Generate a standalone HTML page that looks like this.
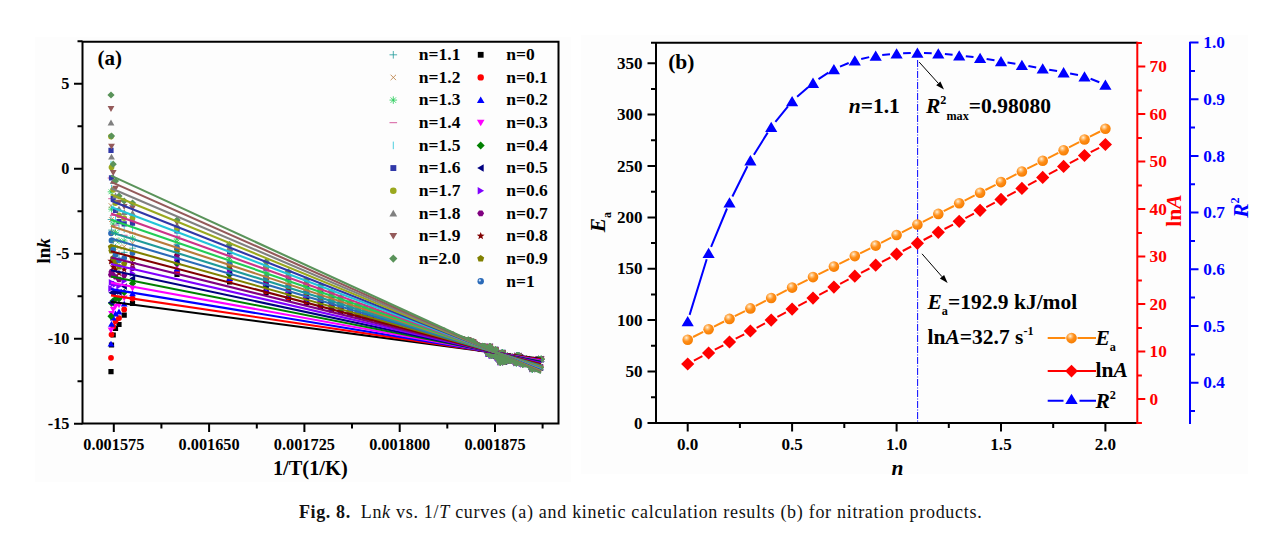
<!DOCTYPE html>
<html><head><meta charset="utf-8"><title>Fig. 8</title>
<style>
html,body{margin:0;padding:0;background:#fff;}
body{width:1269px;height:546px;overflow:hidden;font-family:"Liberation Serif",serif;}
svg{display:block;position:absolute;left:0;top:0;}
</style></head><body>
<svg width="1269" height="546" viewBox="0 0 1269 546">
<defs><radialGradient id="gs" cx="0.38" cy="0.32" r="0.7"><stop offset="0" stop-color="#fff1dc"/><stop offset="0.22" stop-color="#ffc27a"/><stop offset="0.5" stop-color="#ff8f1a"/><stop offset="1" stop-color="#f57c00"/></radialGradient></defs>
<rect width="1269" height="546" fill="#fff"/>
<rect x="35" y="37" width="536" height="445" fill="#fdfdfd"/><rect x="581" y="35" width="667" height="439" fill="#fdfdfd"/>
<g id="a-scatter">
<path d="M108.4 369h5.2v5.2h-5.2ZM108.9 342.4h5.2v5.2h-5.2ZM110.6 332.4h5.2v5.2h-5.2ZM112.9 325.9h5.2v5.2h-5.2ZM116.4 321.9h5.2v5.2h-5.2ZM121.6 312.6h5.2v5.2h-5.2ZM129.9 300.9h5.2v5.2h-5.2ZM174.4 271.7h5.2v5.2h-5.2ZM227 279.3h5.2v5.2h-5.2ZM263.5 289.8h5.2v5.2h-5.2ZM285.8 296.2h5.2v5.2h-5.2ZM303.8 299.9h5.2v5.2h-5.2ZM317.9 304.1h5.2v5.2h-5.2ZM328.9 307.2h5.2v5.2h-5.2ZM338 308.9h5.2v5.2h-5.2ZM347.2 311.8h5.2v5.2h-5.2ZM355.2 313.6h5.2v5.2h-5.2ZM362.4 314.6h5.2v5.2h-5.2ZM368.9 315.5h5.2v5.2h-5.2ZM374.7 317.6h5.2v5.2h-5.2ZM380 319h5.2v5.2h-5.2ZM384.7 319.9h5.2v5.2h-5.2ZM388.9 319.9h5.2v5.2h-5.2ZM392.8 320.7h5.2v5.2h-5.2ZM396.2 319.3h5.2v5.2h-5.2ZM399.3 320.2h5.2v5.2h-5.2ZM402.1 321.3h5.2v5.2h-5.2ZM404.6 321.9h5.2v5.2h-5.2ZM406.9 323.1h5.2v5.2h-5.2ZM408.9 323.8h5.2v5.2h-5.2ZM410.7 324.4h5.2v5.2h-5.2ZM412.4 323.5h5.2v5.2h-5.2ZM413.9 324h5.2v5.2h-5.2ZM415.2 325h5.2v5.2h-5.2ZM416.4 324.4h5.2v5.2h-5.2ZM417.5 325.5h5.2v5.2h-5.2ZM418.4 324.9h5.2v5.2h-5.2ZM419.3 324.7h5.2v5.2h-5.2ZM420.1 326.4h5.2v5.2h-5.2ZM420.9 324.7h5.2v5.2h-5.2ZM421.7 324.9h5.2v5.2h-5.2ZM422.5 326h5.2v5.2h-5.2ZM423.3 326h5.2v5.2h-5.2ZM424.1 326.9h5.2v5.2h-5.2ZM424.9 327.7h5.2v5.2h-5.2ZM425.7 327h5.2v5.2h-5.2ZM426.5 327.8h5.2v5.2h-5.2ZM427.3 327.2h5.2v5.2h-5.2ZM428.1 327.2h5.2v5.2h-5.2ZM428.9 327.4h5.2v5.2h-5.2ZM429.7 327.8h5.2v5.2h-5.2ZM430.5 329.1h5.2v5.2h-5.2ZM431.3 326.6h5.2v5.2h-5.2ZM432.1 328.1h5.2v5.2h-5.2ZM432.9 328.6h5.2v5.2h-5.2ZM433.7 329.2h5.2v5.2h-5.2ZM434.5 329.6h5.2v5.2h-5.2ZM435.3 330.8h5.2v5.2h-5.2ZM436.1 331h5.2v5.2h-5.2ZM436.9 330.4h5.2v5.2h-5.2ZM437.7 330.8h5.2v5.2h-5.2ZM438.5 329.3h5.2v5.2h-5.2ZM439.3 329.6h5.2v5.2h-5.2ZM440.1 331.3h5.2v5.2h-5.2ZM440.9 331.1h5.2v5.2h-5.2ZM441.7 331.1h5.2v5.2h-5.2ZM442.5 332h5.2v5.2h-5.2ZM443.3 332.6h5.2v5.2h-5.2ZM444.1 331.7h5.2v5.2h-5.2ZM444.9 332.9h5.2v5.2h-5.2ZM445.7 333h5.2v5.2h-5.2ZM446.5 333.5h5.2v5.2h-5.2ZM447.3 333h5.2v5.2h-5.2ZM448.1 333.2h5.2v5.2h-5.2ZM448.9 333.9h5.2v5.2h-5.2ZM449.7 334.7h5.2v5.2h-5.2ZM450.5 335.2h5.2v5.2h-5.2ZM451.3 336.1h5.2v5.2h-5.2ZM452.1 336h5.2v5.2h-5.2ZM452.9 336.3h5.2v5.2h-5.2ZM453.7 336.1h5.2v5.2h-5.2ZM454.5 336.5h5.2v5.2h-5.2ZM455.3 337.3h5.2v5.2h-5.2ZM456.1 338.3h5.2v5.2h-5.2ZM456.9 337.6h5.2v5.2h-5.2ZM457.7 338.2h5.2v5.2h-5.2ZM458.5 337.8h5.2v5.2h-5.2ZM459.3 337.5h5.2v5.2h-5.2ZM460.1 338.2h5.2v5.2h-5.2ZM460.9 338.6h5.2v5.2h-5.2ZM461.7 338.7h5.2v5.2h-5.2ZM462.5 338.5h5.2v5.2h-5.2ZM463.3 340.5h5.2v5.2h-5.2ZM464.1 339.9h5.2v5.2h-5.2ZM464.9 339.8h5.2v5.2h-5.2ZM465.7 338.3h5.2v5.2h-5.2ZM466.5 339h5.2v5.2h-5.2ZM467.3 340.4h5.2v5.2h-5.2ZM468.1 341.5h5.2v5.2h-5.2ZM468.9 339.8h5.2v5.2h-5.2ZM469.7 340.6h5.2v5.2h-5.2ZM470.5 340h5.2v5.2h-5.2ZM471.3 341.5h5.2v5.2h-5.2ZM472.1 342h5.2v5.2h-5.2ZM472.9 343.5h5.2v5.2h-5.2ZM473.7 343h5.2v5.2h-5.2ZM474.5 343.6h5.2v5.2h-5.2ZM475.3 344.3h5.2v5.2h-5.2ZM476.1 344.1h5.2v5.2h-5.2ZM476.9 345.2h5.2v5.2h-5.2ZM477.7 345.9h5.2v5.2h-5.2ZM478.5 346.2h5.2v5.2h-5.2ZM479.3 346.1h5.2v5.2h-5.2ZM480.1 344.1h5.2v5.2h-5.2ZM480.9 345h5.2v5.2h-5.2ZM481.7 344.3h5.2v5.2h-5.2ZM482.5 346.5h5.2v5.2h-5.2ZM483.3 346.6h5.2v5.2h-5.2ZM484.1 346.4h5.2v5.2h-5.2ZM484.9 348.3h5.2v5.2h-5.2ZM485.7 351.1h5.2v5.2h-5.2ZM486.5 350.2h5.2v5.2h-5.2ZM487.3 344.1h5.2v5.2h-5.2ZM488.1 351.1h5.2v5.2h-5.2ZM488.9 352.9h5.2v5.2h-5.2ZM489.7 348.4h5.2v5.2h-5.2ZM490.5 352h5.2v5.2h-5.2ZM491.3 350.9h5.2v5.2h-5.2ZM492.1 350.3h5.2v5.2h-5.2ZM492.9 347.1h5.2v5.2h-5.2ZM493.7 352h5.2v5.2h-5.2ZM494.5 354.6h5.2v5.2h-5.2ZM495.3 354.9h5.2v5.2h-5.2ZM496.1 356.7h5.2v5.2h-5.2ZM496.9 355.1h5.2v5.2h-5.2ZM497.7 359.7h5.2v5.2h-5.2ZM498.5 355.2h5.2v5.2h-5.2ZM499.3 350.4h5.2v5.2h-5.2ZM500.1 350.3h5.2v5.2h-5.2ZM500.9 359.1h5.2v5.2h-5.2ZM501.7 358.9h5.2v5.2h-5.2ZM502.5 355.3h5.2v5.2h-5.2ZM503.3 355.1h5.2v5.2h-5.2ZM504.1 358h5.2v5.2h-5.2ZM504.9 353.5h5.2v5.2h-5.2ZM505.7 354.1h5.2v5.2h-5.2ZM506.5 356.8h5.2v5.2h-5.2ZM507.3 357.9h5.2v5.2h-5.2ZM508.1 357.2h5.2v5.2h-5.2ZM508.9 355.9h5.2v5.2h-5.2ZM509.7 354.7h5.2v5.2h-5.2ZM510.5 355.7h5.2v5.2h-5.2ZM511.3 356.3h5.2v5.2h-5.2ZM512.1 358.8h5.2v5.2h-5.2ZM512.9 356.7h5.2v5.2h-5.2ZM513.7 360.4h5.2v5.2h-5.2ZM514.5 353.1h5.2v5.2h-5.2ZM515.3 356.1h5.2v5.2h-5.2ZM516.1 353.3h5.2v5.2h-5.2ZM516.9 359.2h5.2v5.2h-5.2ZM517.7 354.8h5.2v5.2h-5.2ZM518.5 359h5.2v5.2h-5.2ZM519.3 360.8h5.2v5.2h-5.2ZM520.1 361.7h5.2v5.2h-5.2ZM520.9 357h5.2v5.2h-5.2ZM521.7 359.4h5.2v5.2h-5.2ZM522.5 357.3h5.2v5.2h-5.2ZM523.3 359.5h5.2v5.2h-5.2ZM524.1 356.6h5.2v5.2h-5.2ZM524.9 357.8h5.2v5.2h-5.2ZM525.7 360h5.2v5.2h-5.2ZM526.5 359h5.2v5.2h-5.2ZM527.3 361.4h5.2v5.2h-5.2ZM528.1 360.4h5.2v5.2h-5.2ZM528.9 364.5h5.2v5.2h-5.2ZM529.7 366.6h5.2v5.2h-5.2ZM530.5 357.9h5.2v5.2h-5.2ZM531.3 364.8h5.2v5.2h-5.2ZM532.1 361.2h5.2v5.2h-5.2ZM532.9 365.9h5.2v5.2h-5.2ZM533.7 358.8h5.2v5.2h-5.2ZM534.5 365.6h5.2v5.2h-5.2ZM535.3 357.1h5.2v5.2h-5.2ZM536.1 356.7h5.2v5.2h-5.2ZM536.9 357h5.2v5.2h-5.2ZM537.7 364.9h5.2v5.2h-5.2ZM538.5 356.7h5.2v5.2h-5.2Z" fill="#000000"/>
<path d="M108.1 357.8a2.9 2.9 0 1 0 5.8 0a2.9 2.9 0 1 0 -5.8 0ZM108.6 334.6a2.9 2.9 0 1 0 5.8 0a2.9 2.9 0 1 0 -5.8 0ZM110.3 326.5a2.9 2.9 0 1 0 5.8 0a2.9 2.9 0 1 0 -5.8 0ZM112.6 321.1a2.9 2.9 0 1 0 5.8 0a2.9 2.9 0 1 0 -5.8 0ZM116.1 318.1a2.9 2.9 0 1 0 5.8 0a2.9 2.9 0 1 0 -5.8 0ZM121.3 309.5a2.9 2.9 0 1 0 5.8 0a2.9 2.9 0 1 0 -5.8 0ZM129.6 298.5a2.9 2.9 0 1 0 5.8 0a2.9 2.9 0 1 0 -5.8 0ZM174.1 271.6a2.9 2.9 0 1 0 5.8 0a2.9 2.9 0 1 0 -5.8 0ZM226.7 280a2.9 2.9 0 1 0 5.8 0a2.9 2.9 0 1 0 -5.8 0ZM263.2 290.9a2.9 2.9 0 1 0 5.8 0a2.9 2.9 0 1 0 -5.8 0ZM285.5 297.4a2.9 2.9 0 1 0 5.8 0a2.9 2.9 0 1 0 -5.8 0ZM303.5 301.4a2.9 2.9 0 1 0 5.8 0a2.9 2.9 0 1 0 -5.8 0ZM317.6 305.6a2.9 2.9 0 1 0 5.8 0a2.9 2.9 0 1 0 -5.8 0ZM328.6 308.9a2.9 2.9 0 1 0 5.8 0a2.9 2.9 0 1 0 -5.8 0ZM337.7 310.8a2.9 2.9 0 1 0 5.8 0a2.9 2.9 0 1 0 -5.8 0ZM346.9 313.8a2.9 2.9 0 1 0 5.8 0a2.9 2.9 0 1 0 -5.8 0ZM354.9 315.7a2.9 2.9 0 1 0 5.8 0a2.9 2.9 0 1 0 -5.8 0ZM362.1 316.7a2.9 2.9 0 1 0 5.8 0a2.9 2.9 0 1 0 -5.8 0ZM368.6 317.7a2.9 2.9 0 1 0 5.8 0a2.9 2.9 0 1 0 -5.8 0ZM374.4 319.8a2.9 2.9 0 1 0 5.8 0a2.9 2.9 0 1 0 -5.8 0ZM379.6 321.3a2.9 2.9 0 1 0 5.8 0a2.9 2.9 0 1 0 -5.8 0ZM384.4 322.2a2.9 2.9 0 1 0 5.8 0a2.9 2.9 0 1 0 -5.8 0ZM388.6 322.2a2.9 2.9 0 1 0 5.8 0a2.9 2.9 0 1 0 -5.8 0ZM392.5 323.1a2.9 2.9 0 1 0 5.8 0a2.9 2.9 0 1 0 -5.8 0ZM395.9 321.6a2.9 2.9 0 1 0 5.8 0a2.9 2.9 0 1 0 -5.8 0ZM399 322.6a2.9 2.9 0 1 0 5.8 0a2.9 2.9 0 1 0 -5.8 0ZM401.8 323.7a2.9 2.9 0 1 0 5.8 0a2.9 2.9 0 1 0 -5.8 0ZM404.3 324.3a2.9 2.9 0 1 0 5.8 0a2.9 2.9 0 1 0 -5.8 0ZM406.6 325.5a2.9 2.9 0 1 0 5.8 0a2.9 2.9 0 1 0 -5.8 0ZM408.6 326.2a2.9 2.9 0 1 0 5.8 0a2.9 2.9 0 1 0 -5.8 0ZM410.4 326.8a2.9 2.9 0 1 0 5.8 0a2.9 2.9 0 1 0 -5.8 0ZM412.1 325.9a2.9 2.9 0 1 0 5.8 0a2.9 2.9 0 1 0 -5.8 0ZM413.5 326.4a2.9 2.9 0 1 0 5.8 0a2.9 2.9 0 1 0 -5.8 0ZM414.9 327.4a2.9 2.9 0 1 0 5.8 0a2.9 2.9 0 1 0 -5.8 0ZM416.1 326.8a2.9 2.9 0 1 0 5.8 0a2.9 2.9 0 1 0 -5.8 0ZM417.2 327.9a2.9 2.9 0 1 0 5.8 0a2.9 2.9 0 1 0 -5.8 0ZM418.1 327.4a2.9 2.9 0 1 0 5.8 0a2.9 2.9 0 1 0 -5.8 0ZM419 327.1a2.9 2.9 0 1 0 5.8 0a2.9 2.9 0 1 0 -5.8 0ZM419.8 328.8a2.9 2.9 0 1 0 5.8 0a2.9 2.9 0 1 0 -5.8 0ZM420.6 327.2a2.9 2.9 0 1 0 5.8 0a2.9 2.9 0 1 0 -5.8 0ZM421.4 327.4a2.9 2.9 0 1 0 5.8 0a2.9 2.9 0 1 0 -5.8 0ZM422.2 328.5a2.9 2.9 0 1 0 5.8 0a2.9 2.9 0 1 0 -5.8 0ZM423 328.4a2.9 2.9 0 1 0 5.8 0a2.9 2.9 0 1 0 -5.8 0ZM423.8 329.3a2.9 2.9 0 1 0 5.8 0a2.9 2.9 0 1 0 -5.8 0ZM424.6 330.1a2.9 2.9 0 1 0 5.8 0a2.9 2.9 0 1 0 -5.8 0ZM425.4 329.5a2.9 2.9 0 1 0 5.8 0a2.9 2.9 0 1 0 -5.8 0ZM426.2 330.2a2.9 2.9 0 1 0 5.8 0a2.9 2.9 0 1 0 -5.8 0ZM427 329.7a2.9 2.9 0 1 0 5.8 0a2.9 2.9 0 1 0 -5.8 0ZM427.8 329.7a2.9 2.9 0 1 0 5.8 0a2.9 2.9 0 1 0 -5.8 0ZM428.6 329.9a2.9 2.9 0 1 0 5.8 0a2.9 2.9 0 1 0 -5.8 0ZM429.4 330.3a2.9 2.9 0 1 0 5.8 0a2.9 2.9 0 1 0 -5.8 0ZM430.2 331.6a2.9 2.9 0 1 0 5.8 0a2.9 2.9 0 1 0 -5.8 0ZM431 329.1a2.9 2.9 0 1 0 5.8 0a2.9 2.9 0 1 0 -5.8 0ZM431.8 330.5a2.9 2.9 0 1 0 5.8 0a2.9 2.9 0 1 0 -5.8 0ZM432.6 331.1a2.9 2.9 0 1 0 5.8 0a2.9 2.9 0 1 0 -5.8 0ZM433.4 331.7a2.9 2.9 0 1 0 5.8 0a2.9 2.9 0 1 0 -5.8 0ZM434.2 332.1a2.9 2.9 0 1 0 5.8 0a2.9 2.9 0 1 0 -5.8 0ZM435 333.3a2.9 2.9 0 1 0 5.8 0a2.9 2.9 0 1 0 -5.8 0ZM435.8 333.5a2.9 2.9 0 1 0 5.8 0a2.9 2.9 0 1 0 -5.8 0ZM436.6 332.9a2.9 2.9 0 1 0 5.8 0a2.9 2.9 0 1 0 -5.8 0ZM437.4 333.3a2.9 2.9 0 1 0 5.8 0a2.9 2.9 0 1 0 -5.8 0ZM438.2 331.8a2.9 2.9 0 1 0 5.8 0a2.9 2.9 0 1 0 -5.8 0ZM439 332.2a2.9 2.9 0 1 0 5.8 0a2.9 2.9 0 1 0 -5.8 0ZM439.8 333.8a2.9 2.9 0 1 0 5.8 0a2.9 2.9 0 1 0 -5.8 0ZM440.6 333.7a2.9 2.9 0 1 0 5.8 0a2.9 2.9 0 1 0 -5.8 0ZM441.4 333.6a2.9 2.9 0 1 0 5.8 0a2.9 2.9 0 1 0 -5.8 0ZM442.2 334.5a2.9 2.9 0 1 0 5.8 0a2.9 2.9 0 1 0 -5.8 0ZM443 335.1a2.9 2.9 0 1 0 5.8 0a2.9 2.9 0 1 0 -5.8 0ZM443.8 334.2a2.9 2.9 0 1 0 5.8 0a2.9 2.9 0 1 0 -5.8 0ZM444.6 335.4a2.9 2.9 0 1 0 5.8 0a2.9 2.9 0 1 0 -5.8 0ZM445.4 335.6a2.9 2.9 0 1 0 5.8 0a2.9 2.9 0 1 0 -5.8 0ZM446.2 336a2.9 2.9 0 1 0 5.8 0a2.9 2.9 0 1 0 -5.8 0ZM447 335.5a2.9 2.9 0 1 0 5.8 0a2.9 2.9 0 1 0 -5.8 0ZM447.8 335.7a2.9 2.9 0 1 0 5.8 0a2.9 2.9 0 1 0 -5.8 0ZM448.6 336.5a2.9 2.9 0 1 0 5.8 0a2.9 2.9 0 1 0 -5.8 0ZM449.4 337.2a2.9 2.9 0 1 0 5.8 0a2.9 2.9 0 1 0 -5.8 0ZM450.2 337.7a2.9 2.9 0 1 0 5.8 0a2.9 2.9 0 1 0 -5.8 0ZM451 338.6a2.9 2.9 0 1 0 5.8 0a2.9 2.9 0 1 0 -5.8 0ZM451.8 338.5a2.9 2.9 0 1 0 5.8 0a2.9 2.9 0 1 0 -5.8 0ZM452.6 338.8a2.9 2.9 0 1 0 5.8 0a2.9 2.9 0 1 0 -5.8 0ZM453.4 338.7a2.9 2.9 0 1 0 5.8 0a2.9 2.9 0 1 0 -5.8 0ZM454.2 339a2.9 2.9 0 1 0 5.8 0a2.9 2.9 0 1 0 -5.8 0ZM455 339.8a2.9 2.9 0 1 0 5.8 0a2.9 2.9 0 1 0 -5.8 0ZM455.8 340.9a2.9 2.9 0 1 0 5.8 0a2.9 2.9 0 1 0 -5.8 0ZM456.6 340.1a2.9 2.9 0 1 0 5.8 0a2.9 2.9 0 1 0 -5.8 0ZM457.4 340.7a2.9 2.9 0 1 0 5.8 0a2.9 2.9 0 1 0 -5.8 0ZM458.2 340.3a2.9 2.9 0 1 0 5.8 0a2.9 2.9 0 1 0 -5.8 0ZM459 340a2.9 2.9 0 1 0 5.8 0a2.9 2.9 0 1 0 -5.8 0ZM459.8 340.8a2.9 2.9 0 1 0 5.8 0a2.9 2.9 0 1 0 -5.8 0ZM460.6 341.2a2.9 2.9 0 1 0 5.8 0a2.9 2.9 0 1 0 -5.8 0ZM461.4 341.3a2.9 2.9 0 1 0 5.8 0a2.9 2.9 0 1 0 -5.8 0ZM462.2 341.1a2.9 2.9 0 1 0 5.8 0a2.9 2.9 0 1 0 -5.8 0ZM463 343.1a2.9 2.9 0 1 0 5.8 0a2.9 2.9 0 1 0 -5.8 0ZM463.8 342.4a2.9 2.9 0 1 0 5.8 0a2.9 2.9 0 1 0 -5.8 0ZM464.6 342.4a2.9 2.9 0 1 0 5.8 0a2.9 2.9 0 1 0 -5.8 0ZM465.4 340.8a2.9 2.9 0 1 0 5.8 0a2.9 2.9 0 1 0 -5.8 0ZM466.2 341.6a2.9 2.9 0 1 0 5.8 0a2.9 2.9 0 1 0 -5.8 0ZM467 343a2.9 2.9 0 1 0 5.8 0a2.9 2.9 0 1 0 -5.8 0ZM467.8 344a2.9 2.9 0 1 0 5.8 0a2.9 2.9 0 1 0 -5.8 0ZM468.6 342.4a2.9 2.9 0 1 0 5.8 0a2.9 2.9 0 1 0 -5.8 0ZM469.4 343.2a2.9 2.9 0 1 0 5.8 0a2.9 2.9 0 1 0 -5.8 0ZM470.2 342.6a2.9 2.9 0 1 0 5.8 0a2.9 2.9 0 1 0 -5.8 0ZM471 344.1a2.9 2.9 0 1 0 5.8 0a2.9 2.9 0 1 0 -5.8 0ZM471.8 344.5a2.9 2.9 0 1 0 5.8 0a2.9 2.9 0 1 0 -5.8 0ZM472.6 346a2.9 2.9 0 1 0 5.8 0a2.9 2.9 0 1 0 -5.8 0ZM473.4 345.6a2.9 2.9 0 1 0 5.8 0a2.9 2.9 0 1 0 -5.8 0ZM474.2 346.1a2.9 2.9 0 1 0 5.8 0a2.9 2.9 0 1 0 -5.8 0ZM475 346.9a2.9 2.9 0 1 0 5.8 0a2.9 2.9 0 1 0 -5.8 0ZM475.8 346.7a2.9 2.9 0 1 0 5.8 0a2.9 2.9 0 1 0 -5.8 0ZM476.6 347.8a2.9 2.9 0 1 0 5.8 0a2.9 2.9 0 1 0 -5.8 0ZM477.4 348.5a2.9 2.9 0 1 0 5.8 0a2.9 2.9 0 1 0 -5.8 0ZM478.2 348.8a2.9 2.9 0 1 0 5.8 0a2.9 2.9 0 1 0 -5.8 0ZM479 348.7a2.9 2.9 0 1 0 5.8 0a2.9 2.9 0 1 0 -5.8 0ZM479.8 346.7a2.9 2.9 0 1 0 5.8 0a2.9 2.9 0 1 0 -5.8 0ZM480.6 347.6a2.9 2.9 0 1 0 5.8 0a2.9 2.9 0 1 0 -5.8 0ZM481.4 346.9a2.9 2.9 0 1 0 5.8 0a2.9 2.9 0 1 0 -5.8 0ZM482.2 349a2.9 2.9 0 1 0 5.8 0a2.9 2.9 0 1 0 -5.8 0ZM483 349.1a2.9 2.9 0 1 0 5.8 0a2.9 2.9 0 1 0 -5.8 0ZM483.8 349a2.9 2.9 0 1 0 5.8 0a2.9 2.9 0 1 0 -5.8 0ZM484.6 350.9a2.9 2.9 0 1 0 5.8 0a2.9 2.9 0 1 0 -5.8 0ZM485.4 353.7a2.9 2.9 0 1 0 5.8 0a2.9 2.9 0 1 0 -5.8 0ZM486.2 352.8a2.9 2.9 0 1 0 5.8 0a2.9 2.9 0 1 0 -5.8 0ZM487 346.7a2.9 2.9 0 1 0 5.8 0a2.9 2.9 0 1 0 -5.8 0ZM487.8 353.7a2.9 2.9 0 1 0 5.8 0a2.9 2.9 0 1 0 -5.8 0ZM488.6 355.5a2.9 2.9 0 1 0 5.8 0a2.9 2.9 0 1 0 -5.8 0ZM489.4 351a2.9 2.9 0 1 0 5.8 0a2.9 2.9 0 1 0 -5.8 0ZM490.2 354.6a2.9 2.9 0 1 0 5.8 0a2.9 2.9 0 1 0 -5.8 0ZM491 353.5a2.9 2.9 0 1 0 5.8 0a2.9 2.9 0 1 0 -5.8 0ZM491.8 352.9a2.9 2.9 0 1 0 5.8 0a2.9 2.9 0 1 0 -5.8 0ZM492.6 349.7a2.9 2.9 0 1 0 5.8 0a2.9 2.9 0 1 0 -5.8 0ZM493.4 354.6a2.9 2.9 0 1 0 5.8 0a2.9 2.9 0 1 0 -5.8 0ZM494.2 357.2a2.9 2.9 0 1 0 5.8 0a2.9 2.9 0 1 0 -5.8 0ZM495 357.5a2.9 2.9 0 1 0 5.8 0a2.9 2.9 0 1 0 -5.8 0ZM495.8 359.3a2.9 2.9 0 1 0 5.8 0a2.9 2.9 0 1 0 -5.8 0ZM496.6 357.7a2.9 2.9 0 1 0 5.8 0a2.9 2.9 0 1 0 -5.8 0ZM497.4 362.3a2.9 2.9 0 1 0 5.8 0a2.9 2.9 0 1 0 -5.8 0ZM498.2 357.8a2.9 2.9 0 1 0 5.8 0a2.9 2.9 0 1 0 -5.8 0ZM499 353a2.9 2.9 0 1 0 5.8 0a2.9 2.9 0 1 0 -5.8 0ZM499.8 352.9a2.9 2.9 0 1 0 5.8 0a2.9 2.9 0 1 0 -5.8 0ZM500.6 361.7a2.9 2.9 0 1 0 5.8 0a2.9 2.9 0 1 0 -5.8 0ZM501.4 361.5a2.9 2.9 0 1 0 5.8 0a2.9 2.9 0 1 0 -5.8 0ZM502.2 357.9a2.9 2.9 0 1 0 5.8 0a2.9 2.9 0 1 0 -5.8 0ZM503 357.7a2.9 2.9 0 1 0 5.8 0a2.9 2.9 0 1 0 -5.8 0ZM503.8 360.6a2.9 2.9 0 1 0 5.8 0a2.9 2.9 0 1 0 -5.8 0ZM504.6 356.1a2.9 2.9 0 1 0 5.8 0a2.9 2.9 0 1 0 -5.8 0ZM505.4 356.7a2.9 2.9 0 1 0 5.8 0a2.9 2.9 0 1 0 -5.8 0ZM506.2 359.4a2.9 2.9 0 1 0 5.8 0a2.9 2.9 0 1 0 -5.8 0ZM507 360.5a2.9 2.9 0 1 0 5.8 0a2.9 2.9 0 1 0 -5.8 0ZM507.8 359.8a2.9 2.9 0 1 0 5.8 0a2.9 2.9 0 1 0 -5.8 0ZM508.6 358.5a2.9 2.9 0 1 0 5.8 0a2.9 2.9 0 1 0 -5.8 0ZM509.4 357.3a2.9 2.9 0 1 0 5.8 0a2.9 2.9 0 1 0 -5.8 0ZM510.2 358.3a2.9 2.9 0 1 0 5.8 0a2.9 2.9 0 1 0 -5.8 0ZM511 358.9a2.9 2.9 0 1 0 5.8 0a2.9 2.9 0 1 0 -5.8 0ZM511.8 361.4a2.9 2.9 0 1 0 5.8 0a2.9 2.9 0 1 0 -5.8 0ZM512.6 359.3a2.9 2.9 0 1 0 5.8 0a2.9 2.9 0 1 0 -5.8 0ZM513.4 363a2.9 2.9 0 1 0 5.8 0a2.9 2.9 0 1 0 -5.8 0ZM514.2 355.7a2.9 2.9 0 1 0 5.8 0a2.9 2.9 0 1 0 -5.8 0ZM515 358.7a2.9 2.9 0 1 0 5.8 0a2.9 2.9 0 1 0 -5.8 0ZM515.8 355.9a2.9 2.9 0 1 0 5.8 0a2.9 2.9 0 1 0 -5.8 0ZM516.6 361.8a2.9 2.9 0 1 0 5.8 0a2.9 2.9 0 1 0 -5.8 0ZM517.4 357.4a2.9 2.9 0 1 0 5.8 0a2.9 2.9 0 1 0 -5.8 0ZM518.2 361.6a2.9 2.9 0 1 0 5.8 0a2.9 2.9 0 1 0 -5.8 0ZM519 363.4a2.9 2.9 0 1 0 5.8 0a2.9 2.9 0 1 0 -5.8 0ZM519.8 364.3a2.9 2.9 0 1 0 5.8 0a2.9 2.9 0 1 0 -5.8 0ZM520.6 359.6a2.9 2.9 0 1 0 5.8 0a2.9 2.9 0 1 0 -5.8 0ZM521.4 362a2.9 2.9 0 1 0 5.8 0a2.9 2.9 0 1 0 -5.8 0ZM522.2 359.9a2.9 2.9 0 1 0 5.8 0a2.9 2.9 0 1 0 -5.8 0ZM523 362.1a2.9 2.9 0 1 0 5.8 0a2.9 2.9 0 1 0 -5.8 0ZM523.8 359.2a2.9 2.9 0 1 0 5.8 0a2.9 2.9 0 1 0 -5.8 0ZM524.6 360.4a2.9 2.9 0 1 0 5.8 0a2.9 2.9 0 1 0 -5.8 0ZM525.4 362.6a2.9 2.9 0 1 0 5.8 0a2.9 2.9 0 1 0 -5.8 0ZM526.2 361.6a2.9 2.9 0 1 0 5.8 0a2.9 2.9 0 1 0 -5.8 0ZM527 364a2.9 2.9 0 1 0 5.8 0a2.9 2.9 0 1 0 -5.8 0ZM527.8 363a2.9 2.9 0 1 0 5.8 0a2.9 2.9 0 1 0 -5.8 0ZM528.6 367.1a2.9 2.9 0 1 0 5.8 0a2.9 2.9 0 1 0 -5.8 0ZM529.4 369.2a2.9 2.9 0 1 0 5.8 0a2.9 2.9 0 1 0 -5.8 0ZM530.2 360.5a2.9 2.9 0 1 0 5.8 0a2.9 2.9 0 1 0 -5.8 0ZM531 367.4a2.9 2.9 0 1 0 5.8 0a2.9 2.9 0 1 0 -5.8 0ZM531.8 363.8a2.9 2.9 0 1 0 5.8 0a2.9 2.9 0 1 0 -5.8 0ZM532.6 368.5a2.9 2.9 0 1 0 5.8 0a2.9 2.9 0 1 0 -5.8 0ZM533.4 361.4a2.9 2.9 0 1 0 5.8 0a2.9 2.9 0 1 0 -5.8 0ZM534.2 368.2a2.9 2.9 0 1 0 5.8 0a2.9 2.9 0 1 0 -5.8 0ZM535 359.7a2.9 2.9 0 1 0 5.8 0a2.9 2.9 0 1 0 -5.8 0ZM535.8 359.3a2.9 2.9 0 1 0 5.8 0a2.9 2.9 0 1 0 -5.8 0ZM536.6 359.6a2.9 2.9 0 1 0 5.8 0a2.9 2.9 0 1 0 -5.8 0ZM537.4 367.5a2.9 2.9 0 1 0 5.8 0a2.9 2.9 0 1 0 -5.8 0ZM538.2 359.3a2.9 2.9 0 1 0 5.8 0a2.9 2.9 0 1 0 -5.8 0Z" fill="#ff0000"/>
<path d="M111 340.8L114.4 346.6L107.6 346.6ZM111.5 321L114.9 326.8L108.1 326.8ZM113.2 314.8L116.6 320.6L109.8 320.6ZM115.5 310.6L118.9 316.5L112.1 316.5ZM119 308.5L122.4 314.4L115.6 314.4ZM124.2 300.7L127.6 306.5L120.8 306.5ZM132.5 290.3L135.9 296.2L129.1 296.2ZM177 265.8L180.4 271.6L173.6 271.6ZM229.6 275L233 280.9L226.2 280.9ZM266.1 286.2L269.5 292L262.7 292ZM288.4 293L291.8 298.8L285 298.8ZM306.4 297.1L309.8 303L303 303ZM320.5 301.5L323.9 307.3L317.1 307.3ZM331.5 304.9L334.9 310.7L328.1 310.7ZM340.6 307L344 312.8L337.2 312.8ZM349.8 310.1L353.2 316L346.4 316ZM357.8 312L361.2 317.8L354.4 317.8ZM365 313.1L368.4 318.9L361.6 318.9ZM371.5 314.1L374.9 319.9L368 319.9ZM377.3 316.3L380.7 322.2L373.9 322.2ZM382.6 317.8L386 323.6L379.1 323.6ZM387.3 318.7L390.7 324.6L383.9 324.6ZM391.5 318.8L395 324.6L388.1 324.6ZM395.4 319.7L398.8 325.5L391.9 325.5ZM398.8 318.3L402.2 324.1L395.4 324.1ZM401.9 319.2L405.3 325L398.5 325ZM404.7 320.4L408.1 326.2L401.3 326.2ZM407.2 321L410.6 326.8L403.8 326.8ZM409.5 322.2L412.9 328L406 328ZM411.5 322.9L414.9 328.7L408.1 328.7ZM413.3 323.5L416.8 329.3L409.9 329.3ZM415 322.6L418.4 328.4L411.5 328.4ZM416.5 323.1L419.9 329L413 329ZM417.8 324.1L421.2 329.9L414.4 329.9ZM419 323.5L422.4 329.4L415.6 329.4ZM420.1 324.7L423.5 330.5L416.6 330.5ZM421 324.1L424.5 329.9L417.6 329.9ZM421.9 323.8L425.4 329.7L418.5 329.7ZM422.7 325.5L426.2 331.4L419.3 331.4ZM423.5 323.9L427 329.7L420.1 329.7ZM424.3 324.1L427.8 329.9L420.9 329.9ZM425.1 325.2L428.6 331L421.7 331ZM425.9 325.1L429.4 331L422.5 331ZM426.7 326.1L430.2 331.9L423.3 331.9ZM427.5 326.9L431 332.7L424.1 332.7ZM428.3 326.2L431.8 332L424.9 332ZM429.1 327L432.6 332.8L425.7 332.8ZM429.9 326.4L433.4 332.3L426.5 332.3ZM430.7 326.4L434.2 332.2L427.3 332.2ZM431.5 326.7L435 332.5L428.1 332.5ZM432.3 327.1L435.8 332.9L428.9 332.9ZM433.1 328.4L436.6 334.2L429.7 334.2ZM433.9 325.9L437.4 331.7L430.5 331.7ZM434.7 327.3L438.2 333.1L431.3 333.1ZM435.5 327.8L439 333.7L432.1 333.7ZM436.3 328.4L439.8 334.3L432.9 334.3ZM437.1 328.9L440.6 334.7L433.7 334.7ZM437.9 330.1L441.4 335.9L434.5 335.9ZM438.7 330.3L442.2 336.1L435.3 336.1ZM439.5 329.7L443 335.5L436.1 335.5ZM440.3 330.1L443.8 335.9L436.9 335.9ZM441.1 328.6L444.6 334.4L437.7 334.4ZM441.9 328.9L445.4 334.8L438.5 334.8ZM442.7 330.6L446.2 336.4L439.3 336.4ZM443.5 330.4L447 336.3L440.1 336.3ZM444.3 330.4L447.8 336.2L440.9 336.2ZM445.1 331.3L448.6 337.1L441.7 337.1ZM445.9 331.9L449.4 337.7L442.5 337.7ZM446.7 331L450.2 336.9L443.3 336.9ZM447.5 332.2L451 338L444.1 338ZM448.3 332.4L451.8 338.2L444.9 338.2ZM449.1 332.8L452.6 338.6L445.7 338.6ZM449.9 332.3L453.4 338.2L446.5 338.2ZM450.7 332.5L454.2 338.3L447.3 338.3ZM451.5 333.3L455 339.1L448.1 339.1ZM452.3 334L455.8 339.8L448.9 339.8ZM453.1 334.5L456.6 340.3L449.7 340.3ZM453.9 335.4L457.4 341.2L450.5 341.2ZM454.7 335.3L458.2 341.1L451.3 341.1ZM455.5 335.6L459 341.5L452.1 341.5ZM456.3 335.5L459.8 341.3L452.9 341.3ZM457.1 335.8L460.6 341.6L453.7 341.6ZM457.9 336.6L461.4 342.5L454.5 342.5ZM458.7 337.7L462.2 343.5L455.3 343.5ZM459.5 336.9L463 342.7L456.1 342.7ZM460.3 337.5L463.8 343.4L456.9 343.4ZM461.1 337.2L464.6 343L457.7 343ZM461.9 336.9L465.4 342.7L458.5 342.7ZM462.7 337.6L466.2 343.4L459.3 343.4ZM463.5 338L467 343.8L460.1 343.8ZM464.3 338.1L467.8 343.9L460.9 343.9ZM465.1 337.9L468.6 343.7L461.7 343.7ZM465.9 339.9L469.4 345.7L462.5 345.7ZM466.7 339.3L470.2 345.1L463.3 345.1ZM467.5 339.2L471 345L464.1 345ZM468.3 337.6L471.8 343.5L464.9 343.5ZM469.1 338.4L472.6 344.2L465.7 344.2ZM469.9 339.8L473.4 345.6L466.5 345.6ZM470.7 340.9L474.2 346.7L467.3 346.7ZM471.5 339.2L475 345L468.1 345ZM472.3 340L475.8 345.8L468.9 345.8ZM473.1 339.4L476.6 345.2L469.7 345.2ZM473.9 340.9L477.4 346.7L470.5 346.7ZM474.7 341.4L478.2 347.2L471.3 347.2ZM475.5 342.9L479 348.7L472.1 348.7ZM476.3 342.4L479.8 348.2L472.9 348.2ZM477.1 343L480.6 348.8L473.7 348.8ZM477.9 343.7L481.4 349.5L474.5 349.5ZM478.7 343.5L482.2 349.3L475.3 349.3ZM479.5 344.6L483 350.5L476.1 350.5ZM480.3 345.3L483.8 351.1L476.9 351.1ZM481.1 345.6L484.6 351.4L477.7 351.4ZM481.9 345.6L485.4 351.4L478.5 351.4ZM482.7 343.6L486.2 349.4L479.3 349.4ZM483.5 344.4L487 350.2L480.1 350.2ZM484.3 343.8L487.8 349.6L480.9 349.6ZM485.1 345.9L488.6 351.7L481.7 351.7ZM485.9 346L489.4 351.8L482.5 351.8ZM486.7 345.9L490.2 351.7L483.3 351.7ZM487.5 347.7L491 353.6L484.1 353.6ZM488.3 350.5L491.8 356.4L484.9 356.4ZM489.1 349.6L492.6 355.5L485.7 355.5ZM489.9 343.6L493.4 349.4L486.5 349.4ZM490.7 350.5L494.2 356.4L487.3 356.4ZM491.5 352.4L495 358.2L488.1 358.2ZM492.3 347.9L495.8 353.7L488.9 353.7ZM493.1 351.5L496.6 357.3L489.7 357.3ZM493.9 350.4L497.4 356.2L490.5 356.2ZM494.7 349.7L498.2 355.6L491.3 355.6ZM495.5 346.6L499 352.4L492.1 352.4ZM496.3 351.4L499.8 357.3L492.9 357.3ZM497.1 354.1L500.6 359.9L493.7 359.9ZM497.9 354.3L501.4 360.2L494.5 360.2ZM498.7 356.2L502.2 362L495.3 362ZM499.5 354.5L503 360.4L496.1 360.4ZM500.3 359.2L503.8 365L496.9 365ZM501.1 354.7L504.6 360.5L497.7 360.5ZM501.9 349.9L505.4 355.7L498.5 355.7ZM502.7 349.8L506.2 355.6L499.3 355.6ZM503.5 358.5L507 364.4L500.1 364.4ZM504.3 358.4L507.8 364.2L500.9 364.2ZM505.1 354.8L508.6 360.6L501.7 360.6ZM505.9 354.6L509.4 360.4L502.5 360.4ZM506.7 357.5L510.2 363.3L503.3 363.3ZM507.5 353L511 358.8L504.1 358.8ZM508.3 353.6L511.8 359.4L504.9 359.4ZM509.1 356.2L512.6 362.1L505.7 362.1ZM509.9 357.4L513.4 363.2L506.5 363.2ZM510.7 356.7L514.2 362.5L507.3 362.5ZM511.5 355.4L515 361.2L508.1 361.2ZM512.3 354.2L515.8 360L508.9 360ZM513.1 355.2L516.6 361L509.7 361ZM513.9 355.8L517.4 361.6L510.5 361.6ZM514.7 358.3L518.2 364.1L511.3 364.1ZM515.5 356.1L519 362L512.1 362ZM516.3 359.9L519.8 365.7L512.9 365.7ZM517.1 352.6L520.6 358.4L513.7 358.4ZM517.9 355.6L521.4 361.4L514.5 361.4ZM518.7 352.8L522.2 358.6L515.3 358.6ZM519.5 358.7L523 364.5L516.1 364.5ZM520.3 354.2L523.8 360.1L516.9 360.1ZM521.1 358.4L524.6 364.3L517.7 364.3ZM521.9 360.2L525.4 366.1L518.5 366.1ZM522.7 361.1L526.2 367L519.3 367ZM523.5 356.4L527 362.3L520.1 362.3ZM524.3 358.9L527.8 364.7L520.9 364.7ZM525.1 356.8L528.6 362.6L521.7 362.6ZM525.9 358.9L529.4 364.8L522.5 364.8ZM526.7 356.1L530.2 361.9L523.3 361.9ZM527.5 357.2L531 363.1L524.1 363.1ZM528.3 359.5L531.8 365.3L524.9 365.3ZM529.1 358.5L532.6 364.3L525.7 364.3ZM529.9 360.8L533.4 366.7L526.5 366.7ZM530.7 359.9L534.2 365.7L527.3 365.7ZM531.5 364L535 369.8L528.1 369.8ZM532.3 366.1L535.8 371.9L528.9 371.9ZM533.1 357.3L536.6 363.2L529.7 363.2ZM533.9 364.3L537.4 370.1L530.5 370.1ZM534.7 360.6L538.2 366.5L531.3 366.5ZM535.5 365.4L539 371.2L532.1 371.2ZM536.3 358.3L539.8 364.1L532.9 364.1ZM537.1 365L540.6 370.9L533.7 370.9ZM537.9 356.5L541.4 362.4L534.5 362.4ZM538.7 356.2L542.2 362L535.3 362ZM539.5 356.4L543 362.3L536.1 362.3ZM540.3 364.4L543.8 370.2L536.9 370.2ZM541.1 356.2L544.6 362L537.7 362Z" fill="#0000ff"/>
<path d="M111 333.2L114.4 327.4L107.6 327.4ZM111.5 316.8L114.9 310.9L108.1 310.9ZM113.2 312.5L116.6 306.7L109.8 306.7ZM115.5 309.5L118.9 303.7L112.1 303.7ZM119 308.3L122.4 302.5L115.6 302.5ZM124.2 301.2L127.6 295.4L120.8 295.4ZM132.5 291.5L135.9 285.7L129.1 285.7ZM177 269.3L180.4 263.5L173.6 263.5ZM229.6 279.4L233 273.6L226.2 273.6ZM266.1 290.9L269.5 285.1L262.7 285.1ZM288.4 297.9L291.8 292L285 292ZM306.4 302.2L309.8 296.4L303 296.4ZM320.5 306.6L323.9 300.8L317.1 300.8ZM331.5 310.2L334.9 304.4L328.1 304.4ZM340.6 312.5L344 306.7L337.2 306.7ZM349.8 315.8L353.2 310L346.4 310ZM357.8 317.7L361.2 311.9L354.4 311.9ZM365 318.9L368.4 313.1L361.6 313.1ZM371.5 319.9L374.9 314.1L368 314.1ZM377.3 322.2L380.7 316.4L373.9 316.4ZM382.6 323.7L386 317.9L379.1 317.9ZM387.3 324.7L390.7 318.8L383.9 318.8ZM391.5 324.7L395 318.9L388.1 318.9ZM395.4 325.6L398.8 319.8L391.9 319.8ZM398.8 324.2L402.2 318.4L395.4 318.4ZM401.9 325.2L405.3 319.4L398.5 319.4ZM404.7 326.4L408.1 320.6L401.3 320.6ZM407.2 327L410.6 321.2L403.8 321.2ZM409.5 328.2L412.9 322.4L406 322.4ZM411.5 329L414.9 323.1L408.1 323.1ZM413.3 329.5L416.8 323.7L409.9 323.7ZM415 328.6L418.4 322.8L411.5 322.8ZM416.5 329.2L419.9 323.4L413 323.4ZM417.8 330.2L421.2 324.3L414.4 324.3ZM419 329.6L422.4 323.8L415.6 323.8ZM420.1 330.7L423.5 324.9L416.6 324.9ZM421 330.1L424.5 324.3L417.6 324.3ZM421.9 329.9L425.4 324.1L418.5 324.1ZM422.7 331.6L426.2 325.8L419.3 325.8ZM423.5 330L427 324.1L420.1 324.1ZM424.3 330.2L427.8 324.4L420.9 324.4ZM425.1 331.3L428.6 325.5L421.7 325.5ZM425.9 331.2L429.4 325.4L422.5 325.4ZM426.7 332.2L430.2 326.3L423.3 326.3ZM427.5 333L431 327.2L424.1 327.2ZM428.3 332.3L431.8 326.5L424.9 326.5ZM429.1 333.1L432.6 327.3L425.7 327.3ZM429.9 332.6L433.4 326.7L426.5 326.7ZM430.7 332.5L434.2 326.7L427.3 326.7ZM431.5 332.8L435 327L428.1 327ZM432.3 333.2L435.8 327.4L428.9 327.4ZM433.1 334.5L436.6 328.7L429.7 328.7ZM433.9 332L437.4 326.2L430.5 326.2ZM434.7 333.4L438.2 327.6L431.3 327.6ZM435.5 334L439 328.1L432.1 328.1ZM436.3 334.6L439.8 328.7L432.9 328.7ZM437.1 335L440.6 329.2L433.7 329.2ZM437.9 336.2L441.4 330.4L434.5 330.4ZM438.7 336.4L442.2 330.6L435.3 330.6ZM439.5 335.8L443 330L436.1 330ZM440.3 336.3L443.8 330.4L436.9 330.4ZM441.1 334.7L444.6 328.9L437.7 328.9ZM441.9 335.1L445.4 329.3L438.5 329.3ZM442.7 336.7L446.2 330.9L439.3 330.9ZM443.5 336.6L447 330.8L440.1 330.8ZM444.3 336.5L447.8 330.7L440.9 330.7ZM445.1 337.4L448.6 331.6L441.7 331.6ZM445.9 338.1L449.4 332.2L442.5 332.2ZM446.7 337.2L450.2 331.4L443.3 331.4ZM447.5 338.3L451 332.5L444.1 332.5ZM448.3 338.5L451.8 332.7L444.9 332.7ZM449.1 339L452.6 333.1L445.7 333.1ZM449.9 338.5L453.4 332.7L446.5 332.7ZM450.7 338.7L454.2 332.9L447.3 332.9ZM451.5 339.4L455 333.6L448.1 333.6ZM452.3 340.1L455.8 334.3L448.9 334.3ZM453.1 340.7L456.6 334.8L449.7 334.8ZM453.9 341.6L457.4 335.8L450.5 335.8ZM454.7 341.5L458.2 335.6L451.3 335.6ZM455.5 341.8L459 336L452.1 336ZM456.3 341.7L459.8 335.8L452.9 335.8ZM457.1 342L460.6 336.2L453.7 336.2ZM457.9 342.8L461.4 337L454.5 337ZM458.7 343.8L462.2 338L455.3 338ZM459.5 343.1L463 337.3L456.1 337.3ZM460.3 343.7L463.8 337.9L456.9 337.9ZM461.1 343.3L464.6 337.5L457.7 337.5ZM461.9 343L465.4 337.2L458.5 337.2ZM462.7 343.8L466.2 337.9L459.3 337.9ZM463.5 344.2L467 338.3L460.1 338.3ZM464.3 344.3L467.8 338.5L460.9 338.5ZM465.1 344.1L468.6 338.3L461.7 338.3ZM465.9 346.1L469.4 340.3L462.5 340.3ZM466.7 345.4L470.2 339.6L463.3 339.6ZM467.5 345.4L471 339.6L464.1 339.6ZM468.3 343.8L471.8 338L464.9 338ZM469.1 344.6L472.6 338.8L465.7 338.8ZM469.9 346L473.4 340.1L466.5 340.1ZM470.7 347.1L474.2 341.2L467.3 341.2ZM471.5 345.4L475 339.6L468.1 339.6ZM472.3 346.2L475.8 340.4L468.9 340.4ZM473.1 345.6L476.6 339.8L469.7 339.8ZM473.9 347.1L477.4 341.3L470.5 341.3ZM474.7 347.6L478.2 341.7L471.3 341.7ZM475.5 349.1L479 343.3L472.1 343.3ZM476.3 348.6L479.8 342.8L472.9 342.8ZM477.1 349.2L480.6 343.4L473.7 343.4ZM477.9 349.9L481.4 344.1L474.5 344.1ZM478.7 349.7L482.2 343.9L475.3 343.9ZM479.5 350.9L483 345L476.1 345ZM480.3 351.5L483.8 345.7L476.9 345.7ZM481.1 351.8L484.6 346L477.7 346ZM481.9 351.8L485.4 345.9L478.5 345.9ZM482.7 349.8L486.2 344L479.3 344ZM483.5 350.6L487 344.8L480.1 344.8ZM484.3 350L487.8 344.2L480.9 344.2ZM485.1 352.1L488.6 346.3L481.7 346.3ZM485.9 352.2L489.4 346.4L482.5 346.4ZM486.7 352.1L490.2 346.3L483.3 346.3ZM487.5 354L491 348.1L484.1 348.1ZM488.3 356.8L491.8 350.9L484.9 350.9ZM489.1 355.9L492.6 350L485.7 350ZM489.9 349.8L493.4 344L486.5 344ZM490.7 356.8L494.2 350.9L487.3 350.9ZM491.5 358.6L495 352.8L488.1 352.8ZM492.3 354.1L495.8 348.3L488.9 348.3ZM493.1 357.7L496.6 351.9L489.7 351.9ZM493.9 356.6L497.4 350.8L490.5 350.8ZM494.7 356L498.2 350.1L491.3 350.1ZM495.5 352.8L499 347L492.1 347ZM496.3 357.7L499.8 351.8L492.9 351.8ZM497.1 360.4L500.6 354.5L493.7 354.5ZM497.9 360.6L501.4 354.8L494.5 354.8ZM498.7 362.4L502.2 356.6L495.3 356.6ZM499.5 360.8L503 354.9L496.1 354.9ZM500.3 365.5L503.8 359.6L496.9 359.6ZM501.1 361L504.6 355.1L497.7 355.1ZM501.9 356.1L505.4 350.3L498.5 350.3ZM502.7 356L506.2 350.2L499.3 350.2ZM503.5 364.8L507 359L500.1 359ZM504.3 364.6L507.8 358.8L500.9 358.8ZM505.1 361.1L508.6 355.2L501.7 355.2ZM505.9 360.8L509.4 355L502.5 355ZM506.7 363.7L510.2 357.9L503.3 357.9ZM507.5 359.2L511 353.4L504.1 353.4ZM508.3 359.8L511.8 354L504.9 354ZM509.1 362.5L512.6 356.7L505.7 356.7ZM509.9 363.6L513.4 357.8L506.5 357.8ZM510.7 362.9L514.2 357.1L507.3 357.1ZM511.5 361.6L515 355.8L508.1 355.8ZM512.3 360.4L515.8 354.6L508.9 354.6ZM513.1 361.5L516.6 355.6L509.7 355.6ZM513.9 362L517.4 356.2L510.5 356.2ZM514.7 364.5L518.2 358.7L511.3 358.7ZM515.5 362.4L519 356.6L512.1 356.6ZM516.3 366.1L519.8 360.3L512.9 360.3ZM517.1 358.9L520.6 353L513.7 353ZM517.9 361.8L521.4 356L514.5 356ZM518.7 359L522.2 353.2L515.3 353.2ZM519.5 365L523 359.1L516.1 359.1ZM520.3 360.5L523.8 354.7L516.9 354.7ZM521.1 364.7L524.6 358.9L517.7 358.9ZM521.9 366.5L525.4 360.6L518.5 360.6ZM522.7 367.4L526.2 361.6L519.3 361.6ZM523.5 362.7L527 356.8L520.1 356.8ZM524.3 365.1L527.8 359.3L520.9 359.3ZM525.1 363L528.6 357.2L521.7 357.2ZM525.9 365.2L529.4 359.4L522.5 359.4ZM526.7 362.3L530.2 356.5L523.3 356.5ZM527.5 363.5L531 357.6L524.1 357.6ZM528.3 365.8L531.8 359.9L524.9 359.9ZM529.1 364.7L532.6 358.9L525.7 358.9ZM529.9 367.1L533.4 361.3L526.5 361.3ZM530.7 366.1L534.2 360.3L527.3 360.3ZM531.5 370.2L535 364.4L528.1 364.4ZM532.3 372.3L535.8 366.5L528.9 366.5ZM533.1 363.6L536.6 357.7L529.7 357.7ZM533.9 370.5L537.4 364.7L530.5 364.7ZM534.7 366.9L538.2 361L531.3 361ZM535.5 371.6L539 365.8L532.1 365.8ZM536.3 364.5L539.8 358.7L532.9 358.7ZM537.1 371.3L540.6 365.5L533.7 365.5ZM537.9 362.8L541.4 357L534.5 357ZM538.7 362.4L542.2 356.6L535.3 356.6ZM539.5 362.7L543 356.8L536.1 356.8ZM540.3 370.6L543.8 364.8L536.9 364.8ZM541.1 362.4L544.6 356.6L537.7 356.6Z" fill="#ff00ff"/>
<path d="M111 312.6L114.6 316.3L111 319.9L107.4 316.3ZM111.5 299.6L115.1 303.2L111.5 306.8L107.9 303.2ZM113.2 297.2L116.8 300.8L113.2 304.5L109.6 300.8ZM115.5 295.4L119.1 299L115.5 302.6L111.9 299ZM119 295.2L122.6 298.8L119 302.4L115.4 298.8ZM124.2 288.7L127.8 292.4L124.2 296L120.6 292.4ZM132.5 279.8L136.1 283.4L132.5 287L128.9 283.4ZM177 259.8L180.6 263.4L177 267.1L173.4 263.4ZM229.6 270.8L233.2 274.4L229.6 278.1L226 274.4ZM266.1 282.6L269.7 286.3L266.1 289.9L262.5 286.3ZM288.4 289.8L292 293.4L288.4 297L284.8 293.4ZM306.4 294.4L310 298L306.4 301.6L302.8 298ZM320.5 298.8L324.1 302.5L320.5 306.1L316.9 302.5ZM331.5 302.6L335.1 306.2L331.5 309.9L327.9 306.2ZM340.6 305.1L344.2 308.7L340.6 312.3L337 308.7ZM349.8 308.5L353.4 312.1L349.8 315.7L346.2 312.1ZM357.8 310.5L361.4 314.1L357.8 317.7L354.2 314.1ZM365 311.7L368.6 315.3L365 318.9L361.4 315.3ZM371.5 312.8L375.1 316.4L371.5 320L367.8 316.4ZM377.3 315.1L381 318.7L377.3 322.3L373.7 318.7ZM382.6 316.6L386.2 320.2L382.6 323.9L378.9 320.2ZM387.3 317.6L390.9 321.2L387.3 324.9L383.6 321.2ZM391.5 317.7L395.2 321.3L391.5 325L387.9 321.3ZM395.4 318.6L399 322.3L395.4 325.9L391.7 322.3ZM398.8 317.2L402.4 320.9L398.8 324.5L395.2 320.9ZM401.9 318.2L405.5 321.8L401.9 325.5L398.3 321.8ZM404.7 319.4L408.3 323L404.7 326.7L401.1 323ZM407.2 320L410.8 323.7L407.2 327.3L403.6 323.7ZM409.5 321.2L413.1 324.9L409.5 328.5L405.8 324.9ZM411.5 322L415.1 325.6L411.5 329.3L407.9 325.6ZM413.3 322.6L417 326.2L413.3 329.9L409.7 326.2ZM415 321.7L418.6 325.3L415 329L411.3 325.3ZM416.5 322.3L420.1 325.9L416.5 329.5L412.8 325.9ZM417.8 323.2L421.4 326.9L417.8 330.5L414.2 326.9ZM419 322.7L422.6 326.3L419 330L415.4 326.3ZM420.1 323.8L423.7 327.4L420.1 331.1L416.4 327.4ZM421 323.2L424.7 326.9L421 330.5L417.4 326.9ZM421.9 323L425.6 326.6L421.9 330.3L418.3 326.6ZM422.7 324.7L426.4 328.4L422.7 332L419.1 328.4ZM423.5 323.1L427.2 326.7L423.5 330.3L419.9 326.7ZM424.3 323.3L428 326.9L424.3 330.5L420.7 326.9ZM425.1 324.4L428.8 328L425.1 331.7L421.5 328ZM425.9 324.3L429.6 328L425.9 331.6L422.3 328ZM426.7 325.3L430.4 328.9L426.7 332.5L423.1 328.9ZM427.5 326.1L431.2 329.7L427.5 333.4L423.9 329.7ZM428.3 325.4L432 329.1L428.3 332.7L424.7 329.1ZM429.1 326.2L432.8 329.8L429.1 333.5L425.5 329.8ZM429.9 325.7L433.6 329.3L429.9 332.9L426.3 329.3ZM430.7 325.6L434.4 329.3L430.7 332.9L427.1 329.3ZM431.5 325.9L435.2 329.5L431.5 333.2L427.9 329.5ZM432.3 326.3L436 330L432.3 333.6L428.7 330ZM433.1 327.6L436.8 331.2L433.1 334.9L429.5 331.2ZM433.9 325.1L437.6 328.7L433.9 332.4L430.3 328.7ZM434.7 326.6L438.4 330.2L434.7 333.8L431.1 330.2ZM435.5 327.1L439.2 330.7L435.5 334.4L431.9 330.7ZM436.3 327.7L440 331.3L436.3 335L432.7 331.3ZM437.1 328.2L440.8 331.8L437.1 335.5L433.5 331.8ZM437.9 329.3L441.6 333L437.9 336.6L434.3 333ZM438.7 329.5L442.4 333.2L438.7 336.8L435.1 333.2ZM439.5 329L443.2 332.6L439.5 336.3L435.9 332.6ZM440.3 329.4L444 333L440.3 336.7L436.7 333ZM441.1 327.9L444.8 331.5L441.1 335.2L437.5 331.5ZM441.9 328.2L445.6 331.9L441.9 335.5L438.3 331.9ZM442.7 329.9L446.4 333.5L442.7 337.1L439.1 333.5ZM443.5 329.7L447.2 333.4L443.5 337L439.9 333.4ZM444.3 329.7L448 333.3L444.3 336.9L440.7 333.3ZM445.1 330.6L448.8 334.2L445.1 337.9L441.5 334.2ZM445.9 331.2L449.6 334.9L445.9 338.5L442.3 334.9ZM446.7 330.3L450.4 334L446.7 337.6L443.1 334ZM447.5 331.5L451.2 335.1L447.5 338.8L443.9 335.1ZM448.3 331.7L452 335.3L448.3 339L444.7 335.3ZM449.1 332.1L452.8 335.8L449.1 339.4L445.5 335.8ZM449.9 331.6L453.6 335.3L449.9 338.9L446.3 335.3ZM450.7 331.8L454.4 335.5L450.7 339.1L447.1 335.5ZM451.5 332.6L455.2 336.2L451.5 339.9L447.9 336.2ZM452.3 333.3L456 337L452.3 340.6L448.7 337ZM453.1 333.8L456.8 337.5L453.1 341.1L449.5 337.5ZM453.9 334.7L457.6 338.4L453.9 342L450.3 338.4ZM454.7 334.6L458.4 338.3L454.7 341.9L451.1 338.3ZM455.5 335L459.2 338.6L455.5 342.3L451.9 338.6ZM456.3 334.8L460 338.5L456.3 342.1L452.7 338.5ZM457.1 335.2L460.8 338.8L457.1 342.4L453.5 338.8ZM457.9 336L461.6 339.6L457.9 343.3L454.3 339.6ZM458.7 337L462.4 340.7L458.7 344.3L455.1 340.7ZM459.5 336.3L463.2 339.9L459.5 343.5L455.9 339.9ZM460.3 336.9L464 340.5L460.3 344.2L456.7 340.5ZM461.1 336.5L464.8 340.2L461.1 343.8L457.5 340.2ZM461.9 336.2L465.6 339.9L461.9 343.5L458.3 339.9ZM462.7 336.9L466.4 340.6L462.7 344.2L459.1 340.6ZM463.5 337.3L467.2 341L463.5 344.6L459.9 341ZM464.3 337.5L468 341.1L464.3 344.7L460.7 341.1ZM465.1 337.3L468.8 340.9L465.1 344.6L461.5 340.9ZM465.9 339.3L469.6 342.9L465.9 346.5L462.3 342.9ZM466.7 338.6L470.4 342.3L466.7 345.9L463.1 342.3ZM467.5 338.6L471.2 342.2L467.5 345.9L463.9 342.2ZM468.3 337L472 340.7L468.3 344.3L464.7 340.7ZM469.1 337.8L472.8 341.4L469.1 345.1L465.5 341.4ZM469.9 339.2L473.6 342.8L469.9 346.4L466.3 342.8ZM470.7 340.2L474.4 343.9L470.7 347.5L467.1 343.9ZM471.5 338.6L475.2 342.2L471.5 345.9L467.9 342.2ZM472.3 339.4L476 343L472.3 346.7L468.7 343ZM473.1 338.8L476.8 342.4L473.1 346.1L469.5 342.4ZM473.9 340.3L477.6 343.9L473.9 347.6L470.3 343.9ZM474.7 340.8L478.4 344.4L474.7 348L471.1 344.4ZM475.5 342.3L479.2 345.9L475.5 349.6L471.9 345.9ZM476.3 341.8L480 345.4L476.3 349.1L472.7 345.4ZM477.1 342.4L480.8 346L477.1 349.7L473.5 346ZM477.9 343.1L481.6 346.8L477.9 350.4L474.3 346.8ZM478.7 342.9L482.4 346.6L478.7 350.2L475.1 346.6ZM479.5 344.1L483.2 347.7L479.5 351.3L475.9 347.7ZM480.3 344.7L484 348.4L480.3 352L476.7 348.4ZM481.1 345L484.8 348.7L481.1 352.3L477.5 348.7ZM481.9 345L485.6 348.6L481.9 352.3L478.3 348.6ZM482.7 343L486.4 346.6L482.7 350.3L479.1 346.6ZM483.5 343.8L487.2 347.5L483.5 351.1L479.9 347.5ZM484.3 343.2L488 346.8L484.3 350.5L480.7 346.8ZM485.1 345.3L488.8 349L485.1 352.6L481.5 349ZM485.9 345.4L489.6 349.1L485.9 352.7L482.3 349.1ZM486.7 345.3L490.4 349L486.7 352.6L483.1 349ZM487.5 347.2L491.2 350.8L487.5 354.5L483.9 350.8ZM488.3 350L492 353.6L488.3 357.3L484.7 353.6ZM489.1 349.1L492.8 352.7L489.1 356.4L485.5 352.7ZM489.9 343L493.6 346.7L489.9 350.3L486.3 346.7ZM490.7 350L494.4 353.6L490.7 357.3L487.1 353.6ZM491.5 351.8L495.2 355.5L491.5 359.1L487.9 355.5ZM492.3 347.3L496 351L492.3 354.6L488.7 351ZM493.1 350.9L496.8 354.6L493.1 358.2L489.5 354.6ZM493.9 349.8L497.6 353.5L493.9 357.1L490.3 353.5ZM494.7 349.2L498.4 352.8L494.7 356.5L491.1 352.8ZM495.5 346L499.2 349.7L495.5 353.3L491.9 349.7ZM496.3 350.9L500 354.6L496.3 358.2L492.7 354.6ZM497.1 353.6L500.8 357.2L497.1 360.9L493.5 357.2ZM497.9 353.8L501.6 357.5L497.9 361.1L494.3 357.5ZM498.7 355.7L502.4 359.3L498.7 363L495.1 359.3ZM499.5 354L503.2 357.7L499.5 361.3L495.9 357.7ZM500.3 358.7L504 362.3L500.3 366L496.7 362.3ZM501.1 354.2L504.8 357.8L501.1 361.5L497.5 357.8ZM501.9 349.4L505.6 353L501.9 356.6L498.3 353ZM502.7 349.2L506.4 352.9L502.7 356.5L499.1 352.9ZM503.5 358L507.2 361.7L503.5 365.3L499.9 361.7ZM504.3 357.9L508 361.5L504.3 365.1L500.7 361.5ZM505.1 354.3L508.8 357.9L505.1 361.6L501.5 357.9ZM505.9 354L509.6 357.7L505.9 361.3L502.3 357.7ZM506.7 356.9L510.4 360.6L506.7 364.2L503.1 360.6ZM507.5 352.5L511.2 356.1L507.5 359.7L503.9 356.1ZM508.3 353.1L512 356.7L508.3 360.4L504.7 356.7ZM509.1 355.7L512.8 359.4L509.1 363L505.5 359.4ZM509.9 356.9L513.6 360.5L509.9 364.1L506.3 360.5ZM510.7 356.1L514.4 359.8L510.7 363.4L507.1 359.8ZM511.5 354.8L515.2 358.5L511.5 362.1L507.9 358.5ZM512.3 353.6L516 357.3L512.3 360.9L508.7 357.3ZM513.1 354.7L516.8 358.3L513.1 362L509.5 358.3ZM513.9 355.3L517.6 358.9L513.9 362.6L510.3 358.9ZM514.7 357.7L518.4 361.4L514.7 365L511.1 361.4ZM515.5 355.6L519.2 359.3L515.5 362.9L511.9 359.3ZM516.3 359.4L520 363L516.3 366.6L512.7 363ZM517.1 352.1L520.8 355.7L517.1 359.4L513.5 355.7ZM517.9 355.1L521.6 358.7L517.9 362.4L514.3 358.7ZM518.7 352.3L522.4 355.9L518.7 359.5L515.1 355.9ZM519.5 358.2L523.2 361.8L519.5 365.5L515.9 361.8ZM520.3 353.7L524 357.4L520.3 361L516.7 357.4ZM521.1 357.9L524.8 361.6L521.1 365.2L517.5 361.6ZM521.9 359.7L525.6 363.4L521.9 367L518.3 363.4ZM522.7 360.6L526.4 364.3L522.7 367.9L519.1 364.3ZM523.5 355.9L527.2 359.6L523.5 363.2L519.9 359.6ZM524.3 358.3L528 362L524.3 365.6L520.7 362ZM525.1 356.2L528.8 359.9L525.1 363.5L521.5 359.9ZM525.9 358.4L529.6 362.1L525.9 365.7L522.3 362.1ZM526.7 355.6L530.4 359.2L526.7 362.8L523.1 359.2ZM527.5 356.7L531.2 360.4L527.5 364L523.9 360.4ZM528.3 359L532 362.6L528.3 366.3L524.7 362.6ZM529.1 357.9L532.8 361.6L529.1 365.2L525.5 361.6ZM529.9 360.3L533.6 364L529.9 367.6L526.3 364ZM530.7 359.4L534.4 363L530.7 366.6L527.1 363ZM531.5 363.5L535.2 367.1L531.5 370.8L527.9 367.1ZM532.3 365.6L536 369.2L532.3 372.8L528.7 369.2ZM533.1 356.8L536.8 360.5L533.1 364.1L529.5 360.5ZM533.9 363.7L537.6 367.4L533.9 371L530.3 367.4ZM534.7 360.1L538.4 363.8L534.7 367.4L531.1 363.8ZM535.5 364.9L539.2 368.5L535.5 372.2L531.9 368.5ZM536.3 357.8L540 361.4L536.3 365L532.7 361.4ZM537.1 364.5L540.8 368.2L537.1 371.8L533.5 368.2ZM537.9 356L541.6 359.7L537.9 363.3L534.3 359.7ZM538.7 355.6L542.4 359.3L538.7 362.9L535.1 359.3ZM539.5 355.9L543.2 359.6L539.5 363.2L535.9 359.6ZM540.3 363.9L544 367.5L540.3 371.2L536.7 367.5ZM541.1 355.6L544.8 359.3L541.1 362.9L537.5 359.3Z" fill="#008000"/>
<path d="M107.9 302.5L113.7 299L113.7 305.9ZM108.4 292.8L114.2 289.3L114.2 296.2ZM110.1 292.3L115.9 288.9L115.9 295.7ZM112.4 291.6L118.2 288.2L118.2 295.1ZM115.9 292.4L121.7 288.9L121.7 295.8ZM121.1 286.6L126.9 283.2L126.9 290.1ZM129.4 278.4L135.2 274.9L135.2 281.8ZM173.9 260.7L179.7 257.3L179.7 264.2ZM226.5 272.5L232.3 269.1L232.3 276ZM263 284.7L268.8 281.3L268.8 288.2ZM285.3 292.1L291.1 288.6L291.1 295.5ZM303.3 296.9L309.1 293.4L309.1 300.3ZM317.4 301.4L323.2 298L323.2 304.8ZM328.4 305.3L334.2 301.9L334.2 308.8ZM337.5 308L343.3 304.6L343.3 311.4ZM346.7 311.5L352.5 308.1L352.5 315ZM354.7 313.6L360.5 310.2L360.5 317ZM361.9 314.8L367.7 311.4L367.7 318.3ZM368.4 316L374.2 312.5L374.2 319.4ZM374.2 318.3L380 314.9L380 321.7ZM379.4 319.9L385.3 316.5L385.3 323.3ZM384.2 320.9L390 317.5L390 324.3ZM388.4 321L394.2 317.6L394.2 324.5ZM392.2 322L398.1 318.5L398.1 325.4ZM395.7 320.6L401.5 317.2L401.5 324ZM398.8 321.6L404.6 318.2L404.6 325ZM401.6 322.8L407.4 319.4L407.4 326.2ZM404.1 323.5L409.9 320L409.9 326.9ZM406.3 324.7L412.2 321.2L412.2 328.1ZM408.4 325.5L414.2 322L414.2 328.9ZM410.2 326.1L416 322.6L416 329.5ZM411.9 325.2L417.7 321.7L417.7 328.6ZM413.3 325.7L419.2 322.3L419.2 329.2ZM414.7 326.7L420.5 323.3L420.5 330.1ZM415.9 326.1L421.7 322.7L421.7 329.6ZM417 327.3L422.8 323.8L422.8 330.7ZM417.9 326.7L423.8 323.3L423.8 330.1ZM418.8 326.5L424.6 323.1L424.6 329.9ZM419.6 328.2L425.4 324.8L425.4 331.6ZM420.4 326.5L426.2 323.1L426.2 330ZM421.2 326.8L427 323.3L427 330.2ZM422 327.9L427.8 324.4L427.8 331.3ZM422.8 327.8L428.6 324.4L428.6 331.3ZM423.6 328.8L429.4 325.3L429.4 332.2ZM424.4 329.6L430.2 326.2L430.2 333ZM425.2 328.9L431 325.5L431 332.3ZM426 329.7L431.8 326.3L431.8 333.1ZM426.8 329.2L432.6 325.7L432.6 332.6ZM427.6 329.2L433.4 325.7L433.4 332.6ZM428.4 329.4L434.2 326L434.2 332.8ZM429.2 329.8L435 326.4L435 333.3ZM430 331.1L435.8 327.7L435.8 334.6ZM430.8 328.6L436.6 325.2L436.6 332.1ZM431.6 330.1L437.4 326.7L437.4 333.5ZM432.4 330.6L438.2 327.2L438.2 334ZM433.2 331.2L439 327.8L439 334.7ZM434 331.7L439.8 328.3L439.8 335.2ZM434.8 332.9L440.6 329.4L440.6 336.3ZM435.6 333.1L441.4 329.6L441.4 336.5ZM436.4 332.5L442.2 329.1L442.2 336ZM437.2 332.9L443 329.5L443 336.4ZM438 331.4L443.8 328L443.8 334.9ZM438.8 331.8L444.6 328.4L444.6 335.2ZM439.6 333.4L445.4 330L445.4 336.8ZM440.4 333.3L446.2 329.9L446.2 336.7ZM441.2 333.2L447 329.8L447 336.6ZM442 334.2L447.8 330.7L447.8 337.6ZM442.8 334.8L448.6 331.3L448.6 338.2ZM443.6 333.9L449.4 330.5L449.4 337.3ZM444.4 335.1L450.2 331.6L450.2 338.5ZM445.2 335.2L451 331.8L451 338.7ZM446 335.7L451.8 332.3L451.8 339.1ZM446.8 335.2L452.6 331.8L452.6 338.6ZM447.6 335.4L453.4 332L453.4 338.8ZM448.4 336.2L454.2 332.7L454.2 339.6ZM449.2 336.9L455 333.4L455 340.3ZM450 337.4L455.8 334L455.8 340.8ZM450.8 338.3L456.6 334.9L456.6 341.7ZM451.6 338.2L457.4 334.8L457.4 341.6ZM452.4 338.5L458.2 335.1L458.2 342ZM453.2 338.4L459 335L459 341.8ZM454 338.7L459.8 335.3L459.8 342.2ZM454.8 339.6L460.6 336.1L460.6 343ZM455.6 340.6L461.4 337.2L461.4 344ZM456.4 339.8L462.2 336.4L462.2 343.3ZM457.2 340.5L463 337L463 343.9ZM458 340.1L463.8 336.7L463.8 343.5ZM458.8 339.8L464.6 336.4L464.6 343.2ZM459.6 340.5L465.4 337.1L465.4 344ZM460.4 340.9L466.2 337.5L466.2 344.4ZM461.2 341L467 337.6L467 344.5ZM462 340.9L467.8 337.4L467.8 344.3ZM462.8 342.8L468.6 339.4L468.6 346.3ZM463.6 342.2L469.4 338.8L469.4 345.6ZM464.4 342.2L470.2 338.7L470.2 345.6ZM465.2 340.6L471 337.2L471 344ZM466 341.4L471.8 337.9L471.8 344.8ZM466.8 342.7L472.6 339.3L472.6 346.2ZM467.6 343.8L473.4 340.4L473.4 347.3ZM468.4 342.2L474.2 338.8L474.2 345.6ZM469.2 343L475 339.5L475 346.4ZM470 342.4L475.8 339L475.8 345.8ZM470.8 343.9L476.6 340.5L476.6 347.3ZM471.6 344.4L477.4 340.9L477.4 347.8ZM472.4 345.9L478.2 342.5L478.2 349.3ZM473.2 345.4L479 342L479 348.8ZM474 346L479.8 342.6L479.8 349.4ZM474.8 346.7L480.6 343.3L480.6 350.2ZM475.6 346.5L481.4 343.1L481.4 350ZM476.4 347.7L482.2 344.2L482.2 351.1ZM477.2 348.3L483 344.9L483 351.8ZM478 348.6L483.8 345.2L483.8 352.1ZM478.8 348.6L484.6 345.2L484.6 352ZM479.6 346.6L485.4 343.2L485.4 350ZM480.4 347.5L486.2 344L486.2 350.9ZM481.2 346.8L487 343.4L487 350.2ZM482 349L487.8 345.5L487.8 352.4ZM482.8 349.1L488.6 345.6L488.6 352.5ZM483.6 349L489.4 345.5L489.4 352.4ZM484.4 350.8L490.2 347.4L490.2 354.2ZM485.2 353.6L491 350.2L491 357ZM486 352.7L491.8 349.3L491.8 356.2ZM486.8 346.7L492.6 343.2L492.6 350.1ZM487.6 353.6L493.4 350.2L493.4 357.1ZM488.4 355.4L494.2 352L494.2 358.9ZM489.2 351L495 347.5L495 354.4ZM490 354.5L495.8 351.1L495.8 358ZM490.8 353.5L496.6 350L496.6 356.9ZM491.6 352.8L497.4 349.4L497.4 356.3ZM492.4 349.7L498.2 346.2L498.2 353.1ZM493.2 354.6L499 351.1L499 358ZM494 357.2L499.8 353.8L499.8 360.7ZM494.8 357.5L500.6 354L500.6 360.9ZM495.6 359.3L501.4 355.9L501.4 362.8ZM496.4 357.7L502.2 354.2L502.2 361.1ZM497.2 362.3L503 358.9L503 365.8ZM498 357.8L503.8 354.4L503.8 361.3ZM498.8 353L504.6 349.6L504.6 356.4ZM499.6 352.9L505.4 349.4L505.4 356.3ZM500.4 361.7L506.2 358.2L506.2 365.1ZM501.2 361.5L507 358.1L507 364.9ZM502 357.9L507.8 354.5L507.8 361.4ZM502.8 357.7L508.6 354.2L508.6 361.1ZM503.6 360.6L509.4 357.1L509.4 364ZM504.4 356.1L510.2 352.7L510.2 359.5ZM505.2 356.7L511 353.3L511 360.2ZM506 359.4L511.8 355.9L511.8 362.8ZM506.8 360.5L512.6 357.1L512.6 363.9ZM507.6 359.8L513.4 356.3L513.4 363.2ZM508.4 358.5L514.2 355.1L514.2 361.9ZM509.2 357.3L515 353.8L515 360.7ZM510 358.3L515.8 354.9L515.8 361.8ZM510.8 358.9L516.6 355.5L516.6 362.4ZM511.6 361.4L517.4 358L517.4 364.8ZM512.4 359.3L518.2 355.8L518.2 362.7ZM513.2 363L519 359.6L519 366.4ZM514 355.7L519.8 352.3L519.8 359.2ZM514.8 358.7L520.6 355.3L520.6 362.2ZM515.6 355.9L521.4 352.5L521.4 359.3ZM516.4 361.8L522.2 358.4L522.2 365.3ZM517.2 357.4L523 353.9L523 360.8ZM518 361.6L523.8 358.1L523.8 365ZM518.8 363.4L524.6 359.9L524.6 366.8ZM519.6 364.3L525.4 360.8L525.4 367.7ZM520.4 359.6L526.2 356.1L526.2 363ZM521.2 362L527 358.6L527 365.4ZM522 359.9L527.8 356.4L527.8 363.3ZM522.8 362.1L528.6 358.6L528.6 365.5ZM523.6 359.2L529.4 355.8L529.4 362.6ZM524.4 360.4L530.2 356.9L530.2 363.8ZM525.2 362.6L531 359.2L531 366.1ZM526 361.6L531.8 358.2L531.8 365ZM526.8 364L532.6 360.5L532.6 367.4ZM527.6 363L533.4 359.6L533.4 366.4ZM528.4 367.1L534.2 363.7L534.2 370.6ZM529.2 369.2L535 365.8L535 372.6ZM530 360.5L535.8 357L535.8 363.9ZM530.8 367.4L536.6 363.9L536.6 370.8ZM531.6 363.8L537.4 360.3L537.4 367.2ZM532.4 368.5L538.2 365.1L538.2 371.9ZM533.2 361.4L539 358L539 364.8ZM534 368.2L539.8 364.7L539.8 371.6ZM534.8 359.7L540.6 356.2L540.6 363.1ZM535.6 359.3L541.4 355.9L541.4 362.7ZM536.4 359.6L542.2 356.1L542.2 363ZM537.2 367.5L543 364.1L543 371ZM538 359.3L543.8 355.8L543.8 362.7Z" fill="#000080"/>
<path d="M114.1 288.6L108.3 285.2L108.3 292.1ZM114.6 282.3L108.8 278.9L108.8 285.7ZM116.3 283.8L110.5 280.3L110.5 287.2ZM118.6 284.2L112.8 280.8L112.8 287.7ZM122.1 285.9L116.3 282.5L116.3 289.4ZM127.3 280.9L121.5 277.5L121.5 284.4ZM135.6 273.4L129.8 269.9L129.8 276.8ZM180.1 258L174.3 254.6L174.3 261.4ZM232.7 270.7L226.9 267.2L226.9 274.1ZM269.2 283.2L263.4 279.8L263.4 286.6ZM291.5 290.7L285.7 287.3L285.7 294.1ZM309.5 295.8L303.7 292.3L303.7 299.2ZM323.6 300.3L317.8 296.9L317.8 303.8ZM334.6 304.4L328.8 301L328.8 307.9ZM343.7 307.3L337.9 303.9L337.9 310.7ZM352.9 310.9L347.1 307.5L347.1 314.4ZM360.9 313.1L355.1 309.6L355.1 316.5ZM368.1 314.4L362.3 310.9L362.3 317.8ZM374.6 315.6L368.8 312.1L368.8 319ZM380.4 317.9L374.6 314.5L374.6 321.4ZM385.7 319.5L379.9 316.1L379.9 323ZM390.4 320.6L384.6 317.2L384.6 324ZM394.7 320.7L388.8 317.3L388.8 324.2ZM398.5 321.7L392.7 318.3L392.7 325.1ZM401.9 320.3L396.1 316.9L396.1 323.8ZM405 321.4L399.2 317.9L399.2 324.8ZM407.8 322.6L402 319.2L402 326ZM410.3 323.3L404.5 319.8L404.5 326.7ZM412.6 324.5L406.8 321L406.8 327.9ZM414.6 325.3L408.8 321.8L408.8 328.7ZM416.4 325.9L410.6 322.4L410.6 329.3ZM418.1 325L412.3 321.5L412.3 328.4ZM419.6 325.6L413.8 322.1L413.8 329ZM420.9 326.5L415.1 323.1L415.1 330ZM422.1 326L416.3 322.5L416.3 329.4ZM423.2 327.1L417.4 323.7L417.4 330.5ZM424.2 326.5L418.3 323.1L418.3 330ZM425 326.3L419.2 322.9L419.2 329.8ZM425.8 328L420 324.6L420 331.5ZM426.6 326.4L420.8 323L420.8 329.8ZM427.4 326.6L421.6 323.2L421.6 330ZM428.2 327.7L422.4 324.3L422.4 331.2ZM429 327.7L423.2 324.3L423.2 331.1ZM429.8 328.6L424 325.2L424 332ZM430.6 329.4L424.8 326L424.8 332.9ZM431.4 328.8L425.6 325.3L425.6 332.2ZM432.2 329.6L426.4 326.1L426.4 333ZM433 329L427.2 325.6L427.2 332.5ZM433.8 329L428 325.6L428 332.5ZM434.6 329.3L428.8 325.9L428.8 332.7ZM435.4 329.7L429.6 326.3L429.6 333.1ZM436.2 331L430.4 327.6L430.4 334.4ZM437 328.5L431.2 325.1L431.2 331.9ZM437.8 330L432 326.5L432 333.4ZM438.6 330.5L432.8 327.1L432.8 333.9ZM439.4 331.1L433.6 327.7L433.6 334.6ZM440.2 331.6L434.4 328.2L434.4 335ZM441 332.8L435.2 329.3L435.2 336.2ZM441.8 333L436 329.5L436 336.4ZM442.6 332.4L436.8 329L436.8 335.9ZM443.4 332.8L437.6 329.4L437.6 336.3ZM444.2 331.3L438.4 327.9L438.4 334.8ZM445 331.7L439.2 328.3L439.2 335.1ZM445.8 333.3L440 329.9L440 336.7ZM446.6 333.2L440.8 329.8L440.8 336.6ZM447.4 333.1L441.6 329.7L441.6 336.6ZM448.2 334.1L442.4 330.6L442.4 337.5ZM449 334.7L443.2 331.2L443.2 338.1ZM449.8 333.8L444 330.4L444 337.2ZM450.6 335L444.8 331.5L444.8 338.4ZM451.4 335.2L445.6 331.7L445.6 338.6ZM452.2 335.6L446.4 332.2L446.4 339ZM453 335.1L447.2 331.7L447.2 338.6ZM453.8 335.3L448 331.9L448 338.7ZM454.6 336.1L448.8 332.6L448.8 339.5ZM455.4 336.8L449.6 333.4L449.6 340.2ZM456.2 337.3L450.4 333.9L450.4 340.8ZM457 338.2L451.2 334.8L451.2 341.7ZM457.8 338.1L452 334.7L452 341.5ZM458.6 338.5L452.8 335L452.8 341.9ZM459.4 338.3L453.6 334.9L453.6 341.8ZM460.2 338.7L454.4 335.2L454.4 342.1ZM461 339.5L455.2 336.1L455.2 342.9ZM461.8 340.5L456 337.1L456 344ZM462.6 339.8L456.8 336.3L456.8 343.2ZM463.4 340.4L457.6 337L457.6 343.8ZM464.2 340L458.4 336.6L458.4 343.5ZM465 339.7L459.2 336.3L459.2 343.2ZM465.8 340.5L460 337L460 343.9ZM466.6 340.9L460.8 337.4L460.8 344.3ZM467.4 341L461.6 337.6L461.6 344.4ZM468.2 340.8L462.4 337.4L462.4 344.2ZM469 342.8L463.2 339.4L463.2 346.2ZM469.8 342.2L464 338.7L464 345.6ZM470.6 342.1L464.8 338.7L464.8 345.5ZM471.4 340.6L465.6 337.1L465.6 344ZM472.2 341.3L466.4 337.9L466.4 344.8ZM473 342.7L467.2 339.3L467.2 346.1ZM473.8 343.8L468 340.4L468 347.2ZM474.6 342.2L468.8 338.7L468.8 345.6ZM475.4 342.9L469.6 339.5L469.6 346.4ZM476.2 342.3L470.4 338.9L470.4 345.8ZM477 343.8L471.2 340.4L471.2 347.3ZM477.8 344.3L472 340.9L472 347.8ZM478.6 345.8L472.8 342.4L472.8 349.3ZM479.4 345.4L473.6 341.9L473.6 348.8ZM480.2 346L474.4 342.5L474.4 349.4ZM481 346.7L475.2 343.3L475.2 350.1ZM481.8 346.5L476 343.1L476 349.9ZM482.6 347.6L476.8 344.2L476.8 351.1ZM483.4 348.3L477.6 344.9L477.6 351.7ZM484.2 348.6L478.4 345.2L478.4 352ZM485 348.6L479.2 345.1L479.2 352ZM485.8 346.6L480 343.2L480 350ZM486.6 347.4L480.8 344L480.8 350.9ZM487.4 346.8L481.6 343.4L481.6 350.2ZM488.2 348.9L482.4 345.5L482.4 352.4ZM489 349L483.2 345.6L483.2 352.5ZM489.8 348.9L484 345.5L484 352.4ZM490.6 350.8L484.8 347.3L484.8 354.2ZM491.4 353.6L485.6 350.2L485.6 357ZM492.2 352.7L486.4 349.3L486.4 356.1ZM493 346.6L487.2 343.2L487.2 350.1ZM493.8 353.6L488 350.2L488 357ZM494.6 355.4L488.8 352L488.8 358.9ZM495.4 351L489.6 347.5L489.6 354.4ZM496.2 354.5L490.4 351.1L490.4 358ZM497 353.4L491.2 350L491.2 356.9ZM497.8 352.8L492 349.4L492 356.3ZM498.6 349.7L492.8 346.2L492.8 353.1ZM499.4 354.6L493.6 351.1L493.6 358ZM500.2 357.2L494.4 353.8L494.4 360.7ZM501 357.5L495.2 354L495.2 360.9ZM501.8 359.3L496 355.9L496 362.8ZM502.6 357.7L496.8 354.2L496.8 361.1ZM503.4 362.3L497.6 358.9L497.6 365.8ZM504.2 357.8L498.4 354.4L498.4 361.3ZM505 353L499.2 349.6L499.2 356.4ZM505.8 352.9L500 349.4L500 356.3ZM506.6 361.7L500.8 358.2L500.8 365.1ZM507.4 361.5L501.6 358.1L501.6 364.9ZM508.2 357.9L502.4 354.5L502.4 361.4ZM509 357.7L503.2 354.2L503.2 361.1ZM509.8 360.6L504 357.1L504 364ZM510.6 356.1L504.8 352.7L504.8 359.5ZM511.4 356.7L505.6 353.3L505.6 360.2ZM512.2 359.4L506.4 355.9L506.4 362.8ZM513 360.5L507.2 357.1L507.2 363.9ZM513.8 359.8L508 356.3L508 363.2ZM514.6 358.5L508.8 355.1L508.8 361.9ZM515.4 357.3L509.6 353.8L509.6 360.7ZM516.2 358.3L510.4 354.9L510.4 361.8ZM517 358.9L511.2 355.5L511.2 362.4ZM517.8 361.4L512 358L512 364.8ZM518.6 359.3L512.8 355.8L512.8 362.7ZM519.4 363L513.6 359.6L513.6 366.4ZM520.2 355.7L514.4 352.3L514.4 359.2ZM521 358.7L515.2 355.3L515.2 362.2ZM521.8 355.9L516 352.5L516 359.3ZM522.6 361.8L516.8 358.4L516.8 365.3ZM523.4 357.4L517.6 353.9L517.6 360.8ZM524.2 361.6L518.4 358.1L518.4 365ZM525 363.4L519.2 359.9L519.2 366.8ZM525.8 364.3L520 360.8L520 367.7ZM526.6 359.6L520.8 356.1L520.8 363ZM527.4 362L521.6 358.6L521.6 365.4ZM528.2 359.9L522.4 356.4L522.4 363.3ZM529 362.1L523.2 358.6L523.2 365.5ZM529.8 359.2L524 355.8L524 362.6ZM530.6 360.4L524.8 356.9L524.8 363.8ZM531.4 362.6L525.6 359.2L525.6 366.1ZM532.2 361.6L526.4 358.2L526.4 365ZM533 364L527.2 360.5L527.2 367.4ZM533.8 363L528 359.6L528 366.4ZM534.6 367.1L528.8 363.7L528.8 370.6ZM535.4 369.2L529.6 365.8L529.6 372.6ZM536.2 360.5L530.4 357L530.4 363.9ZM537 367.4L531.2 363.9L531.2 370.8ZM537.8 363.8L532 360.3L532 367.2ZM538.6 368.5L532.8 365.1L532.8 371.9ZM539.4 361.4L533.6 358L533.6 364.8ZM540.2 368.2L534.4 364.7L534.4 371.6ZM541 359.7L535.2 356.2L535.2 363.1ZM541.8 359.3L536 355.9L536 362.7ZM542.6 359.6L536.8 356.1L536.8 363ZM543.4 367.5L537.6 364.1L537.6 371ZM544.2 359.3L538.4 355.8L538.4 362.7Z" fill="#8000ff"/>
<path d="M114.1 274.8L112.6 277.5L109.4 277.5L107.9 274.8L109.4 272.1L112.6 272.1ZM114.6 271.9L113.1 274.6L109.9 274.6L108.4 271.9L109.9 269.1L113.1 269.1ZM116.3 275.2L114.8 277.9L111.6 277.9L110.1 275.2L111.6 272.5L114.8 272.5ZM118.6 276.9L117.1 279.6L113.9 279.6L112.4 276.9L113.9 274.2L117.1 274.2ZM122.1 279.5L120.6 282.2L117.4 282.2L115.9 279.5L117.4 276.8L120.6 276.8ZM127.3 275.2L125.8 277.9L122.6 277.9L121.1 275.2L122.6 272.5L125.8 272.5ZM135.6 268.3L134.1 271L130.9 271L129.4 268.3L130.9 265.6L134.1 265.6ZM180.1 255.3L178.6 258L175.4 258L173.9 255.3L175.4 252.6L178.6 252.6ZM232.7 268.8L231.2 271.5L228 271.5L226.5 268.8L228 266.1L231.2 266.1ZM269.2 281.7L267.7 284.4L264.5 284.4L263 281.7L264.5 279L267.7 279ZM291.5 289.4L290 292.1L286.8 292.1L285.3 289.4L286.8 286.6L290 286.6ZM309.5 294.6L308 297.3L304.8 297.3L303.3 294.6L304.8 291.9L308 291.9ZM323.6 299.3L322.1 302L318.9 302L317.4 299.3L318.9 296.6L322.1 296.6ZM334.6 303.5L333.1 306.2L329.9 306.2L328.4 303.5L329.9 300.8L333.1 300.8ZM343.7 306.6L342.2 309.3L339 309.3L337.5 306.6L339 303.9L342.2 303.9ZM352.9 310.4L351.4 313.1L348.2 313.1L346.7 310.4L348.2 307.7L351.4 307.7ZM360.9 312.6L359.4 315.3L356.2 315.3L354.7 312.6L356.2 309.9L359.4 309.9ZM368.1 313.9L366.6 316.6L363.4 316.6L361.9 313.9L363.4 311.2L366.6 311.2ZM374.6 315.1L373 317.8L369.9 317.8L368.4 315.1L369.9 312.4L373 312.4ZM380.4 317.5L378.9 320.3L375.8 320.3L374.2 317.5L375.8 314.8L378.9 314.8ZM385.7 319.2L384.1 321.9L381 321.9L379.4 319.2L381 316.5L384.1 316.5ZM390.4 320.3L388.8 323L385.7 323L384.2 320.3L385.7 317.6L388.8 317.6ZM394.7 320.5L393.1 323.2L390 323.2L388.4 320.5L390 317.7L393.1 317.7ZM398.5 321.4L396.9 324.1L393.8 324.1L392.2 321.4L393.8 318.7L396.9 318.7ZM401.9 320.1L400.4 322.8L397.2 322.8L395.7 320.1L397.2 317.4L400.4 317.4ZM405 321.1L403.5 323.8L400.3 323.8L398.8 321.1L400.3 318.4L403.5 318.4ZM407.8 322.4L406.3 325.1L403.1 325.1L401.6 322.4L403.1 319.7L406.3 319.7ZM410.3 323L408.8 325.7L405.6 325.7L404.1 323L405.6 320.3L408.8 320.3ZM412.6 324.3L411 327L407.9 327L406.3 324.3L407.9 321.6L411 321.6ZM414.6 325.1L413.1 327.8L409.9 327.8L408.4 325.1L409.9 322.4L413.1 322.4ZM416.4 325.7L414.9 328.4L411.8 328.4L410.2 325.7L411.8 323L414.9 323ZM418.1 324.8L416.5 327.5L413.4 327.5L411.9 324.8L413.4 322.1L416.5 322.1ZM419.6 325.4L418 328.1L414.9 328.1L413.3 325.4L414.9 322.7L418 322.7ZM420.9 326.4L419.4 329.1L416.2 329.1L414.7 326.4L416.2 323.7L419.4 323.7ZM422.1 325.8L420.6 328.5L417.4 328.5L415.9 325.8L417.4 323.1L420.6 323.1ZM423.2 326.9L421.6 329.7L418.5 329.7L417 326.9L418.5 324.2L421.6 324.2ZM424.2 326.4L422.6 329.1L419.5 329.1L417.9 326.4L419.5 323.7L422.6 323.7ZM425 326.2L423.5 328.9L420.4 328.9L418.8 326.2L420.4 323.5L423.5 323.5ZM425.8 327.9L424.3 330.6L421.2 330.6L419.6 327.9L421.2 325.2L424.3 325.2ZM426.6 326.2L425.1 328.9L422 328.9L420.4 326.2L422 323.5L425.1 323.5ZM427.4 326.5L425.9 329.2L422.8 329.2L421.2 326.5L422.8 323.8L425.9 323.8ZM428.2 327.6L426.7 330.3L423.6 330.3L422 327.6L423.6 324.9L426.7 324.9ZM429 327.5L427.5 330.2L424.4 330.2L422.8 327.5L424.4 324.8L427.5 324.8ZM429.8 328.5L428.3 331.2L425.2 331.2L423.6 328.5L425.2 325.8L428.3 325.8ZM430.6 329.3L429.1 332L426 332L424.4 329.3L426 326.6L429.1 326.6ZM431.4 328.6L429.9 331.3L426.8 331.3L425.2 328.6L426.8 325.9L429.9 325.9ZM432.2 329.4L430.7 332.1L427.6 332.1L426 329.4L427.6 326.7L430.7 326.7ZM433 328.9L431.5 331.6L428.4 331.6L426.8 328.9L428.4 326.2L431.5 326.2ZM433.8 328.9L432.3 331.6L429.2 331.6L427.6 328.9L429.2 326.2L432.3 326.2ZM434.6 329.2L433.1 331.9L430 331.9L428.4 329.2L430 326.5L433.1 326.5ZM435.4 329.6L433.9 332.3L430.8 332.3L429.2 329.6L430.8 326.9L433.9 326.9ZM436.2 330.9L434.7 333.6L431.6 333.6L430 330.9L431.6 328.2L434.7 328.2ZM437 328.4L435.5 331.1L432.4 331.1L430.8 328.4L432.4 325.7L435.5 325.7ZM437.8 329.9L436.3 332.6L433.2 332.6L431.6 329.9L433.2 327.2L436.3 327.2ZM438.6 330.4L437.1 333.1L434 333.1L432.4 330.4L434 327.7L437.1 327.7ZM439.4 331L437.9 333.7L434.8 333.7L433.2 331L434.8 328.3L437.9 328.3ZM440.2 331.5L438.7 334.2L435.6 334.2L434 331.5L435.6 328.8L438.7 328.8ZM441 332.7L439.5 335.4L436.4 335.4L434.8 332.7L436.4 330L439.5 330ZM441.8 332.9L440.3 335.6L437.2 335.6L435.6 332.9L437.2 330.2L440.3 330.2ZM442.6 332.3L441.1 335L438 335L436.4 332.3L438 329.6L441.1 329.6ZM443.4 332.8L441.9 335.5L438.8 335.5L437.2 332.8L438.8 330.1L441.9 330.1ZM444.2 331.3L442.7 334L439.6 334L438 331.3L439.6 328.6L442.7 328.6ZM445 331.6L443.5 334.3L440.4 334.3L438.8 331.6L440.4 328.9L443.5 328.9ZM445.8 333.2L444.3 335.9L441.2 335.9L439.6 333.2L441.2 330.5L444.3 330.5ZM446.6 333.1L445.1 335.8L442 335.8L440.4 333.1L442 330.4L445.1 330.4ZM447.4 333L445.9 335.7L442.8 335.7L441.2 333L442.8 330.3L445.9 330.3ZM448.2 334L446.7 336.7L443.6 336.7L442 334L443.6 331.3L446.7 331.3ZM449 334.6L447.5 337.3L444.4 337.3L442.8 334.6L444.4 331.9L447.5 331.9ZM449.8 333.7L448.3 336.4L445.2 336.4L443.6 333.7L445.2 331L448.3 331ZM450.6 334.9L449.1 337.6L446 337.6L444.4 334.9L446 332.2L449.1 332.2ZM451.4 335.1L449.9 337.8L446.8 337.8L445.2 335.1L446.8 332.4L449.9 332.4ZM452.2 335.5L450.7 338.2L447.6 338.2L446 335.5L447.6 332.8L450.7 332.8ZM453 335L451.5 337.7L448.4 337.7L446.8 335L448.4 332.3L451.5 332.3ZM453.8 335.2L452.3 337.9L449.2 337.9L447.6 335.2L449.2 332.5L452.3 332.5ZM454.6 336L453.1 338.7L450 338.7L448.4 336L450 333.3L453.1 333.3ZM455.4 336.7L453.9 339.4L450.8 339.4L449.2 336.7L450.8 334L453.9 334ZM456.2 337.2L454.7 339.9L451.6 339.9L450 337.2L451.6 334.5L454.7 334.5ZM457 338.2L455.5 340.9L452.4 340.9L450.8 338.2L452.4 335.5L455.5 335.5ZM457.8 338L456.3 340.7L453.2 340.7L451.6 338L453.2 335.3L456.3 335.3ZM458.6 338.4L457.1 341.1L454 341.1L452.4 338.4L454 335.7L457.1 335.7ZM459.4 338.3L457.9 341L454.8 341L453.2 338.3L454.8 335.6L457.9 335.6ZM460.2 338.6L458.7 341.3L455.6 341.3L454 338.6L455.6 335.9L458.7 335.9ZM461 339.4L459.5 342.1L456.4 342.1L454.8 339.4L456.4 336.7L459.5 336.7ZM461.8 340.5L460.3 343.2L457.2 343.2L455.6 340.5L457.2 337.7L460.3 337.7ZM462.6 339.7L461.1 342.4L458 342.4L456.4 339.7L458 337L461.1 337ZM463.4 340.3L461.9 343L458.8 343L457.2 340.3L458.8 337.6L461.9 337.6ZM464.2 340L462.7 342.7L459.6 342.7L458 340L459.6 337.3L462.7 337.3ZM465 339.7L463.5 342.4L460.4 342.4L458.8 339.7L460.4 337L463.5 337ZM465.8 340.4L464.3 343.1L461.2 343.1L459.6 340.4L461.2 337.7L464.3 337.7ZM466.6 340.8L465.1 343.5L462 343.5L460.4 340.8L462 338.1L465.1 338.1ZM467.4 340.9L465.9 343.6L462.8 343.6L461.2 340.9L462.8 338.2L465.9 338.2ZM468.2 340.7L466.7 343.4L463.6 343.4L462 340.7L463.6 338L466.7 338ZM469 342.7L467.5 345.4L464.4 345.4L462.8 342.7L464.4 340L467.5 340ZM469.8 342.1L468.3 344.8L465.2 344.8L463.6 342.1L465.2 339.4L468.3 339.4ZM470.6 342.1L469.1 344.8L466 344.8L464.4 342.1L466 339.4L469.1 339.4ZM471.4 340.5L469.9 343.2L466.8 343.2L465.2 340.5L466.8 337.8L469.9 337.8ZM472.2 341.3L470.7 344L467.6 344L466 341.3L467.6 338.6L470.7 338.6ZM473 342.6L471.5 345.4L468.4 345.4L466.8 342.6L468.4 339.9L471.5 339.9ZM473.8 343.7L472.3 346.4L469.2 346.4L467.6 343.7L469.2 341L472.3 341ZM474.6 342.1L473.1 344.8L470 344.8L468.4 342.1L470 339.4L473.1 339.4ZM475.4 342.9L473.9 345.6L470.8 345.6L469.2 342.9L470.8 340.2L473.9 340.2ZM476.2 342.3L474.7 345L471.6 345L470 342.3L471.6 339.6L474.7 339.6ZM477 343.8L475.5 346.5L472.4 346.5L470.8 343.8L472.4 341.1L475.5 341.1ZM477.8 344.3L476.3 347L473.2 347L471.6 344.3L473.2 341.6L476.3 341.6ZM478.6 345.8L477.1 348.5L474 348.5L472.4 345.8L474 343.1L477.1 343.1ZM479.4 345.3L477.9 348L474.8 348L473.2 345.3L474.8 342.6L477.9 342.6ZM480.2 345.9L478.7 348.6L475.6 348.6L474 345.9L475.6 343.2L478.7 343.2ZM481 346.7L479.5 349.4L476.4 349.4L474.8 346.7L476.4 344L479.5 344ZM481.8 346.5L480.3 349.2L477.2 349.2L475.6 346.5L477.2 343.8L480.3 343.8ZM482.6 347.6L481.1 350.3L478 350.3L476.4 347.6L478 344.9L481.1 344.9ZM483.4 348.3L481.9 351L478.8 351L477.2 348.3L478.8 345.6L481.9 345.6ZM484.2 348.6L482.7 351.3L479.6 351.3L478 348.6L479.6 345.9L482.7 345.9ZM485 348.5L483.5 351.2L480.4 351.2L478.8 348.5L480.4 345.8L483.5 345.8ZM485.8 346.6L484.3 349.3L481.2 349.3L479.6 346.6L481.2 343.9L484.3 343.9ZM486.6 347.4L485.1 350.1L482 350.1L480.4 347.4L482 344.7L485.1 344.7ZM487.4 346.8L485.9 349.5L482.8 349.5L481.2 346.8L482.8 344.1L485.9 344.1ZM488.2 348.9L486.7 351.6L483.6 351.6L482 348.9L483.6 346.2L486.7 346.2ZM489 349L487.5 351.7L484.4 351.7L482.8 349L484.4 346.3L487.5 346.3ZM489.8 348.9L488.3 351.6L485.2 351.6L483.6 348.9L485.2 346.2L488.3 346.2ZM490.6 350.8L489.1 353.5L486 353.5L484.4 350.8L486 348.1L489.1 348.1ZM491.4 353.6L489.9 356.3L486.8 356.3L485.2 353.6L486.8 350.9L489.9 350.9ZM492.2 352.7L490.7 355.4L487.6 355.4L486 352.7L487.6 350L490.7 350ZM493 346.6L491.5 349.3L488.4 349.3L486.8 346.6L488.4 343.9L491.5 343.9ZM493.8 353.6L492.3 356.3L489.2 356.3L487.6 353.6L489.2 350.9L492.3 350.9ZM494.6 355.4L493.1 358.1L490 358.1L488.4 355.4L490 352.7L493.1 352.7ZM495.4 351L493.9 353.7L490.8 353.7L489.2 351L490.8 348.3L493.9 348.3ZM496.2 354.5L494.7 357.2L491.6 357.2L490 354.5L491.6 351.8L494.7 351.8ZM497 353.4L495.5 356.1L492.4 356.1L490.8 353.4L492.4 350.7L495.5 350.7ZM497.8 352.8L496.3 355.5L493.2 355.5L491.6 352.8L493.2 350.1L496.3 350.1ZM498.6 349.6L497.1 352.3L494 352.3L492.4 349.6L494 346.9L497.1 346.9ZM499.4 354.6L497.9 357.3L494.8 357.3L493.2 354.6L494.8 351.9L497.9 351.9ZM500.2 357.2L498.7 359.9L495.6 359.9L494 357.2L495.6 354.5L498.7 354.5ZM501 357.5L499.5 360.2L496.4 360.2L494.8 357.5L496.4 354.8L499.5 354.8ZM501.8 359.3L500.3 362L497.2 362L495.6 359.3L497.2 356.6L500.3 356.6ZM502.6 357.7L501.1 360.4L498 360.4L496.4 357.7L498 354.9L501.1 354.9ZM503.4 362.3L501.9 365L498.8 365L497.2 362.3L498.8 359.6L501.9 359.6ZM504.2 357.8L502.7 360.5L499.6 360.5L498 357.8L499.6 355.1L502.7 355.1ZM505 353L503.5 355.7L500.4 355.7L498.8 353L500.4 350.3L503.5 350.3ZM505.8 352.9L504.3 355.6L501.2 355.6L499.6 352.9L501.2 350.2L504.3 350.2ZM506.6 361.7L505.1 364.4L502 364.4L500.4 361.7L502 359L505.1 359ZM507.4 361.5L505.9 364.2L502.8 364.2L501.2 361.5L502.8 358.8L505.9 358.8ZM508.2 357.9L506.7 360.6L503.6 360.6L502 357.9L503.6 355.2L506.7 355.2ZM509 357.7L507.5 360.4L504.4 360.4L502.8 357.7L504.4 355L507.5 355ZM509.8 360.6L508.3 363.3L505.2 363.3L503.6 360.6L505.2 357.9L508.3 357.9ZM510.6 356.1L509.1 358.8L506 358.8L504.4 356.1L506 353.4L509.1 353.4ZM511.4 356.7L509.9 359.4L506.8 359.4L505.2 356.7L506.8 354L509.9 354ZM512.2 359.4L510.7 362.1L507.6 362.1L506 359.4L507.6 356.7L510.7 356.7ZM513 360.5L511.5 363.2L508.4 363.2L506.8 360.5L508.4 357.8L511.5 357.8ZM513.8 359.8L512.3 362.5L509.2 362.5L507.6 359.8L509.2 357.1L512.3 357.1ZM514.6 358.5L513.1 361.2L510 361.2L508.4 358.5L510 355.8L513.1 355.8ZM515.4 357.3L513.9 360L510.8 360L509.2 357.3L510.8 354.6L513.9 354.6ZM516.2 358.3L514.7 361L511.6 361L510 358.3L511.6 355.6L514.7 355.6ZM517 358.9L515.5 361.6L512.4 361.6L510.8 358.9L512.4 356.2L515.5 356.2ZM517.8 361.4L516.3 364.1L513.2 364.1L511.6 361.4L513.2 358.7L516.3 358.7ZM518.6 359.3L517.1 362L514 362L512.4 359.3L514 356.6L517.1 356.6ZM519.4 363L517.9 365.7L514.8 365.7L513.2 363L514.8 360.3L517.9 360.3ZM520.2 355.7L518.7 358.4L515.6 358.4L514 355.7L515.6 353L518.7 353ZM521 358.7L519.5 361.4L516.4 361.4L514.8 358.7L516.4 356L519.5 356ZM521.8 355.9L520.3 358.6L517.2 358.6L515.6 355.9L517.2 353.2L520.3 353.2ZM522.6 361.8L521.1 364.5L518 364.5L516.4 361.8L518 359.1L521.1 359.1ZM523.4 357.4L521.9 360.1L518.8 360.1L517.2 357.4L518.8 354.7L521.9 354.7ZM524.2 361.6L522.7 364.3L519.6 364.3L518 361.6L519.6 358.9L522.7 358.9ZM525 363.4L523.5 366.1L520.4 366.1L518.8 363.4L520.4 360.7L523.5 360.7ZM525.8 364.3L524.3 367L521.2 367L519.6 364.3L521.2 361.6L524.3 361.6ZM526.6 359.6L525.1 362.3L522 362.3L520.4 359.6L522 356.8L525.1 356.8ZM527.4 362L525.9 364.7L522.8 364.7L521.2 362L522.8 359.3L525.9 359.3ZM528.2 359.9L526.7 362.6L523.6 362.6L522 359.9L523.6 357.2L526.7 357.2ZM529 362.1L527.5 364.8L524.4 364.8L522.8 362.1L524.4 359.4L527.5 359.4ZM529.8 359.2L528.3 361.9L525.2 361.9L523.6 359.2L525.2 356.5L528.3 356.5ZM530.6 360.4L529.1 363.1L526 363.1L524.4 360.4L526 357.6L529.1 357.6ZM531.4 362.6L529.9 365.3L526.8 365.3L525.2 362.6L526.8 359.9L529.9 359.9ZM532.2 361.6L530.7 364.3L527.6 364.3L526 361.6L527.6 358.9L530.7 358.9ZM533 364L531.5 366.7L528.4 366.7L526.8 364L528.4 361.3L531.5 361.3ZM533.8 363L532.3 365.7L529.2 365.7L527.6 363L529.2 360.3L532.3 360.3ZM534.6 367.1L533.1 369.8L530 369.8L528.4 367.1L530 364.4L533.1 364.4ZM535.4 369.2L533.9 371.9L530.8 371.9L529.2 369.2L530.8 366.5L533.9 366.5ZM536.2 360.5L534.7 363.2L531.6 363.2L530 360.5L531.6 357.7L534.7 357.7ZM537 367.4L535.5 370.1L532.4 370.1L530.8 367.4L532.4 364.7L535.5 364.7ZM537.8 363.8L536.3 366.5L533.2 366.5L531.6 363.8L533.2 361.1L536.3 361.1ZM538.6 368.5L537.1 371.2L534 371.2L532.4 368.5L534 365.8L537.1 365.8ZM539.4 361.4L537.9 364.1L534.8 364.1L533.2 361.4L534.8 358.7L537.9 358.7ZM540.2 368.2L538.7 370.9L535.6 370.9L534 368.2L535.6 365.5L538.7 365.5ZM541 359.7L539.5 362.4L536.4 362.4L534.8 359.7L536.4 357L539.5 357ZM541.8 359.3L540.3 362L537.2 362L535.6 359.3L537.2 356.6L540.3 356.6ZM542.6 359.6L541.1 362.3L538 362.3L536.4 359.6L538 356.9L541.1 356.9ZM543.4 367.5L541.9 370.2L538.8 370.2L537.2 367.5L538.8 364.8L541.9 364.8ZM544.2 359.3L542.7 362L539.6 362L538 359.3L539.6 356.6L542.7 356.6Z" fill="#800080"/>
<path d="M111 257.2L111.9 259.7L114.6 259.8L112.5 261.4L113.2 264L111 262.5L108.8 264L109.5 261.4L107.4 259.8L110.1 259.7ZM111.5 257.7L112.4 260.1L115.1 260.2L113 261.9L113.7 264.4L111.5 263L109.3 264.4L110 261.9L107.9 260.2L110.6 260.1ZM113.2 262.9L114.1 265.4L116.8 265.5L114.7 267.2L115.4 269.7L113.2 268.2L111 269.7L111.7 267.2L109.6 265.5L112.3 265.4ZM115.5 265.8L116.4 268.2L119.1 268.3L117 270L117.7 272.5L115.5 271.1L113.3 272.5L114 270L111.9 268.3L114.6 268.2ZM119 269.4L119.9 271.8L122.6 271.9L120.5 273.6L121.2 276.1L119 274.7L116.8 276.1L117.5 273.6L115.4 271.9L118.1 271.8ZM124.2 265.8L125.1 268.3L127.8 268.4L125.7 270L126.4 272.5L124.2 271.1L122 272.5L122.7 270L120.6 268.4L123.3 268.3ZM132.5 259.6L133.4 262L136.1 262.1L134 263.8L134.7 266.3L132.5 264.9L130.3 266.3L131 263.8L128.9 262.1L131.6 262ZM177 248.8L177.9 251.3L180.6 251.4L178.5 253.1L179.2 255.6L177 254.1L174.8 255.6L175.5 253.1L173.4 251.4L176.1 251.3ZM229.6 263.2L230.5 265.7L233.2 265.8L231.1 267.4L231.8 270L229.6 268.5L227.4 270L228.1 267.4L226 265.8L228.7 265.7ZM266.1 276.4L267 278.9L269.7 279L267.6 280.6L268.3 283.1L266.1 281.7L263.9 283.1L264.6 280.6L262.5 279L265.2 278.9ZM288.4 284.3L289.3 286.7L292 286.8L289.9 288.5L290.6 291L288.4 289.6L286.2 291L286.9 288.5L284.8 286.8L287.5 286.7ZM306.4 289.8L307.3 292.2L310 292.3L307.9 294L308.6 296.5L306.4 295.1L304.2 296.5L304.9 294L302.8 292.3L305.5 292.2ZM320.5 294.5L321.4 297L324.1 297.1L322 298.7L322.7 301.2L320.5 299.8L318.3 301.2L319 298.7L316.9 297.1L319.6 297ZM331.5 298.9L332.4 301.4L335.1 301.5L333 303.1L333.7 305.7L331.5 304.2L329.3 305.7L330 303.1L327.9 301.5L330.6 301.4ZM340.6 302.2L341.5 304.6L344.2 304.7L342.1 306.4L342.8 308.9L340.6 307.5L338.4 308.9L339.1 306.4L337 304.7L339.7 304.6ZM349.8 306.1L350.7 308.5L353.4 308.6L351.3 310.3L352 312.8L349.8 311.4L347.6 312.8L348.3 310.3L346.2 308.6L348.9 308.5ZM357.8 308.3L358.7 310.8L361.4 310.9L359.3 312.5L360 315.1L357.8 313.6L355.6 315.1L356.3 312.5L354.2 310.9L356.9 310.8ZM365 309.7L365.9 312.2L368.6 312.3L366.5 313.9L367.2 316.5L365 315L362.8 316.5L363.5 313.9L361.4 312.3L364.1 312.2ZM371.5 311L372.4 313.5L375 313.6L373 315.2L373.7 317.7L371.5 316.3L369.3 317.7L370 315.2L367.9 313.6L370.6 313.5ZM377.3 313.4L378.2 315.9L380.9 316L378.8 317.6L379.5 320.2L377.3 318.7L375.1 320.2L375.8 317.6L373.8 316L376.4 315.9ZM382.6 315.1L383.5 317.6L386.1 317.7L384 319.3L384.8 321.9L382.6 320.4L380.4 321.9L381.1 319.3L379 317.7L381.6 317.6ZM387.3 316.2L388.2 318.7L390.8 318.8L388.8 320.4L389.5 323L387.3 321.5L385.1 323L385.8 320.4L383.7 318.8L386.4 318.7ZM391.5 316.4L392.5 318.9L395.1 319L393 320.6L393.7 323.2L391.5 321.7L389.3 323.2L390.1 320.6L388 319L390.6 318.9ZM395.4 317.4L396.3 319.9L398.9 320L396.8 321.6L397.6 324.2L395.4 322.7L393.2 324.2L393.9 321.6L391.8 320L394.4 319.9ZM398.8 316.1L399.7 318.6L402.4 318.7L400.3 320.3L401 322.9L398.8 321.4L396.6 322.9L397.3 320.3L395.2 318.7L397.9 318.6ZM401.9 317.1L402.8 319.6L405.5 319.7L403.4 321.4L404.1 323.9L401.9 322.4L399.7 323.9L400.4 321.4L398.3 319.7L401 319.6ZM404.7 318.4L405.6 320.9L408.3 321L406.2 322.6L406.9 325.2L404.7 323.7L402.5 325.2L403.2 322.6L401.1 321L403.8 320.9ZM407.2 319.1L408.1 321.6L410.8 321.7L408.7 323.3L409.4 325.9L407.2 324.4L405 325.9L405.7 323.3L403.6 321.7L406.3 321.6ZM409.5 320.3L410.4 322.8L413 322.9L410.9 324.5L411.7 327.1L409.5 325.6L407.3 327.1L408 324.5L405.9 322.9L408.5 322.8ZM411.5 321.1L412.4 323.6L415.1 323.7L413 325.4L413.7 327.9L411.5 326.4L409.3 327.9L410 325.4L407.9 323.7L410.6 323.6ZM413.3 321.7L414.2 324.2L416.9 324.3L414.8 326L415.5 328.5L413.3 327L411.1 328.5L411.8 326L409.8 324.3L412.4 324.2ZM415 320.9L415.9 323.3L418.5 323.4L416.5 325.1L417.2 327.6L415 326.2L412.8 327.6L413.5 325.1L411.4 323.4L414.1 323.3ZM416.5 321.5L417.4 323.9L420 324L417.9 325.7L418.7 328.2L416.5 326.8L414.3 328.2L415 325.7L412.9 324L415.5 323.9ZM417.8 322.4L418.7 324.9L421.4 325L419.3 326.7L420 329.2L417.8 327.7L415.6 329.2L416.3 326.7L414.2 325L416.9 324.9ZM419 321.9L419.9 324.4L422.6 324.5L420.5 326.1L421.2 328.7L419 327.2L416.8 328.7L417.5 326.1L415.4 324.5L418.1 324.4ZM420.1 323L421 325.5L423.6 325.6L421.6 327.3L422.3 329.8L420.1 328.3L417.9 329.8L418.6 327.3L416.5 325.6L419.2 325.5ZM421 322.5L422 325L424.6 325.1L422.5 326.7L423.2 329.2L421 327.8L418.8 329.2L419.6 326.7L417.5 325.1L420.1 325ZM421.9 322.3L422.8 324.8L425.5 324.9L423.4 326.5L424.1 329L421.9 327.6L419.7 329L420.4 326.5L418.4 324.9L421 324.8ZM422.7 324L423.6 326.5L426.3 326.6L424.2 328.2L424.9 330.8L422.7 329.3L420.5 330.8L421.2 328.2L419.2 326.6L421.8 326.5ZM423.5 322.3L424.4 324.8L427.1 324.9L425 326.6L425.7 329.1L423.5 327.6L421.3 329.1L422 326.6L420 324.9L422.6 324.8ZM424.3 322.6L425.2 325L427.9 325.2L425.8 326.8L426.5 329.3L424.3 327.9L422.1 329.3L422.8 326.8L420.8 325.2L423.4 325ZM425.1 323.7L426 326.2L428.7 326.3L426.6 327.9L427.3 330.5L425.1 329L422.9 330.5L423.6 327.9L421.6 326.3L424.2 326.2ZM425.9 323.7L426.8 326.1L429.5 326.2L427.4 327.9L428.1 330.4L425.9 329L423.7 330.4L424.4 327.9L422.4 326.2L425 326.1ZM426.7 324.6L427.6 327.1L430.3 327.2L428.2 328.8L428.9 331.4L426.7 329.9L424.5 331.4L425.2 328.8L423.2 327.2L425.8 327.1ZM427.5 325.4L428.4 327.9L431.1 328L429 329.6L429.7 332.2L427.5 330.7L425.3 332.2L426 329.6L424 328L426.6 327.9ZM428.3 324.8L429.2 327.2L431.9 327.4L429.8 329L430.5 331.5L428.3 330.1L426.1 331.5L426.8 329L424.8 327.4L427.4 327.2ZM429.1 325.6L430 328L432.7 328.2L430.6 329.8L431.3 332.3L429.1 330.9L426.9 332.3L427.6 329.8L425.6 328.2L428.2 328ZM429.9 325L430.8 327.5L433.5 327.6L431.4 329.3L432.1 331.8L429.9 330.3L427.7 331.8L428.4 329.3L426.4 327.6L429 327.5ZM430.7 325L431.6 327.5L434.3 327.6L432.2 329.3L432.9 331.8L430.7 330.3L428.5 331.8L429.2 329.3L427.2 327.6L429.8 327.5ZM431.5 325.3L432.4 327.8L435.1 327.9L433 329.5L433.7 332.1L431.5 330.6L429.3 332.1L430 329.5L428 327.9L430.6 327.8ZM432.3 325.7L433.2 328.2L435.9 328.3L433.8 330L434.5 332.5L432.3 331L430.1 332.5L430.8 330L428.8 328.3L431.4 328.2ZM433.1 327L434 329.5L436.7 329.6L434.6 331.2L435.3 333.8L433.1 332.3L430.9 333.8L431.6 331.2L429.6 329.6L432.2 329.5ZM433.9 324.5L434.8 327L437.5 327.1L435.4 328.8L436.1 331.3L433.9 329.8L431.7 331.3L432.4 328.8L430.4 327.1L433 327ZM434.7 326L435.6 328.5L438.3 328.6L436.2 330.2L436.9 332.8L434.7 331.3L432.5 332.8L433.2 330.2L431.2 328.6L433.8 328.5ZM435.5 326.5L436.4 329L439.1 329.1L437 330.8L437.7 333.3L435.5 331.8L433.3 333.3L434 330.8L432 329.1L434.6 329ZM436.3 327.2L437.2 329.6L439.9 329.8L437.8 331.4L438.5 333.9L436.3 332.5L434.1 333.9L434.8 331.4L432.8 329.8L435.4 329.6ZM437.1 327.7L438 330.1L440.7 330.2L438.6 331.9L439.3 334.4L437.1 333L434.9 334.4L435.6 331.9L433.6 330.2L436.2 330.1ZM437.9 328.8L438.8 331.3L441.5 331.4L439.4 333L440.1 335.6L437.9 334.1L435.7 335.6L436.4 333L434.4 331.4L437 331.3ZM438.7 329L439.6 331.5L442.3 331.6L440.2 333.3L440.9 335.8L438.7 334.3L436.5 335.8L437.2 333.3L435.2 331.6L437.8 331.5ZM439.5 328.5L440.4 331L443.1 331.1L441 332.7L441.7 335.3L439.5 333.8L437.3 335.3L438 332.7L436 331.1L438.6 331ZM440.3 328.9L441.2 331.4L443.9 331.5L441.8 333.1L442.5 335.7L440.3 334.2L438.1 335.7L438.8 333.1L436.8 331.5L439.4 331.4ZM441.1 327.4L442 329.9L444.7 330L442.6 331.6L443.3 334.2L441.1 332.7L438.9 334.2L439.6 331.6L437.6 330L440.2 329.9ZM441.9 327.8L442.8 330.2L445.5 330.4L443.4 332L444.1 334.5L441.9 333.1L439.7 334.5L440.4 332L438.4 330.4L441 330.2ZM442.7 329.4L443.6 331.9L446.3 332L444.2 333.6L444.9 336.2L442.7 334.7L440.5 336.2L441.2 333.6L439.2 332L441.8 331.9ZM443.5 329.3L444.4 331.8L447.1 331.9L445 333.5L445.7 336.1L443.5 334.6L441.3 336.1L442 333.5L440 331.9L442.6 331.8ZM444.3 329.2L445.2 331.7L447.9 331.8L445.8 333.4L446.5 336L444.3 334.5L442.1 336L442.8 333.4L440.8 331.8L443.4 331.7ZM445.1 330.1L446 332.6L448.7 332.7L446.6 334.4L447.3 336.9L445.1 335.5L442.9 336.9L443.6 334.4L441.6 332.7L444.2 332.6ZM445.9 330.8L446.8 333.2L449.5 333.4L447.4 335L448.1 337.5L445.9 336.1L443.7 337.5L444.4 335L442.4 333.4L445 333.2ZM446.7 329.9L447.6 332.4L450.3 332.5L448.2 334.1L448.9 336.7L446.7 335.2L444.5 336.7L445.2 334.1L443.2 332.5L445.8 332.4ZM447.5 331.1L448.4 333.5L451.1 333.6L449 335.3L449.7 337.8L447.5 336.4L445.3 337.8L446 335.3L444 333.6L446.6 333.5ZM448.3 331.2L449.2 333.7L451.9 333.8L449.8 335.5L450.5 338L448.3 336.5L446.1 338L446.8 335.5L444.8 333.8L447.4 333.7ZM449.1 331.7L450 334.2L452.7 334.3L450.6 335.9L451.3 338.5L449.1 337L446.9 338.5L447.6 335.9L445.6 334.3L448.2 334.2ZM449.9 331.2L450.8 333.7L453.5 333.8L451.4 335.4L452.1 338L449.9 336.5L447.7 338L448.4 335.4L446.4 333.8L449 333.7ZM450.7 331.4L451.6 333.9L454.3 334L452.2 335.6L452.9 338.2L450.7 336.7L448.5 338.2L449.2 335.6L447.2 334L449.8 333.9ZM451.5 332.2L452.4 334.7L455.1 334.8L453 336.4L453.7 339L451.5 337.5L449.3 339L450 336.4L448 334.8L450.6 334.7ZM452.3 332.9L453.2 335.4L455.9 335.5L453.8 337.1L454.5 339.7L452.3 338.2L450.1 339.7L450.8 337.1L448.8 335.5L451.4 335.4ZM453.1 333.4L454 335.9L456.7 336L454.6 337.6L455.3 340.2L453.1 338.7L450.9 340.2L451.6 337.6L449.6 336L452.2 335.9ZM453.9 334.3L454.8 336.8L457.5 336.9L455.4 338.6L456.1 341.1L453.9 339.6L451.7 341.1L452.4 338.6L450.4 336.9L453 336.8ZM454.7 334.2L455.6 336.7L458.3 336.8L456.2 338.5L456.9 341L454.7 339.5L452.5 341L453.2 338.5L451.2 336.8L453.8 336.7ZM455.5 334.6L456.4 337.1L459.1 337.2L457 338.8L457.7 341.4L455.5 339.9L453.3 341.4L454 338.8L452 337.2L454.6 337.1ZM456.3 334.4L457.2 336.9L459.9 337L457.8 338.7L458.5 341.2L456.3 339.7L454.1 341.2L454.8 338.7L452.8 337L455.4 336.9ZM457.1 334.8L458 337.3L460.7 337.4L458.6 339L459.3 341.6L457.1 340.1L454.9 341.6L455.6 339L453.6 337.4L456.2 337.3ZM457.9 335.6L458.8 338.1L461.5 338.2L459.4 339.8L460.1 342.4L457.9 340.9L455.7 342.4L456.4 339.8L454.4 338.2L457 338.1ZM458.7 336.6L459.6 339.1L462.3 339.2L460.2 340.9L460.9 343.4L458.7 341.9L456.5 343.4L457.2 340.9L455.2 339.2L457.8 339.1ZM459.5 335.9L460.4 338.4L463.1 338.5L461 340.1L461.7 342.7L459.5 341.2L457.3 342.7L458 340.1L456 338.5L458.6 338.4ZM460.3 336.5L461.2 339L463.9 339.1L461.8 340.8L462.5 343.3L460.3 341.8L458.1 343.3L458.8 340.8L456.8 339.1L459.4 339ZM461.1 336.2L462 338.6L464.7 338.7L462.6 340.4L463.3 342.9L461.1 341.5L458.9 342.9L459.6 340.4L457.6 338.7L460.2 338.6ZM461.9 335.9L462.8 338.3L465.5 338.5L463.4 340.1L464.1 342.6L461.9 341.2L459.7 342.6L460.4 340.1L458.4 338.5L461 338.3ZM462.7 336.6L463.6 339.1L466.3 339.2L464.2 340.8L464.9 343.4L462.7 341.9L460.5 343.4L461.2 340.8L459.2 339.2L461.8 339.1ZM463.5 337L464.4 339.5L467.1 339.6L465 341.2L465.7 343.8L463.5 342.3L461.3 343.8L462 341.2L460 339.6L462.6 339.5ZM464.3 337.1L465.2 339.6L467.9 339.7L465.8 341.4L466.5 343.9L464.3 342.4L462.1 343.9L462.8 341.4L460.8 339.7L463.4 339.6ZM465.1 336.9L466 339.4L468.7 339.5L466.6 341.2L467.3 343.7L465.1 342.2L462.9 343.7L463.6 341.2L461.6 339.5L464.2 339.4ZM465.9 338.9L466.8 341.4L469.5 341.5L467.4 343.2L468.1 345.7L465.9 344.2L463.7 345.7L464.4 343.2L462.4 341.5L465 341.4ZM466.7 338.3L467.6 340.8L470.3 340.9L468.2 342.5L468.9 345.1L466.7 343.6L464.5 345.1L465.2 342.5L463.2 340.9L465.8 340.8ZM467.5 338.3L468.4 340.7L471.1 340.8L469 342.5L469.7 345L467.5 343.6L465.3 345L466 342.5L464 340.8L466.6 340.7ZM468.3 336.7L469.2 339.2L471.9 339.3L469.8 340.9L470.5 343.5L468.3 342L466.1 343.5L466.8 340.9L464.8 339.3L467.4 339.2ZM469.1 337.5L470 340L472.7 340.1L470.6 341.7L471.3 344.3L469.1 342.8L466.9 344.3L467.6 341.7L465.6 340.1L468.2 340ZM469.9 338.9L470.8 341.3L473.5 341.4L471.4 343.1L472.1 345.6L469.9 344.2L467.7 345.6L468.4 343.1L466.4 341.4L469 341.3ZM470.7 340L471.6 342.4L474.3 342.5L472.2 344.2L472.9 346.7L470.7 345.3L468.5 346.7L469.2 344.2L467.2 342.5L469.8 342.4ZM471.5 338.3L472.4 340.8L475.1 340.9L473 342.5L473.7 345.1L471.5 343.6L469.3 345.1L470 342.5L468 340.9L470.6 340.8ZM472.3 339.1L473.2 341.6L475.9 341.7L473.8 343.3L474.5 345.9L472.3 344.4L470.1 345.9L470.8 343.3L468.8 341.7L471.4 341.6ZM473.1 338.5L474 341L476.7 341.1L474.6 342.7L475.3 345.3L473.1 343.8L470.9 345.3L471.6 342.7L469.6 341.1L472.2 341ZM473.9 340L474.8 342.5L477.5 342.6L475.4 344.2L476.1 346.8L473.9 345.3L471.7 346.8L472.4 344.2L470.4 342.6L473 342.5ZM474.7 340.5L475.6 343L478.3 343.1L476.2 344.7L476.9 347.3L474.7 345.8L472.5 347.3L473.2 344.7L471.2 343.1L473.8 343ZM475.5 342L476.4 344.5L479.1 344.6L477 346.2L477.7 348.8L475.5 347.3L473.3 348.8L474 346.2L472 344.6L474.6 344.5ZM476.3 341.5L477.2 344L479.9 344.1L477.8 345.8L478.5 348.3L476.3 346.9L474.1 348.3L474.8 345.8L472.8 344.1L475.4 344ZM477.1 342.1L478 344.6L480.7 344.7L478.6 346.4L479.3 348.9L477.1 347.4L474.9 348.9L475.6 346.4L473.6 344.7L476.2 344.6ZM477.9 342.9L478.8 345.4L481.5 345.5L479.4 347.1L480.1 349.7L477.9 348.2L475.7 349.7L476.4 347.1L474.4 345.5L477 345.4ZM478.7 342.7L479.6 345.2L482.3 345.3L480.2 346.9L480.9 349.5L478.7 348L476.5 349.5L477.2 346.9L475.2 345.3L477.8 345.2ZM479.5 343.8L480.4 346.3L483.1 346.4L481 348.1L481.7 350.6L479.5 349.1L477.3 350.6L478 348.1L476 346.4L478.6 346.3ZM480.3 344.5L481.2 347L483.9 347.1L481.8 348.7L482.5 351.3L480.3 349.8L478.1 351.3L478.8 348.7L476.8 347.1L479.4 347ZM481.1 344.8L482 347.3L484.7 347.4L482.6 349L483.3 351.6L481.1 350.1L478.9 351.6L479.6 349L477.6 347.4L480.2 347.3ZM481.9 344.8L482.8 347.2L485.5 347.4L483.4 349L484.1 351.5L481.9 350.1L479.7 351.5L480.4 349L478.4 347.4L481 347.2ZM482.7 342.8L483.6 345.3L486.3 345.4L484.2 347L484.9 349.6L482.7 348.1L480.5 349.6L481.2 347L479.2 345.4L481.8 345.3ZM483.5 343.6L484.4 346.1L487.1 346.2L485 347.9L485.7 350.4L483.5 348.9L481.3 350.4L482 347.9L480 346.2L482.6 346.1ZM484.3 343L485.2 345.5L487.9 345.6L485.8 347.2L486.5 349.8L484.3 348.3L482.1 349.8L482.8 347.2L480.8 345.6L483.4 345.5ZM485.1 345.1L486 347.6L488.7 347.7L486.6 349.4L487.3 351.9L485.1 350.4L482.9 351.9L483.6 349.4L481.6 347.7L484.2 347.6ZM485.9 345.3L486.8 347.7L489.5 347.9L487.4 349.5L488.1 352L485.9 350.6L483.7 352L484.4 349.5L482.4 347.9L485 347.7ZM486.7 345.2L487.6 347.6L490.3 347.7L488.2 349.4L488.9 351.9L486.7 350.5L484.5 351.9L485.2 349.4L483.2 347.7L485.8 347.6ZM487.5 347L488.4 349.5L491.1 349.6L489 351.2L489.7 353.8L487.5 352.3L485.3 353.8L486 351.2L484 349.6L486.6 349.5ZM488.3 349.8L489.2 352.3L491.9 352.4L489.8 354L490.5 356.6L488.3 355.1L486.1 356.6L486.8 354L484.8 352.4L487.4 352.3ZM489.1 348.9L490 351.4L492.7 351.5L490.6 353.2L491.3 355.7L489.1 354.2L486.9 355.7L487.6 353.2L485.6 351.5L488.2 351.4ZM489.9 342.9L490.8 345.4L493.5 345.5L491.4 347.1L492.1 349.6L489.9 348.2L487.7 349.6L488.4 347.1L486.4 345.5L489 345.4ZM490.7 349.9L491.6 352.3L494.3 352.4L492.2 354.1L492.9 356.6L490.7 355.2L488.5 356.6L489.2 354.1L487.2 352.4L489.8 352.3ZM491.5 351.7L492.4 354.2L495.1 354.3L493 355.9L493.7 358.4L491.5 357L489.3 358.4L490 355.9L488 354.3L490.6 354.2ZM492.3 347.2L493.2 349.7L495.9 349.8L493.8 351.4L494.5 354L492.3 352.5L490.1 354L490.8 351.4L488.8 349.8L491.4 349.7ZM493.1 350.8L494 353.3L496.7 353.4L494.6 355L495.3 357.6L493.1 356.1L490.9 357.6L491.6 355L489.6 353.4L492.2 353.3ZM493.9 349.7L494.8 352.2L497.5 352.3L495.4 353.9L496.1 356.5L493.9 355L491.7 356.5L492.4 353.9L490.4 352.3L493 352.2ZM494.7 349.1L495.6 351.6L498.3 351.7L496.2 353.3L496.9 355.8L494.7 354.4L492.5 355.8L493.2 353.3L491.2 351.7L493.8 351.6ZM495.5 345.9L496.4 348.4L499.1 348.5L497 350.1L497.7 352.7L495.5 351.2L493.3 352.7L494 350.1L492 348.5L494.6 348.4ZM496.3 350.8L497.2 353.3L499.9 353.4L497.8 355L498.5 357.6L496.3 356.1L494.1 357.6L494.8 355L492.8 353.4L495.4 353.3ZM497.1 353.5L498 356L500.7 356.1L498.6 357.7L499.3 360.3L497.1 358.8L494.9 360.3L495.6 357.7L493.6 356.1L496.2 356ZM497.9 353.7L498.8 356.2L501.5 356.3L499.4 357.9L500.1 360.5L497.9 359L495.7 360.5L496.4 357.9L494.4 356.3L497 356.2ZM498.7 355.6L499.6 358.1L502.3 358.2L500.2 359.8L500.9 362.4L498.7 360.9L496.5 362.4L497.2 359.8L495.2 358.2L497.8 358.1ZM499.5 353.9L500.4 356.4L503.1 356.5L501 358.1L501.7 360.7L499.5 359.2L497.3 360.7L498 358.1L496 356.5L498.6 356.4ZM500.3 358.6L501.2 361.1L503.9 361.2L501.8 362.8L502.5 365.4L500.3 363.9L498.1 365.4L498.8 362.8L496.8 361.2L499.4 361.1ZM501.1 354.1L502 356.6L504.7 356.7L502.6 358.3L503.3 360.9L501.1 359.4L498.9 360.9L499.6 358.3L497.6 356.7L500.2 356.6ZM501.9 349.2L502.8 351.7L505.5 351.8L503.4 353.5L504.1 356L501.9 354.6L499.7 356L500.4 353.5L498.4 351.8L501 351.7ZM502.7 349.1L503.6 351.6L506.3 351.7L504.2 353.4L504.9 355.9L502.7 354.4L500.5 355.9L501.2 353.4L499.2 351.7L501.8 351.6ZM503.5 357.9L504.4 360.4L507.1 360.5L505 362.1L505.7 364.7L503.5 363.2L501.3 364.7L502 362.1L500 360.5L502.6 360.4ZM504.3 357.7L505.2 360.2L507.9 360.3L505.8 362L506.5 364.5L504.3 363.1L502.1 364.5L502.8 362L500.8 360.3L503.4 360.2ZM505.1 354.2L506 356.7L508.7 356.8L506.6 358.4L507.3 361L505.1 359.5L502.9 361L503.6 358.4L501.6 356.8L504.2 356.7ZM505.9 353.9L506.8 356.4L509.5 356.5L507.4 358.2L508.1 360.7L505.9 359.2L503.7 360.7L504.4 358.2L502.4 356.5L505 356.4ZM506.7 356.8L507.6 359.3L510.3 359.4L508.2 361.1L508.9 363.6L506.7 362.1L504.5 363.6L505.2 361.1L503.2 359.4L505.8 359.3ZM507.5 352.4L508.4 354.8L511.1 354.9L509 356.6L509.7 359.1L507.5 357.7L505.3 359.1L506 356.6L504 354.9L506.6 354.8ZM508.3 353L509.2 355.5L511.9 355.6L509.8 357.2L510.5 359.8L508.3 358.3L506.1 359.8L506.8 357.2L504.8 355.6L507.4 355.5ZM509.1 355.6L510 358.1L512.7 358.2L510.6 359.8L511.3 362.4L509.1 360.9L506.9 362.4L507.6 359.8L505.6 358.2L508.2 358.1ZM509.9 356.8L510.8 359.2L513.5 359.3L511.4 361L512.1 363.5L509.9 362.1L507.7 363.5L508.4 361L506.4 359.3L509 359.2ZM510.7 356L511.6 358.5L514.3 358.6L512.2 360.3L512.9 362.8L510.7 361.3L508.5 362.8L509.2 360.3L507.2 358.6L509.8 358.5ZM511.5 354.7L512.4 357.2L515.1 357.3L513 359L513.7 361.5L511.5 360L509.3 361.5L510 359L508 357.3L510.6 357.2ZM512.3 353.5L513.2 356L515.9 356.1L513.8 357.8L514.5 360.3L512.3 358.8L510.1 360.3L510.8 357.8L508.8 356.1L511.4 356ZM513.1 354.6L514 357.1L516.7 357.2L514.6 358.8L515.3 361.4L513.1 359.9L510.9 361.4L511.6 358.8L509.6 357.2L512.2 357.1ZM513.9 355.2L514.8 357.7L517.5 357.8L515.4 359.4L516.1 362L513.9 360.5L511.7 362L512.4 359.4L510.4 357.8L513 357.7ZM514.7 357.6L515.6 360.1L518.3 360.2L516.2 361.9L516.9 364.4L514.7 362.9L512.5 364.4L513.2 361.9L511.2 360.2L513.8 360.1ZM515.5 355.5L516.4 358L519.1 358.1L517 359.7L517.7 362.3L515.5 360.8L513.3 362.3L514 359.7L512 358.1L514.6 358ZM516.3 359.3L517.2 361.7L519.9 361.9L517.8 363.5L518.5 366L516.3 364.6L514.1 366L514.8 363.5L512.8 361.9L515.4 361.7ZM517.1 352L518 354.5L520.7 354.6L518.6 356.2L519.3 358.8L517.1 357.3L514.9 358.8L515.6 356.2L513.6 354.6L516.2 354.5ZM517.9 355L518.8 357.5L521.5 357.6L519.4 359.2L520.1 361.8L517.9 360.3L515.7 361.8L516.4 359.2L514.4 357.6L517 357.5ZM518.7 352.2L519.6 354.6L522.3 354.7L520.2 356.4L520.9 358.9L518.7 357.5L516.5 358.9L517.2 356.4L515.2 354.7L517.8 354.6ZM519.5 358.1L520.4 360.6L523.1 360.7L521 362.3L521.7 364.9L519.5 363.4L517.3 364.9L518 362.3L516 360.7L518.6 360.6ZM520.3 353.6L521.2 356.1L523.9 356.2L521.8 357.8L522.5 360.4L520.3 358.9L518.1 360.4L518.8 357.8L516.8 356.2L519.4 356.1ZM521.1 357.8L522 360.3L524.7 360.4L522.6 362.1L523.3 364.6L521.1 363.1L518.9 364.6L519.6 362.1L517.6 360.4L520.2 360.3ZM521.9 359.6L522.8 362.1L525.5 362.2L523.4 363.8L524.1 366.4L521.9 364.9L519.7 366.4L520.4 363.8L518.4 362.2L521 362.1ZM522.7 360.5L523.6 363L526.3 363.1L524.2 364.7L524.9 367.3L522.7 365.8L520.5 367.3L521.2 364.7L519.2 363.1L521.8 363ZM523.5 355.8L524.4 358.3L527.1 358.4L525 360L525.7 362.6L523.5 361.1L521.3 362.6L522 360L520 358.4L522.6 358.3ZM524.3 358.2L525.2 360.7L527.9 360.8L525.8 362.5L526.5 365L524.3 363.5L522.1 365L522.8 362.5L520.8 360.8L523.4 360.7ZM525.1 356.1L526 358.6L528.7 358.7L526.6 360.4L527.3 362.9L525.1 361.4L522.9 362.9L523.6 360.4L521.6 358.7L524.2 358.6ZM525.9 358.3L526.8 360.8L529.5 360.9L527.4 362.5L528.1 365.1L525.9 363.6L523.7 365.1L524.4 362.5L522.4 360.9L525 360.8ZM526.7 355.4L527.6 357.9L530.3 358L528.2 359.7L528.9 362.2L526.7 360.8L524.5 362.2L525.2 359.7L523.2 358L525.8 357.9ZM527.5 356.6L528.4 359.1L531.1 359.2L529 360.8L529.7 363.4L527.5 361.9L525.3 363.4L526 360.8L524 359.2L526.6 359.1ZM528.3 358.9L529.2 361.4L531.9 361.5L529.8 363.1L530.5 365.7L528.3 364.2L526.1 365.7L526.8 363.1L524.8 361.5L527.4 361.4ZM529.1 357.8L530 360.3L532.7 360.4L530.6 362.1L531.3 364.6L529.1 363.1L526.9 364.6L527.6 362.1L525.6 360.4L528.2 360.3ZM529.9 360.2L530.8 362.7L533.5 362.8L531.4 364.4L532.1 367L529.9 365.5L527.7 367L528.4 364.4L526.4 362.8L529 362.7ZM530.7 359.3L531.6 361.7L534.3 361.8L532.2 363.5L532.9 366L530.7 364.6L528.5 366L529.2 363.5L527.2 361.8L529.8 361.7ZM531.5 363.4L532.4 365.9L535.1 366L533 367.6L533.7 370.2L531.5 368.7L529.3 370.2L530 367.6L528 366L530.6 365.9ZM532.3 365.5L533.2 367.9L535.9 368L533.8 369.7L534.5 372.2L532.3 370.8L530.1 372.2L530.8 369.7L528.8 368L531.4 367.9ZM533.1 356.7L534 359.2L536.7 359.3L534.6 360.9L535.3 363.5L533.1 362L530.9 363.5L531.6 360.9L529.6 359.3L532.2 359.2ZM533.9 363.6L534.8 366.1L537.5 366.2L535.4 367.9L536.1 370.4L533.9 368.9L531.7 370.4L532.4 367.9L530.4 366.2L533 366.1ZM534.7 360L535.6 362.5L538.3 362.6L536.2 364.2L536.9 366.8L534.7 365.3L532.5 366.8L533.2 364.2L531.2 362.6L533.8 362.5ZM535.5 364.8L536.4 367.3L539.1 367.4L537 369L537.7 371.5L535.5 370.1L533.3 371.5L534 369L532 367.4L534.6 367.3ZM536.3 357.7L537.2 360.1L539.9 360.2L537.8 361.9L538.5 364.4L536.3 363L534.1 364.4L534.8 361.9L532.8 360.2L535.4 360.1ZM537.1 364.4L538 366.9L540.7 367L538.6 368.6L539.3 371.2L537.1 369.7L534.9 371.2L535.6 368.6L533.6 367L536.2 366.9ZM537.9 355.9L538.8 358.4L541.5 358.5L539.4 360.1L540.1 362.7L537.9 361.2L535.7 362.7L536.4 360.1L534.4 358.5L537 358.4ZM538.7 355.5L539.6 358L542.3 358.1L540.2 359.8L540.9 362.3L538.7 360.8L536.5 362.3L537.2 359.8L535.2 358.1L537.8 358ZM539.5 355.8L540.4 358.3L543.1 358.4L541 360L541.7 362.6L539.5 361.1L537.3 362.6L538 360L536 358.4L538.6 358.3ZM540.3 363.8L541.2 366.3L543.9 366.4L541.8 368L542.5 370.5L540.3 369.1L538.1 370.5L538.8 368L536.8 366.4L539.4 366.3ZM541.1 355.5L542 358L544.7 358.1L542.6 359.8L543.3 362.3L541.1 360.8L538.9 362.3L539.6 359.8L537.6 358.1L540.2 358Z" fill="#800000"/>
<path d="M111 243.8L114.2 246.1L113 249.8L109 249.8L107.8 246.1ZM111.5 247.6L114.7 249.9L113.5 253.6L109.5 253.6L108.3 249.9ZM113.2 254.8L116.4 257.1L115.2 260.8L111.2 260.8L110 257.1ZM115.5 258.8L118.7 261.1L117.5 264.8L113.5 264.8L112.3 261.1ZM119 263.3L122.2 265.6L121 269.4L117 269.4L115.8 265.6ZM124.2 260.5L127.4 262.8L126.2 266.5L122.2 266.5L121 262.8ZM132.5 254.9L135.7 257.2L134.5 261L130.5 261L129.3 257.2ZM177 246.5L180.2 248.8L179 252.6L175 252.6L173.8 248.8ZM229.6 261.7L232.8 264L231.6 267.8L227.6 267.8L226.4 264ZM266.1 275.3L269.3 277.6L268.1 281.3L264.1 281.3L262.9 277.6ZM288.4 283.3L291.6 285.6L290.4 289.3L286.4 289.3L285.2 285.6ZM306.4 289L309.6 291.3L308.4 295.1L304.4 295.1L303.2 291.3ZM320.5 293.8L323.7 296.1L322.5 299.9L318.5 299.9L317.3 296.1ZM331.5 298.4L334.7 300.7L333.5 304.4L329.5 304.4L328.3 300.7ZM340.6 301.9L343.8 304.2L342.6 307.9L338.6 307.9L337.4 304.2ZM349.8 305.9L353 308.2L351.8 311.9L347.8 311.9L346.6 308.2ZM357.8 308.2L361 310.5L359.8 314.2L355.8 314.2L354.6 310.5ZM365 309.7L368.2 312L367 315.7L363 315.7L361.8 312ZM371.5 311L374.6 313.3L373.4 317L369.5 317L368.3 313.3ZM377.3 313.5L380.5 315.8L379.3 319.5L375.4 319.5L374.1 315.8ZM382.6 315.2L385.7 317.5L384.5 321.2L380.6 321.2L379.4 317.5ZM387.3 316.3L390.4 318.6L389.2 322.3L385.3 322.3L384.1 318.6ZM391.5 316.5L394.7 318.8L393.5 322.6L389.6 322.6L388.4 318.8ZM395.4 317.6L398.5 319.9L397.3 323.6L393.4 323.6L392.2 319.9ZM398.8 316.3L402 318.6L400.8 322.3L396.9 322.3L395.6 318.6ZM401.9 317.3L405.1 319.6L403.9 323.3L399.9 323.3L398.7 319.6ZM404.7 318.6L407.9 320.9L406.7 324.6L402.7 324.6L401.5 320.9ZM407.2 319.3L410.4 321.6L409.2 325.3L405.2 325.3L404 321.6ZM409.5 320.5L412.6 322.8L411.4 326.5L407.5 326.5L406.3 322.8ZM411.5 321.3L414.7 323.6L413.5 327.4L409.5 327.4L408.3 323.6ZM413.3 322L416.5 324.3L415.3 328L411.4 328L410.2 324.3ZM415 321.1L418.1 323.4L416.9 327.1L413 327.1L411.8 323.4ZM416.5 321.7L419.6 324L418.4 327.7L414.5 327.7L413.3 324ZM417.8 322.7L421 325L419.7 328.7L415.8 328.7L414.6 325ZM419 322.1L422.2 324.4L420.9 328.2L417 328.2L415.8 324.4ZM420.1 323.3L423.2 325.6L422 329.3L418.1 329.3L416.9 325.6ZM421 322.7L424.2 325L423 328.8L419.1 328.8L417.9 325ZM421.9 322.5L425.1 324.8L423.9 328.5L420 328.5L418.8 324.8ZM422.7 324.3L425.9 326.6L424.7 330.3L420.8 330.3L419.6 326.6ZM423.5 322.6L426.7 324.9L425.5 328.6L421.6 328.6L420.4 324.9ZM424.3 322.8L427.5 325.1L426.3 328.9L422.4 328.9L421.2 325.1ZM425.1 324L428.3 326.3L427.1 330L423.2 330L422 326.3ZM425.9 323.9L429.1 326.2L427.9 329.9L424 329.9L422.8 326.2ZM426.7 324.9L429.9 327.2L428.7 330.9L424.8 330.9L423.6 327.2ZM427.5 325.7L430.7 328L429.5 331.7L425.6 331.7L424.4 328ZM428.3 325L431.5 327.3L430.3 331.1L426.4 331.1L425.2 327.3ZM429.1 325.8L432.3 328.1L431.1 331.9L427.2 331.9L426 328.1ZM429.9 325.3L433.1 327.6L431.9 331.3L428 331.3L426.8 327.6ZM430.7 325.3L433.9 327.6L432.7 331.3L428.8 331.3L427.6 327.6ZM431.5 325.6L434.7 327.9L433.5 331.6L429.6 331.6L428.4 327.9ZM432.3 326L435.5 328.3L434.3 332L430.4 332L429.2 328.3ZM433.1 327.3L436.3 329.6L435.1 333.3L431.2 333.3L430 329.6ZM433.9 324.8L437.1 327.1L435.9 330.8L432 330.8L430.8 327.1ZM434.7 326.3L437.9 328.6L436.7 332.3L432.8 332.3L431.6 328.6ZM435.5 326.8L438.7 329.1L437.5 332.9L433.6 332.9L432.4 329.1ZM436.3 327.5L439.5 329.8L438.3 333.5L434.4 333.5L433.2 329.8ZM437.1 328L440.3 330.3L439.1 334L435.2 334L434 330.3ZM437.9 329.1L441.1 331.4L439.9 335.1L436 335.1L434.8 331.4ZM438.7 329.4L441.9 331.7L440.7 335.4L436.8 335.4L435.6 331.7ZM439.5 328.8L442.7 331.1L441.5 334.8L437.6 334.8L436.4 331.1ZM440.3 329.2L443.5 331.5L442.3 335.3L438.4 335.3L437.2 331.5ZM441.1 327.7L444.3 330L443.1 333.8L439.2 333.8L438 330ZM441.9 328.1L445.1 330.4L443.9 334.1L440 334.1L438.8 330.4ZM442.7 329.7L445.9 332L444.7 335.7L440.8 335.7L439.6 332ZM443.5 329.6L446.7 331.9L445.5 335.6L441.6 335.6L440.4 331.9ZM444.3 329.5L447.5 331.8L446.3 335.6L442.4 335.6L441.2 331.8ZM445.1 330.5L448.3 332.8L447.1 336.5L443.2 336.5L442 332.8ZM445.9 331.1L449.1 333.4L447.9 337.1L444 337.1L442.8 333.4ZM446.7 330.2L449.9 332.5L448.7 336.2L444.8 336.2L443.6 332.5ZM447.5 331.4L450.7 333.7L449.5 337.4L445.6 337.4L444.4 333.7ZM448.3 331.6L451.5 333.9L450.3 337.6L446.4 337.6L445.2 333.9ZM449.1 332L452.3 334.3L451.1 338.1L447.2 338.1L446 334.3ZM449.9 331.6L453.1 333.9L451.9 337.6L448 337.6L446.8 333.9ZM450.7 331.8L453.9 334.1L452.7 337.8L448.8 337.8L447.6 334.1ZM451.5 332.5L454.7 334.8L453.5 338.5L449.6 338.5L448.4 334.8ZM452.3 333.2L455.5 335.5L454.3 339.3L450.4 339.3L449.2 335.5ZM453.1 333.8L456.3 336.1L455.1 339.8L451.2 339.8L450 336.1ZM453.9 334.7L457.1 337L455.9 340.7L452 340.7L450.8 337ZM454.7 334.6L457.9 336.9L456.7 340.6L452.8 340.6L451.6 336.9ZM455.5 334.9L458.7 337.2L457.5 341L453.6 341L452.4 337.2ZM456.3 334.8L459.5 337.1L458.3 340.8L454.4 340.8L453.2 337.1ZM457.1 335.1L460.3 337.4L459.1 341.1L455.2 341.1L454 337.4ZM457.9 335.9L461.1 338.2L459.9 342L456 342L454.8 338.2ZM458.7 337L461.9 339.3L460.7 343L456.8 343L455.6 339.3ZM459.5 336.2L462.7 338.5L461.5 342.3L457.6 342.3L456.4 338.5ZM460.3 336.9L463.5 339.2L462.3 342.9L458.4 342.9L457.2 339.2ZM461.1 336.5L464.3 338.8L463.1 342.5L459.2 342.5L458 338.8ZM461.9 336.2L465.1 338.5L463.9 342.2L460 342.2L458.8 338.5ZM462.7 337L465.9 339.3L464.7 343L460.8 343L459.6 339.3ZM463.5 337.4L466.7 339.7L465.5 343.4L461.6 343.4L460.4 339.7ZM464.3 337.5L467.5 339.8L466.3 343.5L462.4 343.5L461.2 339.8ZM465.1 337.3L468.3 339.6L467.1 343.3L463.2 343.3L462 339.6ZM465.9 339.3L469.1 341.6L467.9 345.3L464 345.3L462.8 341.6ZM466.7 338.7L469.9 341L468.7 344.7L464.8 344.7L463.6 341ZM467.5 338.6L470.7 340.9L469.5 344.6L465.6 344.6L464.4 340.9ZM468.3 337.1L471.5 339.4L470.3 343.1L466.4 343.1L465.2 339.4ZM469.1 337.8L472.3 340.1L471.1 343.9L467.2 343.9L466 340.1ZM469.9 339.2L473.1 341.5L471.9 345.2L468 345.2L466.8 341.5ZM470.7 340.3L473.9 342.6L472.7 346.3L468.8 346.3L467.6 342.6ZM471.5 338.7L474.7 341L473.5 344.7L469.6 344.7L468.4 341ZM472.3 339.5L475.5 341.8L474.3 345.5L470.4 345.5L469.2 341.8ZM473.1 338.9L476.3 341.2L475.1 344.9L471.2 344.9L470 341.2ZM473.9 340.4L477.1 342.7L475.9 346.4L472 346.4L470.8 342.7ZM474.7 340.9L477.9 343.2L476.7 346.9L472.8 346.9L471.6 343.2ZM475.5 342.4L478.7 344.7L477.5 348.4L473.6 348.4L472.4 344.7ZM476.3 341.9L479.5 344.2L478.3 347.9L474.4 347.9L473.2 344.2ZM477.1 342.5L480.3 344.8L479.1 348.5L475.2 348.5L474 344.8ZM477.9 343.3L481.1 345.6L479.9 349.3L476 349.3L474.8 345.6ZM478.7 343.1L481.9 345.4L480.7 349.1L476.8 349.1L475.6 345.4ZM479.5 344.2L482.7 346.5L481.5 350.2L477.6 350.2L476.4 346.5ZM480.3 344.9L483.5 347.2L482.3 350.9L478.4 350.9L477.2 347.2ZM481.1 345.2L484.3 347.5L483.1 351.2L479.2 351.2L478 347.5ZM481.9 345.2L485.1 347.5L483.9 351.2L480 351.2L478.8 347.5ZM482.7 343.2L485.9 345.5L484.7 349.2L480.8 349.2L479.6 345.5ZM483.5 344L486.7 346.3L485.5 350.1L481.6 350.1L480.4 346.3ZM484.3 343.4L487.5 345.7L486.3 349.4L482.4 349.4L481.2 345.7ZM485.1 345.5L488.3 347.8L487.1 351.6L483.2 351.6L482 347.8ZM485.9 345.7L489.1 348L487.9 351.7L484 351.7L482.8 348ZM486.7 345.6L489.9 347.9L488.7 351.6L484.8 351.6L483.6 347.9ZM487.5 347.4L490.7 349.7L489.5 353.4L485.6 353.4L484.4 349.7ZM488.3 350.2L491.5 352.5L490.3 356.2L486.4 356.2L485.2 352.5ZM489.1 349.3L492.3 351.6L491.1 355.4L487.2 355.4L486 351.6ZM489.9 343.3L493.1 345.6L491.9 349.3L488 349.3L486.8 345.6ZM490.7 350.3L493.9 352.6L492.7 356.3L488.8 356.3L487.6 352.6ZM491.5 352.1L494.7 354.4L493.5 358.1L489.6 358.1L488.4 354.4ZM492.3 347.6L495.5 349.9L494.3 353.6L490.4 353.6L489.2 349.9ZM493.1 351.2L496.3 353.5L495.1 357.2L491.2 357.2L490 353.5ZM493.9 350.1L497.1 352.4L495.9 356.1L492 356.1L490.8 352.4ZM494.7 349.5L497.9 351.8L496.7 355.5L492.8 355.5L491.6 351.8ZM495.5 346.3L498.7 348.6L497.5 352.3L493.6 352.3L492.4 348.6ZM496.3 351.2L499.5 353.5L498.3 357.2L494.4 357.2L493.2 353.5ZM497.1 353.9L500.3 356.2L499.1 359.9L495.2 359.9L494 356.2ZM497.9 354.1L501.1 356.4L499.9 360.2L496 360.2L494.8 356.4ZM498.7 356L501.9 358.3L500.7 362L496.8 362L495.6 358.3ZM499.5 354.3L502.7 356.6L501.5 360.3L497.6 360.3L496.4 356.6ZM500.3 359L503.5 361.3L502.3 365L498.4 365L497.2 361.3ZM501.1 354.5L504.3 356.8L503.1 360.5L499.2 360.5L498 356.8ZM501.9 349.7L505.1 352L503.9 355.7L500 355.7L498.8 352ZM502.7 349.5L505.9 351.8L504.7 355.6L500.8 355.6L499.6 351.8ZM503.5 358.3L506.7 360.6L505.5 364.4L501.6 364.4L500.4 360.6ZM504.3 358.2L507.5 360.5L506.3 364.2L502.4 364.2L501.2 360.5ZM505.1 354.6L508.3 356.9L507.1 360.6L503.2 360.6L502 356.9ZM505.9 354.3L509.1 356.6L507.9 360.4L504 360.4L502.8 356.6ZM506.7 357.2L509.9 359.5L508.7 363.3L504.8 363.3L503.6 359.5ZM507.5 352.8L510.7 355.1L509.5 358.8L505.6 358.8L504.4 355.1ZM508.3 353.4L511.5 355.7L510.3 359.4L506.4 359.4L505.2 355.7ZM509.1 356L512.3 358.3L511.1 362.1L507.2 362.1L506 358.3ZM509.9 357.2L513.1 359.5L511.9 363.2L508 363.2L506.8 359.5ZM510.7 356.4L513.9 358.7L512.7 362.5L508.8 362.5L507.6 358.7ZM511.5 355.2L514.7 357.5L513.5 361.2L509.6 361.2L508.4 357.5ZM512.3 354L515.5 356.3L514.3 360L510.4 360L509.2 356.3ZM513.1 355L516.3 357.3L515.1 361L511.2 361L510 357.3ZM513.9 355.6L517.1 357.9L515.9 361.6L512 361.6L510.8 357.9ZM514.7 358.1L517.9 360.4L516.7 364.1L512.8 364.1L511.6 360.4ZM515.5 355.9L518.7 358.2L517.5 362L513.6 362L512.4 358.2ZM516.3 359.7L519.5 362L518.3 365.7L514.4 365.7L513.2 362ZM517.1 352.4L520.3 354.7L519.1 358.4L515.2 358.4L514 354.7ZM517.9 355.4L521.1 357.7L519.9 361.4L516 361.4L514.8 357.7ZM518.7 352.6L521.9 354.9L520.7 358.6L516.8 358.6L515.6 354.9ZM519.5 358.5L522.7 360.8L521.5 364.5L517.6 364.5L516.4 360.8ZM520.3 354L523.5 356.3L522.3 360.1L518.4 360.1L517.2 356.3ZM521.1 358.2L524.3 360.5L523.1 364.3L519.2 364.3L518 360.5ZM521.9 360L525.1 362.3L523.9 366L520 366L518.8 362.3ZM522.7 360.9L525.9 363.2L524.7 367L520.8 367L519.6 363.2ZM523.5 356.2L526.7 358.5L525.5 362.2L521.6 362.2L520.4 358.5ZM524.3 358.7L527.5 361L526.3 364.7L522.4 364.7L521.2 361ZM525.1 356.5L528.3 358.8L527.1 362.6L523.2 362.6L522 358.8ZM525.9 358.7L529.1 361L527.9 364.8L524 364.8L522.8 361ZM526.7 355.9L529.9 358.2L528.7 361.9L524.8 361.9L523.6 358.2ZM527.5 357L530.7 359.3L529.5 363L525.6 363L524.4 359.3ZM528.3 359.3L531.5 361.6L530.3 365.3L526.4 365.3L525.2 361.6ZM529.1 358.3L532.3 360.6L531.1 364.3L527.2 364.3L526 360.6ZM529.9 360.6L533.1 362.9L531.9 366.7L528 366.7L526.8 362.9ZM530.7 359.7L533.9 362L532.7 365.7L528.8 365.7L527.6 362ZM531.5 363.8L534.7 366.1L533.5 369.8L529.6 369.8L528.4 366.1ZM532.3 365.9L535.5 368.2L534.3 371.9L530.4 371.9L529.2 368.2ZM533.1 357.1L536.3 359.4L535.1 363.1L531.2 363.1L530 359.4ZM533.9 364.1L537.1 366.4L535.9 370.1L532 370.1L530.8 366.4ZM534.7 360.4L537.9 362.7L536.7 366.4L532.8 366.4L531.6 362.7ZM535.5 365.2L538.7 367.5L537.5 371.2L533.6 371.2L532.4 367.5ZM536.3 358.1L539.5 360.4L538.3 364.1L534.4 364.1L533.2 360.4ZM537.1 364.8L540.3 367.1L539.1 370.9L535.2 370.9L534 367.1ZM537.9 356.3L541.1 358.6L539.9 362.4L536 362.4L534.8 358.6ZM538.7 356L541.9 358.3L540.7 362L536.8 362L535.6 358.3ZM539.5 356.2L542.7 358.5L541.5 362.2L537.6 362.2L536.4 358.5ZM540.3 364.2L543.5 366.5L542.3 370.2L538.4 370.2L537.2 366.5ZM541.1 355.9L544.3 358.2L543.1 362L539.2 362L538 358.2Z" fill="#808000"/>
<path d="M108.1 233.3a2.9 2.9 0 1 0 5.8 0a2.9 2.9 0 1 0 -5.8 0ZM108.6 240.5a2.9 2.9 0 1 0 5.8 0a2.9 2.9 0 1 0 -5.8 0ZM110.3 249.6a2.9 2.9 0 1 0 5.8 0a2.9 2.9 0 1 0 -5.8 0ZM112.6 254.8a2.9 2.9 0 1 0 5.8 0a2.9 2.9 0 1 0 -5.8 0ZM116.1 260.2a2.9 2.9 0 1 0 5.8 0a2.9 2.9 0 1 0 -5.8 0ZM121.3 258.1a2.9 2.9 0 1 0 5.8 0a2.9 2.9 0 1 0 -5.8 0ZM129.6 253.2a2.9 2.9 0 1 0 5.8 0a2.9 2.9 0 1 0 -5.8 0ZM174.1 247.2a2.9 2.9 0 1 0 5.8 0a2.9 2.9 0 1 0 -5.8 0ZM226.7 263.2a2.9 2.9 0 1 0 5.8 0a2.9 2.9 0 1 0 -5.8 0ZM263.2 277a2.9 2.9 0 1 0 5.8 0a2.9 2.9 0 1 0 -5.8 0ZM285.5 285.3a2.9 2.9 0 1 0 5.8 0a2.9 2.9 0 1 0 -5.8 0ZM303.5 291.2a2.9 2.9 0 1 0 5.8 0a2.9 2.9 0 1 0 -5.8 0ZM317.6 296.1a2.9 2.9 0 1 0 5.8 0a2.9 2.9 0 1 0 -5.8 0ZM328.6 300.9a2.9 2.9 0 1 0 5.8 0a2.9 2.9 0 1 0 -5.8 0ZM337.7 304.5a2.9 2.9 0 1 0 5.8 0a2.9 2.9 0 1 0 -5.8 0ZM346.9 308.6a2.9 2.9 0 1 0 5.8 0a2.9 2.9 0 1 0 -5.8 0ZM354.9 311a2.9 2.9 0 1 0 5.8 0a2.9 2.9 0 1 0 -5.8 0ZM362.1 312.5a2.9 2.9 0 1 0 5.8 0a2.9 2.9 0 1 0 -5.8 0ZM368.6 313.9a2.9 2.9 0 1 0 5.8 0a2.9 2.9 0 1 0 -5.8 0ZM374.4 316.4a2.9 2.9 0 1 0 5.8 0a2.9 2.9 0 1 0 -5.8 0ZM379.6 318.1a2.9 2.9 0 1 0 5.8 0a2.9 2.9 0 1 0 -5.8 0ZM384.4 319.3a2.9 2.9 0 1 0 5.8 0a2.9 2.9 0 1 0 -5.8 0ZM388.6 319.6a2.9 2.9 0 1 0 5.8 0a2.9 2.9 0 1 0 -5.8 0ZM392.5 320.6a2.9 2.9 0 1 0 5.8 0a2.9 2.9 0 1 0 -5.8 0ZM395.9 319.3a2.9 2.9 0 1 0 5.8 0a2.9 2.9 0 1 0 -5.8 0ZM399 320.4a2.9 2.9 0 1 0 5.8 0a2.9 2.9 0 1 0 -5.8 0ZM401.8 321.7a2.9 2.9 0 1 0 5.8 0a2.9 2.9 0 1 0 -5.8 0ZM404.3 322.4a2.9 2.9 0 1 0 5.8 0a2.9 2.9 0 1 0 -5.8 0ZM406.6 323.7a2.9 2.9 0 1 0 5.8 0a2.9 2.9 0 1 0 -5.8 0ZM408.6 324.5a2.9 2.9 0 1 0 5.8 0a2.9 2.9 0 1 0 -5.8 0ZM410.4 325.1a2.9 2.9 0 1 0 5.8 0a2.9 2.9 0 1 0 -5.8 0ZM412.1 324.2a2.9 2.9 0 1 0 5.8 0a2.9 2.9 0 1 0 -5.8 0ZM413.5 324.8a2.9 2.9 0 1 0 5.8 0a2.9 2.9 0 1 0 -5.8 0ZM414.9 325.8a2.9 2.9 0 1 0 5.8 0a2.9 2.9 0 1 0 -5.8 0ZM416.1 325.3a2.9 2.9 0 1 0 5.8 0a2.9 2.9 0 1 0 -5.8 0ZM417.2 326.5a2.9 2.9 0 1 0 5.8 0a2.9 2.9 0 1 0 -5.8 0ZM418.1 325.9a2.9 2.9 0 1 0 5.8 0a2.9 2.9 0 1 0 -5.8 0ZM419 325.7a2.9 2.9 0 1 0 5.8 0a2.9 2.9 0 1 0 -5.8 0ZM419.8 327.4a2.9 2.9 0 1 0 5.8 0a2.9 2.9 0 1 0 -5.8 0ZM420.6 325.8a2.9 2.9 0 1 0 5.8 0a2.9 2.9 0 1 0 -5.8 0ZM421.4 326a2.9 2.9 0 1 0 5.8 0a2.9 2.9 0 1 0 -5.8 0ZM422.2 327.1a2.9 2.9 0 1 0 5.8 0a2.9 2.9 0 1 0 -5.8 0ZM423 327.1a2.9 2.9 0 1 0 5.8 0a2.9 2.9 0 1 0 -5.8 0ZM423.8 328a2.9 2.9 0 1 0 5.8 0a2.9 2.9 0 1 0 -5.8 0ZM424.6 328.9a2.9 2.9 0 1 0 5.8 0a2.9 2.9 0 1 0 -5.8 0ZM425.4 328.2a2.9 2.9 0 1 0 5.8 0a2.9 2.9 0 1 0 -5.8 0ZM426.2 329a2.9 2.9 0 1 0 5.8 0a2.9 2.9 0 1 0 -5.8 0ZM427 328.5a2.9 2.9 0 1 0 5.8 0a2.9 2.9 0 1 0 -5.8 0ZM427.8 328.5a2.9 2.9 0 1 0 5.8 0a2.9 2.9 0 1 0 -5.8 0ZM428.6 328.8a2.9 2.9 0 1 0 5.8 0a2.9 2.9 0 1 0 -5.8 0ZM429.4 329.2a2.9 2.9 0 1 0 5.8 0a2.9 2.9 0 1 0 -5.8 0ZM430.2 330.5a2.9 2.9 0 1 0 5.8 0a2.9 2.9 0 1 0 -5.8 0ZM431 328a2.9 2.9 0 1 0 5.8 0a2.9 2.9 0 1 0 -5.8 0ZM431.8 329.5a2.9 2.9 0 1 0 5.8 0a2.9 2.9 0 1 0 -5.8 0ZM432.6 330.1a2.9 2.9 0 1 0 5.8 0a2.9 2.9 0 1 0 -5.8 0ZM433.4 330.7a2.9 2.9 0 1 0 5.8 0a2.9 2.9 0 1 0 -5.8 0ZM434.2 331.2a2.9 2.9 0 1 0 5.8 0a2.9 2.9 0 1 0 -5.8 0ZM435 332.4a2.9 2.9 0 1 0 5.8 0a2.9 2.9 0 1 0 -5.8 0ZM435.8 332.6a2.9 2.9 0 1 0 5.8 0a2.9 2.9 0 1 0 -5.8 0ZM436.6 332a2.9 2.9 0 1 0 5.8 0a2.9 2.9 0 1 0 -5.8 0ZM437.4 332.5a2.9 2.9 0 1 0 5.8 0a2.9 2.9 0 1 0 -5.8 0ZM438.2 331a2.9 2.9 0 1 0 5.8 0a2.9 2.9 0 1 0 -5.8 0ZM439 331.3a2.9 2.9 0 1 0 5.8 0a2.9 2.9 0 1 0 -5.8 0ZM439.8 332.9a2.9 2.9 0 1 0 5.8 0a2.9 2.9 0 1 0 -5.8 0ZM440.6 332.9a2.9 2.9 0 1 0 5.8 0a2.9 2.9 0 1 0 -5.8 0ZM441.4 332.8a2.9 2.9 0 1 0 5.8 0a2.9 2.9 0 1 0 -5.8 0ZM442.2 333.7a2.9 2.9 0 1 0 5.8 0a2.9 2.9 0 1 0 -5.8 0ZM443 334.3a2.9 2.9 0 1 0 5.8 0a2.9 2.9 0 1 0 -5.8 0ZM443.8 333.5a2.9 2.9 0 1 0 5.8 0a2.9 2.9 0 1 0 -5.8 0ZM444.6 334.6a2.9 2.9 0 1 0 5.8 0a2.9 2.9 0 1 0 -5.8 0ZM445.4 334.8a2.9 2.9 0 1 0 5.8 0a2.9 2.9 0 1 0 -5.8 0ZM446.2 335.3a2.9 2.9 0 1 0 5.8 0a2.9 2.9 0 1 0 -5.8 0ZM447 334.8a2.9 2.9 0 1 0 5.8 0a2.9 2.9 0 1 0 -5.8 0ZM447.8 335a2.9 2.9 0 1 0 5.8 0a2.9 2.9 0 1 0 -5.8 0ZM448.6 335.8a2.9 2.9 0 1 0 5.8 0a2.9 2.9 0 1 0 -5.8 0ZM449.4 336.5a2.9 2.9 0 1 0 5.8 0a2.9 2.9 0 1 0 -5.8 0ZM450.2 337a2.9 2.9 0 1 0 5.8 0a2.9 2.9 0 1 0 -5.8 0ZM451 337.9a2.9 2.9 0 1 0 5.8 0a2.9 2.9 0 1 0 -5.8 0ZM451.8 337.8a2.9 2.9 0 1 0 5.8 0a2.9 2.9 0 1 0 -5.8 0ZM452.6 338.2a2.9 2.9 0 1 0 5.8 0a2.9 2.9 0 1 0 -5.8 0ZM453.4 338a2.9 2.9 0 1 0 5.8 0a2.9 2.9 0 1 0 -5.8 0ZM454.2 338.4a2.9 2.9 0 1 0 5.8 0a2.9 2.9 0 1 0 -5.8 0ZM455 339.2a2.9 2.9 0 1 0 5.8 0a2.9 2.9 0 1 0 -5.8 0ZM455.8 340.3a2.9 2.9 0 1 0 5.8 0a2.9 2.9 0 1 0 -5.8 0ZM456.6 339.5a2.9 2.9 0 1 0 5.8 0a2.9 2.9 0 1 0 -5.8 0ZM457.4 340.2a2.9 2.9 0 1 0 5.8 0a2.9 2.9 0 1 0 -5.8 0ZM458.2 339.8a2.9 2.9 0 1 0 5.8 0a2.9 2.9 0 1 0 -5.8 0ZM459 339.5a2.9 2.9 0 1 0 5.8 0a2.9 2.9 0 1 0 -5.8 0ZM459.8 340.2a2.9 2.9 0 1 0 5.8 0a2.9 2.9 0 1 0 -5.8 0ZM460.6 340.6a2.9 2.9 0 1 0 5.8 0a2.9 2.9 0 1 0 -5.8 0ZM461.4 340.8a2.9 2.9 0 1 0 5.8 0a2.9 2.9 0 1 0 -5.8 0ZM462.2 340.6a2.9 2.9 0 1 0 5.8 0a2.9 2.9 0 1 0 -5.8 0ZM463 342.6a2.9 2.9 0 1 0 5.8 0a2.9 2.9 0 1 0 -5.8 0ZM463.8 341.9a2.9 2.9 0 1 0 5.8 0a2.9 2.9 0 1 0 -5.8 0ZM464.6 341.9a2.9 2.9 0 1 0 5.8 0a2.9 2.9 0 1 0 -5.8 0ZM465.4 340.3a2.9 2.9 0 1 0 5.8 0a2.9 2.9 0 1 0 -5.8 0ZM466.2 341.1a2.9 2.9 0 1 0 5.8 0a2.9 2.9 0 1 0 -5.8 0ZM467 342.5a2.9 2.9 0 1 0 5.8 0a2.9 2.9 0 1 0 -5.8 0ZM467.8 343.6a2.9 2.9 0 1 0 5.8 0a2.9 2.9 0 1 0 -5.8 0ZM468.6 342a2.9 2.9 0 1 0 5.8 0a2.9 2.9 0 1 0 -5.8 0ZM469.4 342.7a2.9 2.9 0 1 0 5.8 0a2.9 2.9 0 1 0 -5.8 0ZM470.2 342.2a2.9 2.9 0 1 0 5.8 0a2.9 2.9 0 1 0 -5.8 0ZM471 343.7a2.9 2.9 0 1 0 5.8 0a2.9 2.9 0 1 0 -5.8 0ZM471.8 344.2a2.9 2.9 0 1 0 5.8 0a2.9 2.9 0 1 0 -5.8 0ZM472.6 345.7a2.9 2.9 0 1 0 5.8 0a2.9 2.9 0 1 0 -5.8 0ZM473.4 345.2a2.9 2.9 0 1 0 5.8 0a2.9 2.9 0 1 0 -5.8 0ZM474.2 345.8a2.9 2.9 0 1 0 5.8 0a2.9 2.9 0 1 0 -5.8 0ZM475 346.6a2.9 2.9 0 1 0 5.8 0a2.9 2.9 0 1 0 -5.8 0ZM475.8 346.4a2.9 2.9 0 1 0 5.8 0a2.9 2.9 0 1 0 -5.8 0ZM476.6 347.5a2.9 2.9 0 1 0 5.8 0a2.9 2.9 0 1 0 -5.8 0ZM477.4 348.2a2.9 2.9 0 1 0 5.8 0a2.9 2.9 0 1 0 -5.8 0ZM478.2 348.5a2.9 2.9 0 1 0 5.8 0a2.9 2.9 0 1 0 -5.8 0ZM479 348.5a2.9 2.9 0 1 0 5.8 0a2.9 2.9 0 1 0 -5.8 0ZM479.8 346.5a2.9 2.9 0 1 0 5.8 0a2.9 2.9 0 1 0 -5.8 0ZM480.6 347.3a2.9 2.9 0 1 0 5.8 0a2.9 2.9 0 1 0 -5.8 0ZM481.4 346.7a2.9 2.9 0 1 0 5.8 0a2.9 2.9 0 1 0 -5.8 0ZM482.2 348.8a2.9 2.9 0 1 0 5.8 0a2.9 2.9 0 1 0 -5.8 0ZM483 349a2.9 2.9 0 1 0 5.8 0a2.9 2.9 0 1 0 -5.8 0ZM483.8 348.9a2.9 2.9 0 1 0 5.8 0a2.9 2.9 0 1 0 -5.8 0ZM484.6 350.7a2.9 2.9 0 1 0 5.8 0a2.9 2.9 0 1 0 -5.8 0ZM485.4 353.5a2.9 2.9 0 1 0 5.8 0a2.9 2.9 0 1 0 -5.8 0ZM486.2 352.7a2.9 2.9 0 1 0 5.8 0a2.9 2.9 0 1 0 -5.8 0ZM487 346.6a2.9 2.9 0 1 0 5.8 0a2.9 2.9 0 1 0 -5.8 0ZM487.8 353.6a2.9 2.9 0 1 0 5.8 0a2.9 2.9 0 1 0 -5.8 0ZM488.6 355.4a2.9 2.9 0 1 0 5.8 0a2.9 2.9 0 1 0 -5.8 0ZM489.4 350.9a2.9 2.9 0 1 0 5.8 0a2.9 2.9 0 1 0 -5.8 0ZM490.2 354.5a2.9 2.9 0 1 0 5.8 0a2.9 2.9 0 1 0 -5.8 0ZM491 353.4a2.9 2.9 0 1 0 5.8 0a2.9 2.9 0 1 0 -5.8 0ZM491.8 352.8a2.9 2.9 0 1 0 5.8 0a2.9 2.9 0 1 0 -5.8 0ZM492.6 349.6a2.9 2.9 0 1 0 5.8 0a2.9 2.9 0 1 0 -5.8 0ZM493.4 354.6a2.9 2.9 0 1 0 5.8 0a2.9 2.9 0 1 0 -5.8 0ZM494.2 357.2a2.9 2.9 0 1 0 5.8 0a2.9 2.9 0 1 0 -5.8 0ZM495 357.5a2.9 2.9 0 1 0 5.8 0a2.9 2.9 0 1 0 -5.8 0ZM495.8 359.3a2.9 2.9 0 1 0 5.8 0a2.9 2.9 0 1 0 -5.8 0ZM496.6 357.7a2.9 2.9 0 1 0 5.8 0a2.9 2.9 0 1 0 -5.8 0ZM497.4 362.3a2.9 2.9 0 1 0 5.8 0a2.9 2.9 0 1 0 -5.8 0ZM498.2 357.8a2.9 2.9 0 1 0 5.8 0a2.9 2.9 0 1 0 -5.8 0ZM499 353a2.9 2.9 0 1 0 5.8 0a2.9 2.9 0 1 0 -5.8 0ZM499.8 352.9a2.9 2.9 0 1 0 5.8 0a2.9 2.9 0 1 0 -5.8 0ZM500.6 361.7a2.9 2.9 0 1 0 5.8 0a2.9 2.9 0 1 0 -5.8 0ZM501.4 361.5a2.9 2.9 0 1 0 5.8 0a2.9 2.9 0 1 0 -5.8 0ZM502.2 357.9a2.9 2.9 0 1 0 5.8 0a2.9 2.9 0 1 0 -5.8 0ZM503 357.7a2.9 2.9 0 1 0 5.8 0a2.9 2.9 0 1 0 -5.8 0ZM503.8 360.6a2.9 2.9 0 1 0 5.8 0a2.9 2.9 0 1 0 -5.8 0ZM504.6 356.1a2.9 2.9 0 1 0 5.8 0a2.9 2.9 0 1 0 -5.8 0ZM505.4 356.7a2.9 2.9 0 1 0 5.8 0a2.9 2.9 0 1 0 -5.8 0ZM506.2 359.4a2.9 2.9 0 1 0 5.8 0a2.9 2.9 0 1 0 -5.8 0ZM507 360.5a2.9 2.9 0 1 0 5.8 0a2.9 2.9 0 1 0 -5.8 0ZM507.8 359.8a2.9 2.9 0 1 0 5.8 0a2.9 2.9 0 1 0 -5.8 0ZM508.6 358.5a2.9 2.9 0 1 0 5.8 0a2.9 2.9 0 1 0 -5.8 0ZM509.4 357.3a2.9 2.9 0 1 0 5.8 0a2.9 2.9 0 1 0 -5.8 0ZM510.2 358.3a2.9 2.9 0 1 0 5.8 0a2.9 2.9 0 1 0 -5.8 0ZM511 358.9a2.9 2.9 0 1 0 5.8 0a2.9 2.9 0 1 0 -5.8 0ZM511.8 361.4a2.9 2.9 0 1 0 5.8 0a2.9 2.9 0 1 0 -5.8 0ZM512.6 359.3a2.9 2.9 0 1 0 5.8 0a2.9 2.9 0 1 0 -5.8 0ZM513.4 363a2.9 2.9 0 1 0 5.8 0a2.9 2.9 0 1 0 -5.8 0ZM514.2 355.7a2.9 2.9 0 1 0 5.8 0a2.9 2.9 0 1 0 -5.8 0ZM515 358.7a2.9 2.9 0 1 0 5.8 0a2.9 2.9 0 1 0 -5.8 0ZM515.8 355.9a2.9 2.9 0 1 0 5.8 0a2.9 2.9 0 1 0 -5.8 0ZM516.6 361.8a2.9 2.9 0 1 0 5.8 0a2.9 2.9 0 1 0 -5.8 0ZM517.4 357.4a2.9 2.9 0 1 0 5.8 0a2.9 2.9 0 1 0 -5.8 0ZM518.2 361.6a2.9 2.9 0 1 0 5.8 0a2.9 2.9 0 1 0 -5.8 0ZM519 363.4a2.9 2.9 0 1 0 5.8 0a2.9 2.9 0 1 0 -5.8 0ZM519.8 364.3a2.9 2.9 0 1 0 5.8 0a2.9 2.9 0 1 0 -5.8 0ZM520.6 359.6a2.9 2.9 0 1 0 5.8 0a2.9 2.9 0 1 0 -5.8 0ZM521.4 362a2.9 2.9 0 1 0 5.8 0a2.9 2.9 0 1 0 -5.8 0ZM522.2 359.9a2.9 2.9 0 1 0 5.8 0a2.9 2.9 0 1 0 -5.8 0ZM523 362.1a2.9 2.9 0 1 0 5.8 0a2.9 2.9 0 1 0 -5.8 0ZM523.8 359.2a2.9 2.9 0 1 0 5.8 0a2.9 2.9 0 1 0 -5.8 0ZM524.6 360.4a2.9 2.9 0 1 0 5.8 0a2.9 2.9 0 1 0 -5.8 0ZM525.4 362.6a2.9 2.9 0 1 0 5.8 0a2.9 2.9 0 1 0 -5.8 0ZM526.2 361.6a2.9 2.9 0 1 0 5.8 0a2.9 2.9 0 1 0 -5.8 0ZM527 364a2.9 2.9 0 1 0 5.8 0a2.9 2.9 0 1 0 -5.8 0ZM527.8 363a2.9 2.9 0 1 0 5.8 0a2.9 2.9 0 1 0 -5.8 0ZM528.6 367.1a2.9 2.9 0 1 0 5.8 0a2.9 2.9 0 1 0 -5.8 0ZM529.4 369.2a2.9 2.9 0 1 0 5.8 0a2.9 2.9 0 1 0 -5.8 0ZM530.2 360.5a2.9 2.9 0 1 0 5.8 0a2.9 2.9 0 1 0 -5.8 0ZM531 367.4a2.9 2.9 0 1 0 5.8 0a2.9 2.9 0 1 0 -5.8 0ZM531.8 363.8a2.9 2.9 0 1 0 5.8 0a2.9 2.9 0 1 0 -5.8 0ZM532.6 368.5a2.9 2.9 0 1 0 5.8 0a2.9 2.9 0 1 0 -5.8 0ZM533.4 361.4a2.9 2.9 0 1 0 5.8 0a2.9 2.9 0 1 0 -5.8 0ZM534.2 368.2a2.9 2.9 0 1 0 5.8 0a2.9 2.9 0 1 0 -5.8 0ZM535 359.7a2.9 2.9 0 1 0 5.8 0a2.9 2.9 0 1 0 -5.8 0ZM535.8 359.3a2.9 2.9 0 1 0 5.8 0a2.9 2.9 0 1 0 -5.8 0ZM536.6 359.6a2.9 2.9 0 1 0 5.8 0a2.9 2.9 0 1 0 -5.8 0ZM537.4 367.5a2.9 2.9 0 1 0 5.8 0a2.9 2.9 0 1 0 -5.8 0ZM538.2 359.3a2.9 2.9 0 1 0 5.8 0a2.9 2.9 0 1 0 -5.8 0Z" fill="#2a6ab8"/>
<path d="M107.7 219.5h6.7M111 216.1v6.7M108.2 230.1h6.7M111.5 226.7v6.7M109.9 241.1h6.7M113.2 237.7v6.7M112.2 247.4h6.7M115.5 244v6.7M115.7 253.8h6.7M119 250.5v6.7M120.9 252.4h6.7M124.2 249.1v6.7M129.2 248.2h6.7M132.5 244.9v6.7M173.7 244.4h6.7M177 241.1v6.7M226.3 261.3h6.7M229.6 258v6.7M262.8 275.5h6.7M266.1 272.2v6.7M285.1 283.9h6.7M288.4 280.6v6.7M303.1 290.1h6.7M306.4 286.8v6.7M317.2 295h6.7M320.5 291.7v6.7M328.2 300h6.7M331.5 296.6v6.7M337.3 303.8h6.7M340.6 300.5v6.7M346.5 308.1h6.7M349.8 304.7v6.7M354.5 310.5h6.7M357.8 307.2v6.7M361.7 312h6.7M365 308.7v6.7M368.2 313.5h6.7M371.5 310.1v6.7M374 316h6.7M377.3 312.7v6.7M379.2 317.8h6.7M382.6 314.5v6.7M384 319h6.7M387.3 315.7v6.7M388.2 319.3h6.7M391.5 316v6.7M392 320.3h6.7M395.4 317v6.7M395.5 319.1h6.7M398.8 315.7v6.7M398.6 320.1h6.7M401.9 316.8v6.7M401.4 321.5h6.7M404.7 318.1v6.7M403.9 322.2h6.7M407.2 318.9v6.7M406.1 323.5h6.7M409.5 320.1v6.7M408.2 324.3h6.7M411.5 321v6.7M410 324.9h6.7M413.3 321.6v6.7M411.6 324.1h6.7M415 320.7v6.7M413.1 324.7h6.7M416.5 321.3v6.7M414.5 325.7h6.7M417.8 322.3v6.7M415.7 325.1h6.7M419 321.8v6.7M416.7 326.3h6.7M420.1 323v6.7M417.7 325.7h6.7M421 322.4v6.7M418.6 325.5h6.7M421.9 322.2v6.7M419.4 327.3h6.7M422.7 323.9v6.7M420.2 325.6h6.7M423.5 322.3v6.7M421 325.9h6.7M424.3 322.5v6.7M421.8 327h6.7M425.1 323.7v6.7M422.6 327h6.7M425.9 323.6v6.7M423.4 327.9h6.7M426.7 324.6v6.7M424.2 328.8h6.7M427.5 325.4v6.7M425 328.1h6.7M428.3 324.8v6.7M425.8 328.9h6.7M429.1 325.6v6.7M426.6 328.4h6.7M429.9 325.1v6.7M427.4 328.4h6.7M430.7 325.1v6.7M428.2 328.7h6.7M431.5 325.3v6.7M429 329.1h6.7M432.3 325.8v6.7M429.8 330.4h6.7M433.1 327.1v6.7M430.6 327.9h6.7M433.9 324.6v6.7M431.4 329.4h6.7M434.7 326.1v6.7M432.2 330h6.7M435.5 326.6v6.7M433 330.6h6.7M436.3 327.3v6.7M433.8 331.1h6.7M437.1 327.8v6.7M434.6 332.3h6.7M437.9 328.9v6.7M435.4 332.5h6.7M438.7 329.2v6.7M436.2 332h6.7M439.5 328.6v6.7M437 332.4h6.7M440.3 329v6.7M437.8 330.9h6.7M441.1 327.6v6.7M438.6 331.2h6.7M441.9 327.9v6.7M439.4 332.9h6.7M442.7 329.5v6.7M440.2 332.8h6.7M443.5 329.4v6.7M441 332.7h6.7M444.3 329.4v6.7M441.8 333.6h6.7M445.1 330.3v6.7M442.6 334.2h6.7M445.9 330.9v6.7M443.4 333.4h6.7M446.7 330.1v6.7M444.2 334.6h6.7M447.5 331.2v6.7M445 334.7h6.7M448.3 331.4v6.7M445.8 335.2h6.7M449.1 331.9v6.7M446.6 334.7h6.7M449.9 331.4v6.7M447.4 334.9h6.7M450.7 331.6v6.7M448.2 335.7h6.7M451.5 332.4v6.7M449 336.4h6.7M452.3 333.1v6.7M449.8 336.9h6.7M453.1 333.6v6.7M450.6 337.9h6.7M453.9 334.5v6.7M451.4 337.8h6.7M454.7 334.4v6.7M452.2 338.1h6.7M455.5 334.8v6.7M453 338h6.7M456.3 334.6v6.7M453.8 338.3h6.7M457.1 335v6.7M454.6 339.1h6.7M457.9 335.8v6.7M455.4 340.2h6.7M458.7 336.9v6.7M456.2 339.4h6.7M459.5 336.1v6.7M457 340.1h6.7M460.3 336.8v6.7M457.8 339.7h6.7M461.1 336.4v6.7M458.6 339.4h6.7M461.9 336.1v6.7M459.4 340.2h6.7M462.7 336.8v6.7M460.2 340.6h6.7M463.5 337.2v6.7M461 340.7h6.7M464.3 337.4v6.7M461.8 340.5h6.7M465.1 337.2v6.7M462.6 342.5h6.7M465.9 339.2v6.7M463.4 341.9h6.7M466.7 338.5v6.7M464.2 341.8h6.7M467.5 338.5v6.7M465 340.3h6.7M468.3 337v6.7M465.8 341.1h6.7M469.1 337.7v6.7M466.6 342.4h6.7M469.9 339.1v6.7M467.4 343.5h6.7M470.7 340.2v6.7M468.2 341.9h6.7M471.5 338.6v6.7M469 342.7h6.7M472.3 339.4v6.7M469.8 342.1h6.7M473.1 338.8v6.7M470.6 343.6h6.7M473.9 340.3v6.7M471.4 344.1h6.7M474.7 340.8v6.7M472.2 345.6h6.7M475.5 342.3v6.7M473 345.2h6.7M476.3 341.8v6.7M473.8 345.8h6.7M477.1 342.4v6.7M474.6 346.5h6.7M477.9 343.2v6.7M475.4 346.3h6.7M478.7 343v6.7M476.2 347.5h6.7M479.5 344.2v6.7M477 348.2h6.7M480.3 344.8v6.7M477.8 348.5h6.7M481.1 345.1v6.7M478.6 348.4h6.7M481.9 345.1v6.7M479.4 346.5h6.7M482.7 343.1v6.7M480.2 347.3h6.7M483.5 344v6.7M481 346.7h6.7M484.3 343.3v6.7M481.8 348.8h6.7M485.1 345.5v6.7M482.6 349h6.7M485.9 345.6v6.7M483.4 348.8h6.7M486.7 345.5v6.7M484.2 350.7h6.7M487.5 347.4v6.7M485 353.5h6.7M488.3 350.2v6.7M485.8 352.6h6.7M489.1 349.3v6.7M486.6 346.6h6.7M489.9 343.3v6.7M487.4 353.6h6.7M490.7 350.2v6.7M488.2 355.4h6.7M491.5 352.1v6.7M489 350.9h6.7M492.3 347.6v6.7M489.8 354.5h6.7M493.1 351.2v6.7M490.6 353.4h6.7M493.9 350.1v6.7M491.4 352.8h6.7M494.7 349.5v6.7M492.2 349.6h6.7M495.5 346.3v6.7M493 354.6h6.7M496.3 351.2v6.7M493.8 357.2h6.7M497.1 353.9v6.7M494.6 357.5h6.7M497.9 354.1v6.7M495.4 359.3h6.7M498.7 356v6.7M496.2 357.7h6.7M499.5 354.3v6.7M497 362.3h6.7M500.3 359v6.7M497.8 357.8h6.7M501.1 354.5v6.7M498.6 353h6.7M501.9 349.7v6.7M499.4 352.9h6.7M502.7 349.5v6.7M500.2 361.7h6.7M503.5 358.3v6.7M501 361.5h6.7M504.3 358.2v6.7M501.8 357.9h6.7M505.1 354.6v6.7M502.6 357.7h6.7M505.9 354.3v6.7M503.4 360.6h6.7M506.7 357.2v6.7M504.2 356.1h6.7M507.5 352.8v6.7M505 356.7h6.7M508.3 353.4v6.7M505.8 359.4h6.7M509.1 356v6.7M506.6 360.5h6.7M509.9 357.2v6.7M507.4 359.8h6.7M510.7 356.4v6.7M508.2 358.5h6.7M511.5 355.2v6.7M509 357.3h6.7M512.3 354v6.7M509.8 358.3h6.7M513.1 355v6.7M510.6 358.9h6.7M513.9 355.6v6.7M511.4 361.4h6.7M514.7 358.1v6.7M512.2 359.3h6.7M515.5 355.9v6.7M513 363h6.7M516.3 359.7v6.7M513.8 355.7h6.7M517.1 352.4v6.7M514.6 358.7h6.7M517.9 355.4v6.7M515.4 355.9h6.7M518.7 352.6v6.7M516.2 361.8h6.7M519.5 358.5v6.7M517 357.4h6.7M520.3 354v6.7M517.8 361.6h6.7M521.1 358.2v6.7M518.6 363.4h6.7M521.9 360v6.7M519.4 364.3h6.7M522.7 360.9v6.7M520.2 359.6h6.7M523.5 356.2v6.7M521 362h6.7M524.3 358.7v6.7M521.8 359.9h6.7M525.1 356.5v6.7M522.6 362.1h6.7M525.9 358.7v6.7M523.4 359.2h6.7M526.7 355.9v6.7M524.2 360.4h6.7M527.5 357v6.7M525 362.6h6.7M528.3 359.3v6.7M525.8 361.6h6.7M529.1 358.3v6.7M526.6 364h6.7M529.9 360.6v6.7M527.4 363h6.7M530.7 359.7v6.7M528.2 367.1h6.7M531.5 363.8v6.7M529 369.2h6.7M532.3 365.9v6.7M529.8 360.5h6.7M533.1 357.1v6.7M530.6 367.4h6.7M533.9 364.1v6.7M531.4 363.8h6.7M534.7 360.4v6.7M532.2 368.5h6.7M535.5 365.2v6.7M533 361.4h6.7M536.3 358.1v6.7M533.8 368.2h6.7M537.1 364.8v6.7M534.6 359.7h6.7M537.9 356.3v6.7M535.4 359.3h6.7M538.7 356v6.7M536.2 359.6h6.7M539.5 356.2v6.7M537 367.5h6.7M540.3 364.2v6.7M537.8 359.3h6.7M541.1 355.9v6.7" fill="none" stroke="#1f9a9a" stroke-width="0.8"/>
<path d="M108.6 203.2l4.8 4.8M108.6 208l4.8 -4.8M109.1 217.2l4.8 4.8M109.1 222l4.8 -4.8M110.8 230.1l4.8 4.8M110.8 234.9l4.8 -4.8M113.1 237.6l4.8 4.8M113.1 242.4l4.8 -4.8M116.6 245l4.8 4.8M116.6 249.8l4.8 -4.8M121.8 244.3l4.8 4.8M121.8 249.1l4.8 -4.8M130.1 240.8l4.8 4.8M130.1 245.6l4.8 -4.8M174.6 239.3l4.8 4.8M174.6 244.1l4.8 -4.8M227.2 257.1l4.8 4.8M227.2 261.9l4.8 -4.8M263.7 271.6l4.8 4.8M263.7 276.4l4.8 -4.8M286 280.2l4.8 4.8M286 285l4.8 -4.8M304 286.6l4.8 4.8M304 291.4l4.8 -4.8M318.1 291.6l4.8 4.8M318.1 296.4l4.8 -4.8M329.1 296.7l4.8 4.8M329.1 301.5l4.8 -4.8M338.2 300.7l4.8 4.8M338.2 305.5l4.8 -4.8M347.4 305.1l4.8 4.8M347.4 309.9l4.8 -4.8M355.4 307.6l4.8 4.8M355.4 312.4l4.8 -4.8M362.6 309.2l4.8 4.8M362.6 314l4.8 -4.8M369.1 310.6l4.8 4.8M369.1 315.4l4.8 -4.8M374.9 313.2l4.8 4.8M374.9 318l4.8 -4.8M380.2 315.1l4.8 4.8M380.2 319.8l4.8 -4.8M384.9 316.3l4.8 4.8M384.9 321.1l4.8 -4.8M389.1 316.6l4.8 4.8M389.1 321.4l4.8 -4.8M393 317.7l4.8 4.8M393 322.5l4.8 -4.8M396.4 316.4l4.8 4.8M396.4 321.2l4.8 -4.8M399.5 317.5l4.8 4.8M399.5 322.3l4.8 -4.8M402.3 318.8l4.8 4.8M402.3 323.6l4.8 -4.8M404.8 319.6l4.8 4.8M404.8 324.4l4.8 -4.8M407.1 320.9l4.8 4.8M407.1 325.6l4.8 -4.8M409.1 321.7l4.8 4.8M409.1 326.5l4.8 -4.8M410.9 322.3l4.8 4.8M410.9 327.1l4.8 -4.8M412.6 321.5l4.8 4.8M412.6 326.3l4.8 -4.8M414.1 322.1l4.8 4.8M414.1 326.9l4.8 -4.8M415.4 323.1l4.8 4.8M415.4 327.9l4.8 -4.8M416.6 322.6l4.8 4.8M416.6 327.4l4.8 -4.8M417.7 323.7l4.8 4.8M417.7 328.5l4.8 -4.8M418.7 323.2l4.8 4.8M418.7 328l4.8 -4.8M419.5 323l4.8 4.8M419.5 327.8l4.8 -4.8M420.3 324.7l4.8 4.8M420.3 329.5l4.8 -4.8M421.1 323.1l4.8 4.8M421.1 327.9l4.8 -4.8M421.9 323.3l4.8 4.8M421.9 328.1l4.8 -4.8M422.7 324.4l4.8 4.8M422.7 329.2l4.8 -4.8M423.5 324.4l4.8 4.8M423.5 329.2l4.8 -4.8M424.3 325.4l4.8 4.8M424.3 330.2l4.8 -4.8M425.1 326.2l4.8 4.8M425.1 331l4.8 -4.8M425.9 325.6l4.8 4.8M425.9 330.4l4.8 -4.8M426.7 326.4l4.8 4.8M426.7 331.2l4.8 -4.8M427.5 325.9l4.8 4.8M427.5 330.7l4.8 -4.8M428.3 325.9l4.8 4.8M428.3 330.7l4.8 -4.8M429.1 326.1l4.8 4.8M429.1 330.9l4.8 -4.8M429.9 326.6l4.8 4.8M429.9 331.4l4.8 -4.8M430.7 327.9l4.8 4.8M430.7 332.7l4.8 -4.8M431.5 325.4l4.8 4.8M431.5 330.2l4.8 -4.8M432.3 326.9l4.8 4.8M432.3 331.7l4.8 -4.8M433.1 327.4l4.8 4.8M433.1 332.2l4.8 -4.8M433.9 328.1l4.8 4.8M433.9 332.9l4.8 -4.8M434.7 328.6l4.8 4.8M434.7 333.4l4.8 -4.8M435.5 329.8l4.8 4.8M435.5 334.5l4.8 -4.8M436.3 330l4.8 4.8M436.3 334.8l4.8 -4.8M437.1 329.5l4.8 4.8M437.1 334.3l4.8 -4.8M437.9 329.9l4.8 4.8M437.9 334.7l4.8 -4.8M438.7 328.4l4.8 4.8M438.7 333.2l4.8 -4.8M439.5 328.7l4.8 4.8M439.5 333.5l4.8 -4.8M440.3 330.4l4.8 4.8M440.3 335.2l4.8 -4.8M441.1 330.3l4.8 4.8M441.1 335.1l4.8 -4.8M441.9 330.2l4.8 4.8M441.9 335l4.8 -4.8M442.7 331.1l4.8 4.8M442.7 335.9l4.8 -4.8M443.5 331.8l4.8 4.8M443.5 336.6l4.8 -4.8M444.3 330.9l4.8 4.8M444.3 335.7l4.8 -4.8M445.1 332.1l4.8 4.8M445.1 336.9l4.8 -4.8M445.9 332.3l4.8 4.8M445.9 337.1l4.8 -4.8M446.7 332.7l4.8 4.8M446.7 337.5l4.8 -4.8M447.5 332.3l4.8 4.8M447.5 337l4.8 -4.8M448.3 332.4l4.8 4.8M448.3 337.2l4.8 -4.8M449.1 333.2l4.8 4.8M449.1 338l4.8 -4.8M449.9 333.9l4.8 4.8M449.9 338.7l4.8 -4.8M450.7 334.5l4.8 4.8M450.7 339.3l4.8 -4.8M451.5 335.4l4.8 4.8M451.5 340.2l4.8 -4.8M452.3 335.3l4.8 4.8M452.3 340.1l4.8 -4.8M453.1 335.6l4.8 4.8M453.1 340.4l4.8 -4.8M453.9 335.5l4.8 4.8M453.9 340.3l4.8 -4.8M454.7 335.9l4.8 4.8M454.7 340.6l4.8 -4.8M455.5 336.7l4.8 4.8M455.5 341.5l4.8 -4.8M456.3 337.7l4.8 4.8M456.3 342.5l4.8 -4.8M457.1 337l4.8 4.8M457.1 341.8l4.8 -4.8M457.9 337.6l4.8 4.8M457.9 342.4l4.8 -4.8M458.7 337.3l4.8 4.8M458.7 342l4.8 -4.8M459.5 337l4.8 4.8M459.5 341.8l4.8 -4.8M460.3 337.7l4.8 4.8M460.3 342.5l4.8 -4.8M461.1 338.1l4.8 4.8M461.1 342.9l4.8 -4.8M461.9 338.2l4.8 4.8M461.9 343l4.8 -4.8M462.7 338.1l4.8 4.8M462.7 342.9l4.8 -4.8M463.5 340.1l4.8 4.8M463.5 344.8l4.8 -4.8M464.3 339.4l4.8 4.8M464.3 344.2l4.8 -4.8M465.1 339.4l4.8 4.8M465.1 344.2l4.8 -4.8M465.9 337.8l4.8 4.8M465.9 342.6l4.8 -4.8M466.7 338.6l4.8 4.8M466.7 343.4l4.8 -4.8M467.5 340l4.8 4.8M467.5 344.8l4.8 -4.8M468.3 341.1l4.8 4.8M468.3 345.9l4.8 -4.8M469.1 339.5l4.8 4.8M469.1 344.3l4.8 -4.8M469.9 340.3l4.8 4.8M469.9 345l4.8 -4.8M470.7 339.7l4.8 4.8M470.7 344.5l4.8 -4.8M471.5 341.2l4.8 4.8M471.5 346l4.8 -4.8M472.3 341.7l4.8 4.8M472.3 346.5l4.8 -4.8M473.1 343.2l4.8 4.8M473.1 348l4.8 -4.8M473.9 342.7l4.8 4.8M473.9 347.5l4.8 -4.8M474.7 343.3l4.8 4.8M474.7 348.1l4.8 -4.8M475.5 344.1l4.8 4.8M475.5 348.9l4.8 -4.8M476.3 343.9l4.8 4.8M476.3 348.7l4.8 -4.8M477.1 345.1l4.8 4.8M477.1 349.8l4.8 -4.8M477.9 345.7l4.8 4.8M477.9 350.5l4.8 -4.8M478.7 346l4.8 4.8M478.7 350.8l4.8 -4.8M479.5 346l4.8 4.8M479.5 350.8l4.8 -4.8M480.3 344l4.8 4.8M480.3 348.8l4.8 -4.8M481.1 344.9l4.8 4.8M481.1 349.7l4.8 -4.8M481.9 344.3l4.8 4.8M481.9 349l4.8 -4.8M482.7 346.4l4.8 4.8M482.7 351.2l4.8 -4.8M483.5 346.5l4.8 4.8M483.5 351.3l4.8 -4.8M484.3 346.4l4.8 4.8M484.3 351.2l4.8 -4.8M485.1 348.3l4.8 4.8M485.1 353.1l4.8 -4.8M485.9 351.1l4.8 4.8M485.9 355.9l4.8 -4.8M486.7 350.2l4.8 4.8M486.7 355l4.8 -4.8M487.5 344.2l4.8 4.8M487.5 349l4.8 -4.8M488.3 351.2l4.8 4.8M488.3 356l4.8 -4.8M489.1 353l4.8 4.8M489.1 357.8l4.8 -4.8M489.9 348.5l4.8 4.8M489.9 353.3l4.8 -4.8M490.7 352.1l4.8 4.8M490.7 356.9l4.8 -4.8M491.5 351l4.8 4.8M491.5 355.8l4.8 -4.8M492.3 350.4l4.8 4.8M492.3 355.2l4.8 -4.8M493.1 347.2l4.8 4.8M493.1 352l4.8 -4.8M493.9 352.2l4.8 4.8M493.9 356.9l4.8 -4.8M494.7 354.8l4.8 4.8M494.7 359.6l4.8 -4.8M495.5 355.1l4.8 4.8M495.5 359.9l4.8 -4.8M496.3 356.9l4.8 4.8M496.3 361.7l4.8 -4.8M497.1 355.3l4.8 4.8M497.1 360l4.8 -4.8M497.9 359.9l4.8 4.8M497.9 364.7l4.8 -4.8M498.7 355.4l4.8 4.8M498.7 360.2l4.8 -4.8M499.5 350.6l4.8 4.8M499.5 355.4l4.8 -4.8M500.3 350.5l4.8 4.8M500.3 355.3l4.8 -4.8M501.1 359.3l4.8 4.8M501.1 364.1l4.8 -4.8M501.9 359.1l4.8 4.8M501.9 363.9l4.8 -4.8M502.7 355.5l4.8 4.8M502.7 360.3l4.8 -4.8M503.5 355.3l4.8 4.8M503.5 360.1l4.8 -4.8M504.3 358.2l4.8 4.8M504.3 363l4.8 -4.8M505.1 353.7l4.8 4.8M505.1 358.5l4.8 -4.8M505.9 354.3l4.8 4.8M505.9 359.1l4.8 -4.8M506.7 357l4.8 4.8M506.7 361.8l4.8 -4.8M507.5 358.1l4.8 4.8M507.5 362.9l4.8 -4.8M508.3 357.4l4.8 4.8M508.3 362.2l4.8 -4.8M509.1 356.1l4.8 4.8M509.1 360.9l4.8 -4.8M509.9 354.9l4.8 4.8M509.9 359.7l4.8 -4.8M510.7 355.9l4.8 4.8M510.7 360.7l4.8 -4.8M511.5 356.5l4.8 4.8M511.5 361.3l4.8 -4.8M512.3 359l4.8 4.8M512.3 363.8l4.8 -4.8M513.1 356.9l4.8 4.8M513.1 361.7l4.8 -4.8M513.9 360.6l4.8 4.8M513.9 365.4l4.8 -4.8M514.7 353.3l4.8 4.8M514.7 358.1l4.8 -4.8M515.5 356.3l4.8 4.8M515.5 361.1l4.8 -4.8M516.3 353.5l4.8 4.8M516.3 358.3l4.8 -4.8M517.1 359.4l4.8 4.8M517.1 364.2l4.8 -4.8M517.9 355l4.8 4.8M517.9 359.8l4.8 -4.8M518.7 359.2l4.8 4.8M518.7 364l4.8 -4.8M519.5 361l4.8 4.8M519.5 365.7l4.8 -4.8M520.3 361.9l4.8 4.8M520.3 366.7l4.8 -4.8M521.1 357.2l4.8 4.8M521.1 361.9l4.8 -4.8M521.9 359.6l4.8 4.8M521.9 364.4l4.8 -4.8M522.7 357.5l4.8 4.8M522.7 362.3l4.8 -4.8M523.5 359.7l4.8 4.8M523.5 364.5l4.8 -4.8M524.3 356.8l4.8 4.8M524.3 361.6l4.8 -4.8M525.1 358l4.8 4.8M525.1 362.7l4.8 -4.8M525.9 360.2l4.8 4.8M525.9 365l4.8 -4.8M526.7 359.2l4.8 4.8M526.7 364l4.8 -4.8M527.5 361.6l4.8 4.8M527.5 366.4l4.8 -4.8M528.3 360.6l4.8 4.8M528.3 365.4l4.8 -4.8M529.1 364.7l4.8 4.8M529.1 369.5l4.8 -4.8M529.9 366.8l4.8 4.8M529.9 371.6l4.8 -4.8M530.7 358.1l4.8 4.8M530.7 362.8l4.8 -4.8M531.5 365l4.8 4.8M531.5 369.8l4.8 -4.8M532.3 361.4l4.8 4.8M532.3 366.2l4.8 -4.8M533.1 366.1l4.8 4.8M533.1 370.9l4.8 -4.8M533.9 359l4.8 4.8M533.9 363.8l4.8 -4.8M534.7 365.8l4.8 4.8M534.7 370.6l4.8 -4.8M535.5 357.3l4.8 4.8M535.5 362.1l4.8 -4.8M536.3 356.9l4.8 4.8M536.3 361.7l4.8 -4.8M537.1 357.2l4.8 4.8M537.1 361.9l4.8 -4.8M537.9 365.1l4.8 4.8M537.9 369.9l4.8 -4.8M538.7 356.9l4.8 4.8M538.7 361.7l4.8 -4.8" fill="none" stroke="#b87a3c" stroke-width="0.8"/>
<path d="M107.7 191.8h6.7M111 188.5v6.7M108.6 189.4l4.8 4.8M108.6 194.2l4.8 -4.8M108.2 209.2h6.7M111.5 205.8v6.7M109.1 206.8l4.8 4.8M109.1 211.5l4.8 -4.8M109.9 224h6.7M113.2 220.7v6.7M110.8 221.6l4.8 4.8M110.8 226.4l4.8 -4.8M112.2 232.6h6.7M115.5 229.3v6.7M113.1 230.2l4.8 4.8M113.1 235l4.8 -4.8M115.7 241h6.7M119 237.6v6.7M116.6 238.6l4.8 4.8M116.6 243.4l4.8 -4.8M120.9 241h6.7M124.2 237.6v6.7M121.8 238.6l4.8 4.8M121.8 243.4l4.8 -4.8M129.2 238.2h6.7M132.5 234.8v6.7M130.1 235.8l4.8 4.8M130.1 240.6l4.8 -4.8M173.7 239h6.7M177 235.7v6.7M174.6 236.6l4.8 4.8M174.6 241.4l4.8 -4.8M226.3 257.6h6.7M229.6 254.3v6.7M227.2 255.2l4.8 4.8M227.2 260l4.8 -4.8M262.8 272.4h6.7M266.1 269.1v6.7M263.7 270l4.8 4.8M263.7 274.8l4.8 -4.8M285.1 281.2h6.7M288.4 277.9v6.7M286 278.9l4.8 4.8M286 283.6l4.8 -4.8M303.1 287.9h6.7M306.4 284.5v6.7M304 285.5l4.8 4.8M304 290.3l4.8 -4.8M317.2 292.9h6.7M320.5 289.6v6.7M318.1 290.5l4.8 4.8M318.1 295.3l4.8 -4.8M328.2 298.2h6.7M331.5 294.8v6.7M329.1 295.8l4.8 4.8M329.1 300.6l4.8 -4.8M337.3 302.4h6.7M340.6 299.1v6.7M338.2 300l4.8 4.8M338.2 304.8l4.8 -4.8M346.5 306.9h6.7M349.8 303.6v6.7M347.4 304.5l4.8 4.8M347.4 309.3l4.8 -4.8M354.5 309.4h6.7M357.8 306.1v6.7M355.4 307.1l4.8 4.8M355.4 311.8l4.8 -4.8M361.7 311.1h6.7M365 307.8v6.7M362.6 308.7l4.8 4.8M362.6 313.5l4.8 -4.8M368.2 312.6h6.7M371.5 309.3v6.7M369.1 310.2l4.8 4.8M369.1 315l4.8 -4.8M374 315.3h6.7M377.3 311.9v6.7M374.9 312.9l4.8 4.8M374.9 317.7l4.8 -4.8M379.2 317.1h6.7M382.6 313.8v6.7M380.2 314.7l4.8 4.8M380.2 319.5l4.8 -4.8M384 318.4h6.7M387.3 315v6.7M384.9 316l4.8 4.8M384.9 320.8l4.8 -4.8M388.2 318.7h6.7M391.5 315.4v6.7M389.1 316.3l4.8 4.8M389.1 321.1l4.8 -4.8M392 319.8h6.7M395.4 316.5v6.7M393 317.4l4.8 4.8M393 322.2l4.8 -4.8M395.5 318.6h6.7M398.8 315.2v6.7M396.4 316.2l4.8 4.8M396.4 321l4.8 -4.8M398.6 319.7h6.7M401.9 316.3v6.7M399.5 317.3l4.8 4.8M399.5 322.1l4.8 -4.8M401.4 321h6.7M404.7 317.7v6.7M402.3 318.6l4.8 4.8M402.3 323.4l4.8 -4.8M403.9 321.8h6.7M407.2 318.4v6.7M404.8 319.4l4.8 4.8M404.8 324.2l4.8 -4.8M406.1 323h6.7M409.5 319.7v6.7M407.1 320.7l4.8 4.8M407.1 325.4l4.8 -4.8M408.2 323.9h6.7M411.5 320.6v6.7M409.1 321.5l4.8 4.8M409.1 326.3l4.8 -4.8M410 324.5h6.7M413.3 321.2v6.7M410.9 322.1l4.8 4.8M410.9 326.9l4.8 -4.8M411.6 323.7h6.7M415 320.4v6.7M412.6 321.3l4.8 4.8M412.6 326.1l4.8 -4.8M413.1 324.3h6.7M416.5 321v6.7M414.1 321.9l4.8 4.8M414.1 326.7l4.8 -4.8M414.5 325.3h6.7M417.8 322v6.7M415.4 322.9l4.8 4.8M415.4 327.7l4.8 -4.8M415.7 324.8h6.7M419 321.5v6.7M416.6 322.4l4.8 4.8M416.6 327.2l4.8 -4.8M416.7 326h6.7M420.1 322.6v6.7M417.7 323.6l4.8 4.8M417.7 328.4l4.8 -4.8M417.7 325.4h6.7M421 322.1v6.7M418.7 323l4.8 4.8M418.7 327.8l4.8 -4.8M418.6 325.2h6.7M421.9 321.9v6.7M419.5 322.8l4.8 4.8M419.5 327.6l4.8 -4.8M419.4 327h6.7M422.7 323.6v6.7M420.3 324.6l4.8 4.8M420.3 329.4l4.8 -4.8M420.2 325.3h6.7M423.5 322v6.7M421.1 322.9l4.8 4.8M421.1 327.7l4.8 -4.8M421 325.6h6.7M424.3 322.2v6.7M421.9 323.2l4.8 4.8M421.9 328l4.8 -4.8M421.8 326.7h6.7M425.1 323.4v6.7M422.7 324.3l4.8 4.8M422.7 329.1l4.8 -4.8M422.6 326.7h6.7M425.9 323.3v6.7M423.5 324.3l4.8 4.8M423.5 329.1l4.8 -4.8M423.4 327.6h6.7M426.7 324.3v6.7M424.3 325.2l4.8 4.8M424.3 330l4.8 -4.8M424.2 328.5h6.7M427.5 325.1v6.7M425.1 326.1l4.8 4.8M425.1 330.9l4.8 -4.8M425 327.8h6.7M428.3 324.5v6.7M425.9 325.4l4.8 4.8M425.9 330.2l4.8 -4.8M425.8 328.6h6.7M429.1 325.3v6.7M426.7 326.2l4.8 4.8M426.7 331l4.8 -4.8M426.6 328.1h6.7M429.9 324.8v6.7M427.5 325.7l4.8 4.8M427.5 330.5l4.8 -4.8M427.4 328.1h6.7M430.7 324.8v6.7M428.3 325.7l4.8 4.8M428.3 330.5l4.8 -4.8M428.2 328.4h6.7M431.5 325.1v6.7M429.1 326l4.8 4.8M429.1 330.8l4.8 -4.8M429 328.9h6.7M432.3 325.5v6.7M429.9 326.5l4.8 4.8M429.9 331.3l4.8 -4.8M429.8 330.2h6.7M433.1 326.8v6.7M430.7 327.8l4.8 4.8M430.7 332.6l4.8 -4.8M430.6 327.7h6.7M433.9 324.4v6.7M431.5 325.3l4.8 4.8M431.5 330.1l4.8 -4.8M431.4 329.2h6.7M434.7 325.9v6.7M432.3 326.8l4.8 4.8M432.3 331.6l4.8 -4.8M432.2 329.7h6.7M435.5 326.4v6.7M433.1 327.3l4.8 4.8M433.1 332.1l4.8 -4.8M433 330.4h6.7M436.3 327v6.7M433.9 328l4.8 4.8M433.9 332.8l4.8 -4.8M433.8 330.9h6.7M437.1 327.6v6.7M434.7 328.5l4.8 4.8M434.7 333.3l4.8 -4.8M434.6 332h6.7M437.9 328.7v6.7M435.5 329.6l4.8 4.8M435.5 334.4l4.8 -4.8M435.4 332.3h6.7M438.7 329v6.7M436.3 329.9l4.8 4.8M436.3 334.7l4.8 -4.8M436.2 331.8h6.7M439.5 328.4v6.7M437.1 329.4l4.8 4.8M437.1 334.2l4.8 -4.8M437 332.2h6.7M440.3 328.9v6.7M437.9 329.8l4.8 4.8M437.9 334.6l4.8 -4.8M437.8 330.7h6.7M441.1 327.4v6.7M438.7 328.3l4.8 4.8M438.7 333.1l4.8 -4.8M438.6 331h6.7M441.9 327.7v6.7M439.5 328.7l4.8 4.8M439.5 333.4l4.8 -4.8M439.4 332.7h6.7M442.7 329.3v6.7M440.3 330.3l4.8 4.8M440.3 335.1l4.8 -4.8M440.2 332.6h6.7M443.5 329.3v6.7M441.1 330.2l4.8 4.8M441.1 335l4.8 -4.8M441 332.5h6.7M444.3 329.2v6.7M441.9 330.1l4.8 4.8M441.9 334.9l4.8 -4.8M441.8 333.5h6.7M445.1 330.1v6.7M442.7 331.1l4.8 4.8M442.7 335.9l4.8 -4.8M442.6 334.1h6.7M445.9 330.7v6.7M443.5 331.7l4.8 4.8M443.5 336.5l4.8 -4.8M443.4 333.2h6.7M446.7 329.9v6.7M444.3 330.8l4.8 4.8M444.3 335.6l4.8 -4.8M444.2 334.4h6.7M447.5 331.1v6.7M445.1 332l4.8 4.8M445.1 336.8l4.8 -4.8M445 334.6h6.7M448.3 331.2v6.7M445.9 332.2l4.8 4.8M445.9 337l4.8 -4.8M445.8 335h6.7M449.1 331.7v6.7M446.7 332.6l4.8 4.8M446.7 337.4l4.8 -4.8M446.6 334.6h6.7M449.9 331.2v6.7M447.5 332.2l4.8 4.8M447.5 337l4.8 -4.8M447.4 334.8h6.7M450.7 331.4v6.7M448.3 332.4l4.8 4.8M448.3 337.2l4.8 -4.8M448.2 335.5h6.7M451.5 332.2v6.7M449.1 333.1l4.8 4.8M449.1 337.9l4.8 -4.8M449 336.3h6.7M452.3 332.9v6.7M449.9 333.9l4.8 4.8M449.9 338.7l4.8 -4.8M449.8 336.8h6.7M453.1 333.5v6.7M450.7 334.4l4.8 4.8M450.7 339.2l4.8 -4.8M450.6 337.7h6.7M453.9 334.4v6.7M451.5 335.3l4.8 4.8M451.5 340.1l4.8 -4.8M451.4 337.6h6.7M454.7 334.3v6.7M452.3 335.2l4.8 4.8M452.3 340l4.8 -4.8M452.2 338h6.7M455.5 334.6v6.7M453.1 335.6l4.8 4.8M453.1 340.4l4.8 -4.8M453 337.8h6.7M456.3 334.5v6.7M453.9 335.4l4.8 4.8M453.9 340.2l4.8 -4.8M453.8 338.2h6.7M457.1 334.9v6.7M454.7 335.8l4.8 4.8M454.7 340.6l4.8 -4.8M454.6 339h6.7M457.9 335.7v6.7M455.5 336.6l4.8 4.8M455.5 341.4l4.8 -4.8M455.4 340h6.7M458.7 336.7v6.7M456.3 337.7l4.8 4.8M456.3 342.4l4.8 -4.8M456.2 339.3h6.7M459.5 336v6.7M457.1 336.9l4.8 4.8M457.1 341.7l4.8 -4.8M457 340h6.7M460.3 336.6v6.7M457.9 337.6l4.8 4.8M457.9 342.4l4.8 -4.8M457.8 339.6h6.7M461.1 336.3v6.7M458.7 337.2l4.8 4.8M458.7 342l4.8 -4.8M458.6 339.3h6.7M461.9 336v6.7M459.5 336.9l4.8 4.8M459.5 341.7l4.8 -4.8M459.4 340h6.7M462.7 336.7v6.7M460.3 337.6l4.8 4.8M460.3 342.4l4.8 -4.8M460.2 340.4h6.7M463.5 337.1v6.7M461.1 338.1l4.8 4.8M461.1 342.8l4.8 -4.8M461 340.6h6.7M464.3 337.3v6.7M461.9 338.2l4.8 4.8M461.9 343l4.8 -4.8M461.8 340.4h6.7M465.1 337.1v6.7M462.7 338l4.8 4.8M462.7 342.8l4.8 -4.8M462.6 342.4h6.7M465.9 339.1v6.7M463.5 340l4.8 4.8M463.5 344.8l4.8 -4.8M463.4 341.8h6.7M466.7 338.4v6.7M464.3 339.4l4.8 4.8M464.3 344.2l4.8 -4.8M464.2 341.7h6.7M467.5 338.4v6.7M465.1 339.3l4.8 4.8M465.1 344.1l4.8 -4.8M465 340.2h6.7M468.3 336.9v6.7M465.9 337.8l4.8 4.8M465.9 342.6l4.8 -4.8M465.8 341h6.7M469.1 337.6v6.7M466.7 338.6l4.8 4.8M466.7 343.4l4.8 -4.8M466.6 342.3h6.7M469.9 339v6.7M467.5 340l4.8 4.8M467.5 344.7l4.8 -4.8M467.4 343.5h6.7M470.7 340.1v6.7M468.3 341.1l4.8 4.8M468.3 345.8l4.8 -4.8M468.2 341.8h6.7M471.5 338.5v6.7M469.1 339.4l4.8 4.8M469.1 344.2l4.8 -4.8M469 342.6h6.7M472.3 339.3v6.7M469.9 340.2l4.8 4.8M469.9 345l4.8 -4.8M469.8 342h6.7M473.1 338.7v6.7M470.7 339.6l4.8 4.8M470.7 344.4l4.8 -4.8M470.6 343.5h6.7M473.9 340.2v6.7M471.5 341.1l4.8 4.8M471.5 345.9l4.8 -4.8M471.4 344h6.7M474.7 340.7v6.7M472.3 341.6l4.8 4.8M472.3 346.4l4.8 -4.8M472.2 345.6h6.7M475.5 342.2v6.7M473.1 343.2l4.8 4.8M473.1 348l4.8 -4.8M473 345.1h6.7M476.3 341.8v6.7M473.9 342.7l4.8 4.8M473.9 347.5l4.8 -4.8M473.8 345.7h6.7M477.1 342.4v6.7M474.7 343.3l4.8 4.8M474.7 348.1l4.8 -4.8M474.6 346.4h6.7M477.9 343.1v6.7M475.5 344.1l4.8 4.8M475.5 348.8l4.8 -4.8M475.4 346.3h6.7M478.7 343v6.7M476.3 343.9l4.8 4.8M476.3 348.7l4.8 -4.8M476.2 347.4h6.7M479.5 344.1v6.7M477.1 345l4.8 4.8M477.1 349.8l4.8 -4.8M477 348.1h6.7M480.3 344.8v6.7M477.9 345.7l4.8 4.8M477.9 350.5l4.8 -4.8M477.8 348.4h6.7M481.1 345.1v6.7M478.7 346l4.8 4.8M478.7 350.8l4.8 -4.8M478.6 348.4h6.7M481.9 345v6.7M479.5 346l4.8 4.8M479.5 350.8l4.8 -4.8M479.4 346.4h6.7M482.7 343.1v6.7M480.3 344l4.8 4.8M480.3 348.8l4.8 -4.8M480.2 347.3h6.7M483.5 343.9v6.7M481.1 344.9l4.8 4.8M481.1 349.7l4.8 -4.8M481 346.6h6.7M484.3 343.3v6.7M481.9 344.2l4.8 4.8M481.9 349l4.8 -4.8M481.8 348.8h6.7M485.1 345.5v6.7M482.7 346.4l4.8 4.8M482.7 351.2l4.8 -4.8M482.6 348.9h6.7M485.9 345.6v6.7M483.5 346.5l4.8 4.8M483.5 351.3l4.8 -4.8M483.4 348.8h6.7M486.7 345.5v6.7M484.3 346.4l4.8 4.8M484.3 351.2l4.8 -4.8M484.2 350.7h6.7M487.5 347.3v6.7M485.1 348.3l4.8 4.8M485.1 353.1l4.8 -4.8M485 353.5h6.7M488.3 350.2v6.7M485.9 351.1l4.8 4.8M485.9 355.9l4.8 -4.8M485.8 352.6h6.7M489.1 349.3v6.7M486.7 350.2l4.8 4.8M486.7 355l4.8 -4.8M486.6 346.6h6.7M489.9 343.2v6.7M487.5 344.2l4.8 4.8M487.5 349l4.8 -4.8M487.4 353.5h6.7M490.7 350.2v6.7M488.3 351.1l4.8 4.8M488.3 355.9l4.8 -4.8M488.2 355.4h6.7M491.5 352v6.7M489.1 353l4.8 4.8M489.1 357.8l4.8 -4.8M489 350.9h6.7M492.3 347.6v6.7M489.9 348.5l4.8 4.8M489.9 353.3l4.8 -4.8M489.8 354.5h6.7M493.1 351.2v6.7M490.7 352.1l4.8 4.8M490.7 356.9l4.8 -4.8M490.6 353.4h6.7M493.9 350.1v6.7M491.5 351l4.8 4.8M491.5 355.8l4.8 -4.8M491.4 352.8h6.7M494.7 349.5v6.7M492.3 350.4l4.8 4.8M492.3 355.2l4.8 -4.8M492.2 349.6h6.7M495.5 346.3v6.7M493.1 347.2l4.8 4.8M493.1 352l4.8 -4.8M493 354.6h6.7M496.3 351.2v6.7M493.9 352.2l4.8 4.8M493.9 356.9l4.8 -4.8M493.8 357.2h6.7M497.1 353.9v6.7M494.7 354.8l4.8 4.8M494.7 359.6l4.8 -4.8M494.6 357.5h6.7M497.9 354.1v6.7M495.5 355.1l4.8 4.8M495.5 359.9l4.8 -4.8M495.4 359.3h6.7M498.7 356v6.7M496.3 356.9l4.8 4.8M496.3 361.7l4.8 -4.8M496.2 357.7h6.7M499.5 354.3v6.7M497.1 355.3l4.8 4.8M497.1 360l4.8 -4.8M497 362.3h6.7M500.3 359v6.7M497.9 359.9l4.8 4.8M497.9 364.7l4.8 -4.8M497.8 357.8h6.7M501.1 354.5v6.7M498.7 355.4l4.8 4.8M498.7 360.2l4.8 -4.8M498.6 353h6.7M501.9 349.7v6.7M499.5 350.6l4.8 4.8M499.5 355.4l4.8 -4.8M499.4 352.9h6.7M502.7 349.5v6.7M500.3 350.5l4.8 4.8M500.3 355.3l4.8 -4.8M500.2 361.7h6.7M503.5 358.3v6.7M501.1 359.3l4.8 4.8M501.1 364.1l4.8 -4.8M501 361.5h6.7M504.3 358.2v6.7M501.9 359.1l4.8 4.8M501.9 363.9l4.8 -4.8M501.8 357.9h6.7M505.1 354.6v6.7M502.7 355.5l4.8 4.8M502.7 360.3l4.8 -4.8M502.6 357.7h6.7M505.9 354.3v6.7M503.5 355.3l4.8 4.8M503.5 360.1l4.8 -4.8M503.4 360.6h6.7M506.7 357.2v6.7M504.3 358.2l4.8 4.8M504.3 363l4.8 -4.8M504.2 356.1h6.7M507.5 352.8v6.7M505.1 353.7l4.8 4.8M505.1 358.5l4.8 -4.8M505 356.7h6.7M508.3 353.4v6.7M505.9 354.3l4.8 4.8M505.9 359.1l4.8 -4.8M505.8 359.4h6.7M509.1 356v6.7M506.7 357l4.8 4.8M506.7 361.8l4.8 -4.8M506.6 360.5h6.7M509.9 357.2v6.7M507.5 358.1l4.8 4.8M507.5 362.9l4.8 -4.8M507.4 359.8h6.7M510.7 356.4v6.7M508.3 357.4l4.8 4.8M508.3 362.2l4.8 -4.8M508.2 358.5h6.7M511.5 355.2v6.7M509.1 356.1l4.8 4.8M509.1 360.9l4.8 -4.8M509 357.3h6.7M512.3 354v6.7M509.9 354.9l4.8 4.8M509.9 359.7l4.8 -4.8M509.8 358.3h6.7M513.1 355v6.7M510.7 355.9l4.8 4.8M510.7 360.7l4.8 -4.8M510.6 358.9h6.7M513.9 355.6v6.7M511.5 356.5l4.8 4.8M511.5 361.3l4.8 -4.8M511.4 361.4h6.7M514.7 358.1v6.7M512.3 359l4.8 4.8M512.3 363.8l4.8 -4.8M512.2 359.3h6.7M515.5 355.9v6.7M513.1 356.9l4.8 4.8M513.1 361.7l4.8 -4.8M513 363h6.7M516.3 359.7v6.7M513.9 360.6l4.8 4.8M513.9 365.4l4.8 -4.8M513.8 355.7h6.7M517.1 352.4v6.7M514.7 353.3l4.8 4.8M514.7 358.1l4.8 -4.8M514.6 358.7h6.7M517.9 355.4v6.7M515.5 356.3l4.8 4.8M515.5 361.1l4.8 -4.8M515.4 355.9h6.7M518.7 352.6v6.7M516.3 353.5l4.8 4.8M516.3 358.3l4.8 -4.8M516.2 361.8h6.7M519.5 358.5v6.7M517.1 359.4l4.8 4.8M517.1 364.2l4.8 -4.8M517 357.4h6.7M520.3 354v6.7M517.9 355l4.8 4.8M517.9 359.8l4.8 -4.8M517.8 361.6h6.7M521.1 358.2v6.7M518.7 359.2l4.8 4.8M518.7 364l4.8 -4.8M518.6 363.4h6.7M521.9 360v6.7M519.5 361l4.8 4.8M519.5 365.7l4.8 -4.8M519.4 364.3h6.7M522.7 360.9v6.7M520.3 361.9l4.8 4.8M520.3 366.7l4.8 -4.8M520.2 359.6h6.7M523.5 356.2v6.7M521.1 357.2l4.8 4.8M521.1 361.9l4.8 -4.8M521 362h6.7M524.3 358.7v6.7M521.9 359.6l4.8 4.8M521.9 364.4l4.8 -4.8M521.8 359.9h6.7M525.1 356.5v6.7M522.7 357.5l4.8 4.8M522.7 362.3l4.8 -4.8M522.6 362.1h6.7M525.9 358.7v6.7M523.5 359.7l4.8 4.8M523.5 364.5l4.8 -4.8M523.4 359.2h6.7M526.7 355.9v6.7M524.3 356.8l4.8 4.8M524.3 361.6l4.8 -4.8M524.2 360.4h6.7M527.5 357v6.7M525.1 358l4.8 4.8M525.1 362.7l4.8 -4.8M525 362.6h6.7M528.3 359.3v6.7M525.9 360.2l4.8 4.8M525.9 365l4.8 -4.8M525.8 361.6h6.7M529.1 358.3v6.7M526.7 359.2l4.8 4.8M526.7 364l4.8 -4.8M526.6 364h6.7M529.9 360.6v6.7M527.5 361.6l4.8 4.8M527.5 366.4l4.8 -4.8M527.4 363h6.7M530.7 359.7v6.7M528.3 360.6l4.8 4.8M528.3 365.4l4.8 -4.8M528.2 367.1h6.7M531.5 363.8v6.7M529.1 364.7l4.8 4.8M529.1 369.5l4.8 -4.8M529 369.2h6.7M532.3 365.9v6.7M529.9 366.8l4.8 4.8M529.9 371.6l4.8 -4.8M529.8 360.5h6.7M533.1 357.1v6.7M530.7 358.1l4.8 4.8M530.7 362.8l4.8 -4.8M530.6 367.4h6.7M533.9 364.1v6.7M531.5 365l4.8 4.8M531.5 369.8l4.8 -4.8M531.4 363.8h6.7M534.7 360.4v6.7M532.3 361.4l4.8 4.8M532.3 366.2l4.8 -4.8M532.2 368.5h6.7M535.5 365.2v6.7M533.1 366.1l4.8 4.8M533.1 370.9l4.8 -4.8M533 361.4h6.7M536.3 358.1v6.7M533.9 359l4.8 4.8M533.9 363.8l4.8 -4.8M533.8 368.2h6.7M537.1 364.8v6.7M534.7 365.8l4.8 4.8M534.7 370.6l4.8 -4.8M534.6 359.7h6.7M537.9 356.3v6.7M535.5 357.3l4.8 4.8M535.5 362.1l4.8 -4.8M535.4 359.3h6.7M538.7 356v6.7M536.3 356.9l4.8 4.8M536.3 361.7l4.8 -4.8M536.2 359.6h6.7M539.5 356.2v6.7M537.1 357.2l4.8 4.8M537.1 361.9l4.8 -4.8M537 367.5h6.7M540.3 364.2v6.7M537.9 365.1l4.8 4.8M537.9 369.9l4.8 -4.8M537.8 359.3h6.7M541.1 355.9v6.7M538.7 356.9l4.8 4.8M538.7 361.7l4.8 -4.8" fill="none" stroke="#22cc55" stroke-width="0.8"/>
<path d="M107.7 178h6.7M108.2 198.7h6.7M109.9 215.4h6.7M112.2 225.2h6.7M115.7 234.6h6.7M120.9 235.3h6.7M129.2 233.2h6.7M173.7 236.3h6.7M226.3 255.7h6.7M262.8 270.9h6.7M285.1 279.9h6.7M303.1 286.8h6.7M317.2 291.9h6.7M328.2 297.3h6.7M337.3 301.7h6.7M346.5 306.3h6.7M354.5 308.9h6.7M361.7 310.7h6.7M368.2 312.2h6.7M374 314.9h6.7M379.2 316.8h6.7M384 318.1h6.7M388.2 318.4h6.7M392 319.5h6.7M395.5 318.3h6.7M398.6 319.4h6.7M401.4 320.8h6.7M403.9 321.5h6.7M406.1 322.8h6.7M408.2 323.7h6.7M410 324.4h6.7M411.6 323.5h6.7M413.1 324.1h6.7M414.5 325.1h6.7M415.7 324.6h6.7M416.7 325.8h6.7M417.7 325.3h6.7M418.6 325.1h6.7M419.4 326.8h6.7M420.2 325.2h6.7M421 325.4h6.7M421.8 326.5h6.7M422.6 326.5h6.7M423.4 327.5h6.7M424.2 328.3h6.7M425 327.7h6.7M425.8 328.5h6.7M426.6 328h6.7M427.4 328h6.7M428.2 328.3h6.7M429 328.7h6.7M429.8 330.1h6.7M430.6 327.6h6.7M431.4 329.1h6.7M432.2 329.6h6.7M433 330.3h6.7M433.8 330.8h6.7M434.6 331.9h6.7M435.4 332.2h6.7M436.2 331.7h6.7M437 332.1h6.7M437.8 330.6h6.7M438.6 331h6.7M439.4 332.6h6.7M440.2 332.5h6.7M441 332.4h6.7M441.8 333.4h6.7M442.6 334h6.7M443.4 333.1h6.7M444.2 334.3h6.7M445 334.5h6.7M445.8 335h6.7M446.6 334.5h6.7M447.4 334.7h6.7M448.2 335.5h6.7M449 336.2h6.7M449.8 336.7h6.7M450.6 337.6h6.7M451.4 337.5h6.7M452.2 337.9h6.7M453 337.8h6.7M453.8 338.1h6.7M454.6 338.9h6.7M455.4 340h6.7M456.2 339.2h6.7M457 339.9h6.7M457.8 339.5h6.7M458.6 339.2h6.7M459.4 340h6.7M460.2 340.4h6.7M461 340.5h6.7M461.8 340.3h6.7M462.6 342.3h6.7M463.4 341.7h6.7M464.2 341.7h6.7M465 340.1h6.7M465.8 340.9h6.7M466.6 342.3h6.7M467.4 343.4h6.7M468.2 341.8h6.7M469 342.6h6.7M469.8 342h6.7M470.6 343.5h6.7M471.4 344h6.7M472.2 345.5h6.7M473 345.1h6.7M473.8 345.7h6.7M474.6 346.4h6.7M475.4 346.2h6.7M476.2 347.4h6.7M477 348.1h6.7M477.8 348.4h6.7M478.6 348.3h6.7M479.4 346.4h6.7M480.2 347.2h6.7M481 346.6h6.7M481.8 348.8h6.7M482.6 348.9h6.7M483.4 348.8h6.7M484.2 350.6h6.7M485 353.5h6.7M485.8 352.6h6.7M486.6 346.5h6.7M487.4 353.5h6.7M488.2 355.4h6.7M489 350.9h6.7M489.8 354.5h6.7M490.6 353.4h6.7M491.4 352.8h6.7M492.2 349.6h6.7M493 354.6h6.7M493.8 357.2h6.7M494.6 357.5h6.7M495.4 359.3h6.7M496.2 357.7h6.7M497 362.3h6.7M497.8 357.8h6.7M498.6 353h6.7M499.4 352.9h6.7M500.2 361.7h6.7M501 361.5h6.7M501.8 357.9h6.7M502.6 357.7h6.7M503.4 360.6h6.7M504.2 356.1h6.7M505 356.7h6.7M505.8 359.4h6.7M506.6 360.5h6.7M507.4 359.8h6.7M508.2 358.5h6.7M509 357.3h6.7M509.8 358.3h6.7M510.6 358.9h6.7M511.4 361.4h6.7M512.2 359.3h6.7M513 363h6.7M513.8 355.7h6.7M514.6 358.7h6.7M515.4 355.9h6.7M516.2 361.8h6.7M517 357.4h6.7M517.8 361.6h6.7M518.6 363.4h6.7M519.4 364.3h6.7M520.2 359.6h6.7M521 362h6.7M521.8 359.9h6.7M522.6 362.1h6.7M523.4 359.2h6.7M524.2 360.4h6.7M525 362.6h6.7M525.8 361.6h6.7M526.6 364h6.7M527.4 363h6.7M528.2 367.1h6.7M529 369.2h6.7M529.8 360.5h6.7M530.6 367.4h6.7M531.4 363.8h6.7M532.2 368.5h6.7M533 361.4h6.7M533.8 368.2h6.7M534.6 359.7h6.7M535.4 359.3h6.7M536.2 359.6h6.7M537 367.5h6.7M537.8 359.3h6.7" fill="none" stroke="#cc3388" stroke-width="0.8"/>
<path d="M111 160.8v6.7M111.5 184.9v6.7M113.2 203.6v6.7M115.5 214.5v6.7M119 224.8v6.7M124.2 226.2v6.7M132.5 224.8v6.7M177 230.2v6.7M229.6 250.5v6.7M266.1 266v6.7M288.4 275.2v6.7M306.4 282.3v6.7M320.5 287.5v6.7M331.5 293v6.7M340.6 297.7v6.7M349.8 302.4v6.7M357.8 305.1v6.7M365 306.9v6.7M371.5 308.4v6.7M377.3 311.2v6.7M382.6 313.1v6.7M387.3 314.4v6.7M391.5 314.8v6.7M395.4 315.9v6.7M398.8 314.7v6.7M401.9 315.9v6.7M404.7 317.2v6.7M407.2 318v6.7M409.5 319.3v6.7M411.5 320.2v6.7M413.3 320.8v6.7M415 320v6.7M416.5 320.6v6.7M417.8 321.6v6.7M419 321.1v6.7M420.1 322.3v6.7M421 321.8v6.7M421.9 321.6v6.7M422.7 323.3v6.7M423.5 321.7v6.7M424.3 321.9v6.7M425.1 323.1v6.7M425.9 323.1v6.7M426.7 324v6.7M427.5 324.9v6.7M428.3 324.2v6.7M429.1 325v6.7M429.9 324.5v6.7M430.7 324.6v6.7M431.5 324.8v6.7M432.3 325.3v6.7M433.1 326.6v6.7M433.9 324.1v6.7M434.7 325.6v6.7M435.5 326.2v6.7M436.3 326.8v6.7M437.1 327.3v6.7M437.9 328.5v6.7M438.7 328.8v6.7M439.5 328.2v6.7M440.3 328.7v6.7M441.1 327.2v6.7M441.9 327.5v6.7M442.7 329.2v6.7M443.5 329.1v6.7M444.3 329v6.7M445.1 330v6.7M445.9 330.6v6.7M446.7 329.7v6.7M447.5 330.9v6.7M448.3 331.1v6.7M449.1 331.5v6.7M449.9 331.1v6.7M450.7 331.3v6.7M451.5 332.1v6.7M452.3 332.8v6.7M453.1 333.3v6.7M453.9 334.2v6.7M454.7 334.1v6.7M455.5 334.5v6.7M456.3 334.4v6.7M457.1 334.7v6.7M457.9 335.5v6.7M458.7 336.6v6.7M459.5 335.8v6.7M460.3 336.5v6.7M461.1 336.1v6.7M461.9 335.8v6.7M462.7 336.6v6.7M463.5 337v6.7M464.3 337.1v6.7M465.1 337v6.7M465.9 339v6.7M466.7 338.3v6.7M467.5 338.3v6.7M468.3 336.8v6.7M469.1 337.5v6.7M469.9 338.9v6.7M470.7 340v6.7M471.5 338.4v6.7M472.3 339.2v6.7M473.1 338.6v6.7M473.9 340.1v6.7M474.7 340.6v6.7M475.5 342.2v6.7M476.3 341.7v6.7M477.1 342.3v6.7M477.9 343.1v6.7M478.7 342.9v6.7M479.5 344v6.7M480.3 344.7v6.7M481.1 345v6.7M481.9 345v6.7M482.7 343v6.7M483.5 343.9v6.7M484.3 343.3v6.7M485.1 345.4v6.7M485.9 345.5v6.7M486.7 345.4v6.7M487.5 347.3v6.7M488.3 350.1v6.7M489.1 349.3v6.7M489.9 343.2v6.7M490.7 350.2v6.7M491.5 352v6.7M492.3 347.6v6.7M493.1 351.1v6.7M493.9 350.1v6.7M494.7 349.4v6.7M495.5 346.3v6.7M496.3 351.2v6.7M497.1 353.9v6.7M497.9 354.1v6.7M498.7 356v6.7M499.5 354.3v6.7M500.3 359v6.7M501.1 354.5v6.7M501.9 349.7v6.7M502.7 349.5v6.7M503.5 358.3v6.7M504.3 358.2v6.7M505.1 354.6v6.7M505.9 354.3v6.7M506.7 357.2v6.7M507.5 352.8v6.7M508.3 353.4v6.7M509.1 356v6.7M509.9 357.2v6.7M510.7 356.4v6.7M511.5 355.2v6.7M512.3 354v6.7M513.1 355v6.7M513.9 355.6v6.7M514.7 358.1v6.7M515.5 355.9v6.7M516.3 359.7v6.7M517.1 352.4v6.7M517.9 355.4v6.7M518.7 352.6v6.7M519.5 358.5v6.7M520.3 354v6.7M521.1 358.2v6.7M521.9 360v6.7M522.7 360.9v6.7M523.5 356.2v6.7M524.3 358.7v6.7M525.1 356.5v6.7M525.9 358.7v6.7M526.7 355.9v6.7M527.5 357v6.7M528.3 359.3v6.7M529.1 358.3v6.7M529.9 360.6v6.7M530.7 359.7v6.7M531.5 363.8v6.7M532.3 365.9v6.7M533.1 357.1v6.7M533.9 364.1v6.7M534.7 360.4v6.7M535.5 365.2v6.7M536.3 358.1v6.7M537.1 364.8v6.7M537.9 356.3v6.7M538.7 356v6.7M539.5 356.2v6.7M540.3 364.2v6.7M541.1 355.9v6.7" fill="none" stroke="#22c4d8" stroke-width="0.8"/>
<path d="M108.4 147.7h5.2v5.2h-5.2ZM108.9 175.2h5.2v5.2h-5.2ZM110.6 195.8h5.2v5.2h-5.2ZM112.9 207.9h5.2v5.2h-5.2ZM116.4 219.1h5.2v5.2h-5.2ZM121.6 221.2h5.2v5.2h-5.2ZM129.9 220.5h5.2v5.2h-5.2ZM174.4 228.3h5.2v5.2h-5.2ZM227 249.4h5.2v5.2h-5.2ZM263.5 265.2h5.2v5.2h-5.2ZM285.8 274.6h5.2v5.2h-5.2ZM303.8 281.9h5.2v5.2h-5.2ZM317.9 287.1h5.2v5.2h-5.2ZM328.9 292.9h5.2v5.2h-5.2ZM338 297.7h5.2v5.2h-5.2ZM347.2 302.6h5.2v5.2h-5.2ZM355.2 305.3h5.2v5.2h-5.2ZM362.4 307.1h5.2v5.2h-5.2ZM368.9 308.7h5.2v5.2h-5.2ZM374.7 311.5h5.2v5.2h-5.2ZM380 313.5h5.2v5.2h-5.2ZM384.7 314.8h5.2v5.2h-5.2ZM388.9 315.2h5.2v5.2h-5.2ZM392.8 316.4h5.2v5.2h-5.2ZM396.2 315.2h5.2v5.2h-5.2ZM399.3 316.3h5.2v5.2h-5.2ZM402.1 317.7h5.2v5.2h-5.2ZM404.6 318.5h5.2v5.2h-5.2ZM406.9 319.8h5.2v5.2h-5.2ZM408.9 320.7h5.2v5.2h-5.2ZM410.7 321.4h5.2v5.2h-5.2ZM412.4 320.5h5.2v5.2h-5.2ZM413.9 321.2h5.2v5.2h-5.2ZM415.2 322.2h5.2v5.2h-5.2ZM416.4 321.7h5.2v5.2h-5.2ZM417.5 322.9h5.2v5.2h-5.2ZM418.4 322.3h5.2v5.2h-5.2ZM419.3 322.1h5.2v5.2h-5.2ZM420.1 323.9h5.2v5.2h-5.2ZM420.9 322.3h5.2v5.2h-5.2ZM421.7 322.5h5.2v5.2h-5.2ZM422.5 323.6h5.2v5.2h-5.2ZM423.3 323.6h5.2v5.2h-5.2ZM424.1 324.6h5.2v5.2h-5.2ZM424.9 325.5h5.2v5.2h-5.2ZM425.7 324.8h5.2v5.2h-5.2ZM426.5 325.6h5.2v5.2h-5.2ZM427.3 325.1h5.2v5.2h-5.2ZM428.1 325.2h5.2v5.2h-5.2ZM428.9 325.4h5.2v5.2h-5.2ZM429.7 325.9h5.2v5.2h-5.2ZM430.5 327.2h5.2v5.2h-5.2ZM431.3 324.7h5.2v5.2h-5.2ZM432.1 326.2h5.2v5.2h-5.2ZM432.9 326.8h5.2v5.2h-5.2ZM433.7 327.4h5.2v5.2h-5.2ZM434.5 328h5.2v5.2h-5.2ZM435.3 329.1h5.2v5.2h-5.2ZM436.1 329.4h5.2v5.2h-5.2ZM436.9 328.9h5.2v5.2h-5.2ZM437.7 329.3h5.2v5.2h-5.2ZM438.5 327.8h5.2v5.2h-5.2ZM439.3 328.2h5.2v5.2h-5.2ZM440.1 329.8h5.2v5.2h-5.2ZM440.9 329.7h5.2v5.2h-5.2ZM441.7 329.6h5.2v5.2h-5.2ZM442.5 330.6h5.2v5.2h-5.2ZM443.3 331.2h5.2v5.2h-5.2ZM444.1 330.4h5.2v5.2h-5.2ZM444.9 331.5h5.2v5.2h-5.2ZM445.7 331.7h5.2v5.2h-5.2ZM446.5 332.2h5.2v5.2h-5.2ZM447.3 331.7h5.2v5.2h-5.2ZM448.1 331.9h5.2v5.2h-5.2ZM448.9 332.7h5.2v5.2h-5.2ZM449.7 333.4h5.2v5.2h-5.2ZM450.5 334h5.2v5.2h-5.2ZM451.3 334.9h5.2v5.2h-5.2ZM452.1 334.8h5.2v5.2h-5.2ZM452.9 335.2h5.2v5.2h-5.2ZM453.7 335h5.2v5.2h-5.2ZM454.5 335.4h5.2v5.2h-5.2ZM455.3 336.2h5.2v5.2h-5.2ZM456.1 337.2h5.2v5.2h-5.2ZM456.9 336.5h5.2v5.2h-5.2ZM457.7 337.2h5.2v5.2h-5.2ZM458.5 336.8h5.2v5.2h-5.2ZM459.3 336.5h5.2v5.2h-5.2ZM460.1 337.3h5.2v5.2h-5.2ZM460.9 337.7h5.2v5.2h-5.2ZM461.7 337.8h5.2v5.2h-5.2ZM462.5 337.6h5.2v5.2h-5.2ZM463.3 339.6h5.2v5.2h-5.2ZM464.1 339h5.2v5.2h-5.2ZM464.9 339h5.2v5.2h-5.2ZM465.7 337.4h5.2v5.2h-5.2ZM466.5 338.2h5.2v5.2h-5.2ZM467.3 339.6h5.2v5.2h-5.2ZM468.1 340.7h5.2v5.2h-5.2ZM468.9 339.1h5.2v5.2h-5.2ZM469.7 339.9h5.2v5.2h-5.2ZM470.5 339.3h5.2v5.2h-5.2ZM471.3 340.8h5.2v5.2h-5.2ZM472.1 341.3h5.2v5.2h-5.2ZM472.9 342.8h5.2v5.2h-5.2ZM473.7 342.4h5.2v5.2h-5.2ZM474.5 343h5.2v5.2h-5.2ZM475.3 343.7h5.2v5.2h-5.2ZM476.1 343.6h5.2v5.2h-5.2ZM476.9 344.7h5.2v5.2h-5.2ZM477.7 345.4h5.2v5.2h-5.2ZM478.5 345.7h5.2v5.2h-5.2ZM479.3 345.7h5.2v5.2h-5.2ZM480.1 343.7h5.2v5.2h-5.2ZM480.9 344.6h5.2v5.2h-5.2ZM481.7 344h5.2v5.2h-5.2ZM482.5 346.1h5.2v5.2h-5.2ZM483.3 346.3h5.2v5.2h-5.2ZM484.1 346.2h5.2v5.2h-5.2ZM484.9 348h5.2v5.2h-5.2ZM485.7 350.8h5.2v5.2h-5.2ZM486.5 350h5.2v5.2h-5.2ZM487.3 343.9h5.2v5.2h-5.2ZM488.1 350.9h5.2v5.2h-5.2ZM488.9 352.7h5.2v5.2h-5.2ZM489.7 348.3h5.2v5.2h-5.2ZM490.5 351.9h5.2v5.2h-5.2ZM491.3 350.8h5.2v5.2h-5.2ZM492.1 350.2h5.2v5.2h-5.2ZM492.9 347h5.2v5.2h-5.2ZM493.7 352h5.2v5.2h-5.2ZM494.5 354.6h5.2v5.2h-5.2ZM495.3 354.9h5.2v5.2h-5.2ZM496.1 356.7h5.2v5.2h-5.2ZM496.9 355.1h5.2v5.2h-5.2ZM497.7 359.7h5.2v5.2h-5.2ZM498.5 355.2h5.2v5.2h-5.2ZM499.3 350.4h5.2v5.2h-5.2ZM500.1 350.3h5.2v5.2h-5.2ZM500.9 359.1h5.2v5.2h-5.2ZM501.7 358.9h5.2v5.2h-5.2ZM502.5 355.3h5.2v5.2h-5.2ZM503.3 355.1h5.2v5.2h-5.2ZM504.1 358h5.2v5.2h-5.2ZM504.9 353.5h5.2v5.2h-5.2ZM505.7 354.1h5.2v5.2h-5.2ZM506.5 356.8h5.2v5.2h-5.2ZM507.3 357.9h5.2v5.2h-5.2ZM508.1 357.2h5.2v5.2h-5.2ZM508.9 355.9h5.2v5.2h-5.2ZM509.7 354.7h5.2v5.2h-5.2ZM510.5 355.7h5.2v5.2h-5.2ZM511.3 356.3h5.2v5.2h-5.2ZM512.1 358.8h5.2v5.2h-5.2ZM512.9 356.7h5.2v5.2h-5.2ZM513.7 360.4h5.2v5.2h-5.2ZM514.5 353.1h5.2v5.2h-5.2ZM515.3 356.1h5.2v5.2h-5.2ZM516.1 353.3h5.2v5.2h-5.2ZM516.9 359.2h5.2v5.2h-5.2ZM517.7 354.8h5.2v5.2h-5.2ZM518.5 359h5.2v5.2h-5.2ZM519.3 360.8h5.2v5.2h-5.2ZM520.1 361.7h5.2v5.2h-5.2ZM520.9 357h5.2v5.2h-5.2ZM521.7 359.4h5.2v5.2h-5.2ZM522.5 357.3h5.2v5.2h-5.2ZM523.3 359.5h5.2v5.2h-5.2ZM524.1 356.6h5.2v5.2h-5.2ZM524.9 357.8h5.2v5.2h-5.2ZM525.7 360h5.2v5.2h-5.2ZM526.5 359h5.2v5.2h-5.2ZM527.3 361.4h5.2v5.2h-5.2ZM528.1 360.4h5.2v5.2h-5.2ZM528.9 364.5h5.2v5.2h-5.2ZM529.7 366.6h5.2v5.2h-5.2ZM530.5 357.9h5.2v5.2h-5.2ZM531.3 364.8h5.2v5.2h-5.2ZM532.1 361.2h5.2v5.2h-5.2ZM532.9 365.9h5.2v5.2h-5.2ZM533.7 358.8h5.2v5.2h-5.2ZM534.5 365.6h5.2v5.2h-5.2ZM535.3 357.1h5.2v5.2h-5.2ZM536.1 356.7h5.2v5.2h-5.2ZM536.9 357h5.2v5.2h-5.2ZM537.7 364.9h5.2v5.2h-5.2ZM538.5 356.7h5.2v5.2h-5.2Z" fill="#3038a8"/>
<path d="M108.1 136.5a2.9 2.9 0 1 0 5.8 0a2.9 2.9 0 1 0 -5.8 0ZM108.6 167.3a2.9 2.9 0 1 0 5.8 0a2.9 2.9 0 1 0 -5.8 0ZM110.3 189.8a2.9 2.9 0 1 0 5.8 0a2.9 2.9 0 1 0 -5.8 0ZM112.6 203.1a2.9 2.9 0 1 0 5.8 0a2.9 2.9 0 1 0 -5.8 0ZM116.1 215.3a2.9 2.9 0 1 0 5.8 0a2.9 2.9 0 1 0 -5.8 0ZM121.3 218.1a2.9 2.9 0 1 0 5.8 0a2.9 2.9 0 1 0 -5.8 0ZM129.6 218.1a2.9 2.9 0 1 0 5.8 0a2.9 2.9 0 1 0 -5.8 0ZM174.1 228.1a2.9 2.9 0 1 0 5.8 0a2.9 2.9 0 1 0 -5.8 0ZM226.7 250.1a2.9 2.9 0 1 0 5.8 0a2.9 2.9 0 1 0 -5.8 0ZM263.2 266.3a2.9 2.9 0 1 0 5.8 0a2.9 2.9 0 1 0 -5.8 0ZM285.5 275.9a2.9 2.9 0 1 0 5.8 0a2.9 2.9 0 1 0 -5.8 0ZM303.5 283.4a2.9 2.9 0 1 0 5.8 0a2.9 2.9 0 1 0 -5.8 0ZM317.6 288.7a2.9 2.9 0 1 0 5.8 0a2.9 2.9 0 1 0 -5.8 0ZM328.6 294.6a2.9 2.9 0 1 0 5.8 0a2.9 2.9 0 1 0 -5.8 0ZM337.7 299.6a2.9 2.9 0 1 0 5.8 0a2.9 2.9 0 1 0 -5.8 0ZM346.9 304.6a2.9 2.9 0 1 0 5.8 0a2.9 2.9 0 1 0 -5.8 0ZM354.9 307.4a2.9 2.9 0 1 0 5.8 0a2.9 2.9 0 1 0 -5.8 0ZM362.1 309.3a2.9 2.9 0 1 0 5.8 0a2.9 2.9 0 1 0 -5.8 0ZM368.6 310.9a2.9 2.9 0 1 0 5.8 0a2.9 2.9 0 1 0 -5.8 0ZM374.4 313.7a2.9 2.9 0 1 0 5.8 0a2.9 2.9 0 1 0 -5.8 0ZM379.6 315.7a2.9 2.9 0 1 0 5.8 0a2.9 2.9 0 1 0 -5.8 0ZM384.4 317.1a2.9 2.9 0 1 0 5.8 0a2.9 2.9 0 1 0 -5.8 0ZM388.6 317.5a2.9 2.9 0 1 0 5.8 0a2.9 2.9 0 1 0 -5.8 0ZM392.5 318.7a2.9 2.9 0 1 0 5.8 0a2.9 2.9 0 1 0 -5.8 0ZM395.9 317.5a2.9 2.9 0 1 0 5.8 0a2.9 2.9 0 1 0 -5.8 0ZM399 318.7a2.9 2.9 0 1 0 5.8 0a2.9 2.9 0 1 0 -5.8 0ZM401.8 320.1a2.9 2.9 0 1 0 5.8 0a2.9 2.9 0 1 0 -5.8 0ZM404.3 320.9a2.9 2.9 0 1 0 5.8 0a2.9 2.9 0 1 0 -5.8 0ZM406.6 322.2a2.9 2.9 0 1 0 5.8 0a2.9 2.9 0 1 0 -5.8 0ZM408.6 323.1a2.9 2.9 0 1 0 5.8 0a2.9 2.9 0 1 0 -5.8 0ZM410.4 323.8a2.9 2.9 0 1 0 5.8 0a2.9 2.9 0 1 0 -5.8 0ZM412.1 323a2.9 2.9 0 1 0 5.8 0a2.9 2.9 0 1 0 -5.8 0ZM413.5 323.6a2.9 2.9 0 1 0 5.8 0a2.9 2.9 0 1 0 -5.8 0ZM414.9 324.6a2.9 2.9 0 1 0 5.8 0a2.9 2.9 0 1 0 -5.8 0ZM416.1 324.1a2.9 2.9 0 1 0 5.8 0a2.9 2.9 0 1 0 -5.8 0ZM417.2 325.3a2.9 2.9 0 1 0 5.8 0a2.9 2.9 0 1 0 -5.8 0ZM418.1 324.8a2.9 2.9 0 1 0 5.8 0a2.9 2.9 0 1 0 -5.8 0ZM419 324.6a2.9 2.9 0 1 0 5.8 0a2.9 2.9 0 1 0 -5.8 0ZM419.8 326.3a2.9 2.9 0 1 0 5.8 0a2.9 2.9 0 1 0 -5.8 0ZM420.6 324.7a2.9 2.9 0 1 0 5.8 0a2.9 2.9 0 1 0 -5.8 0ZM421.4 325a2.9 2.9 0 1 0 5.8 0a2.9 2.9 0 1 0 -5.8 0ZM422.2 326.1a2.9 2.9 0 1 0 5.8 0a2.9 2.9 0 1 0 -5.8 0ZM423 326.1a2.9 2.9 0 1 0 5.8 0a2.9 2.9 0 1 0 -5.8 0ZM423.8 327.1a2.9 2.9 0 1 0 5.8 0a2.9 2.9 0 1 0 -5.8 0ZM424.6 327.9a2.9 2.9 0 1 0 5.8 0a2.9 2.9 0 1 0 -5.8 0ZM425.4 327.3a2.9 2.9 0 1 0 5.8 0a2.9 2.9 0 1 0 -5.8 0ZM426.2 328.1a2.9 2.9 0 1 0 5.8 0a2.9 2.9 0 1 0 -5.8 0ZM427 327.6a2.9 2.9 0 1 0 5.8 0a2.9 2.9 0 1 0 -5.8 0ZM427.8 327.6a2.9 2.9 0 1 0 5.8 0a2.9 2.9 0 1 0 -5.8 0ZM428.6 327.9a2.9 2.9 0 1 0 5.8 0a2.9 2.9 0 1 0 -5.8 0ZM429.4 328.4a2.9 2.9 0 1 0 5.8 0a2.9 2.9 0 1 0 -5.8 0ZM430.2 329.7a2.9 2.9 0 1 0 5.8 0a2.9 2.9 0 1 0 -5.8 0ZM431 327.2a2.9 2.9 0 1 0 5.8 0a2.9 2.9 0 1 0 -5.8 0ZM431.8 328.7a2.9 2.9 0 1 0 5.8 0a2.9 2.9 0 1 0 -5.8 0ZM432.6 329.3a2.9 2.9 0 1 0 5.8 0a2.9 2.9 0 1 0 -5.8 0ZM433.4 329.9a2.9 2.9 0 1 0 5.8 0a2.9 2.9 0 1 0 -5.8 0ZM434.2 330.5a2.9 2.9 0 1 0 5.8 0a2.9 2.9 0 1 0 -5.8 0ZM435 331.6a2.9 2.9 0 1 0 5.8 0a2.9 2.9 0 1 0 -5.8 0ZM435.8 331.9a2.9 2.9 0 1 0 5.8 0a2.9 2.9 0 1 0 -5.8 0ZM436.6 331.4a2.9 2.9 0 1 0 5.8 0a2.9 2.9 0 1 0 -5.8 0ZM437.4 331.8a2.9 2.9 0 1 0 5.8 0a2.9 2.9 0 1 0 -5.8 0ZM438.2 330.3a2.9 2.9 0 1 0 5.8 0a2.9 2.9 0 1 0 -5.8 0ZM439 330.7a2.9 2.9 0 1 0 5.8 0a2.9 2.9 0 1 0 -5.8 0ZM439.8 332.3a2.9 2.9 0 1 0 5.8 0a2.9 2.9 0 1 0 -5.8 0ZM440.6 332.2a2.9 2.9 0 1 0 5.8 0a2.9 2.9 0 1 0 -5.8 0ZM441.4 332.2a2.9 2.9 0 1 0 5.8 0a2.9 2.9 0 1 0 -5.8 0ZM442.2 333.1a2.9 2.9 0 1 0 5.8 0a2.9 2.9 0 1 0 -5.8 0ZM443 333.7a2.9 2.9 0 1 0 5.8 0a2.9 2.9 0 1 0 -5.8 0ZM443.8 332.9a2.9 2.9 0 1 0 5.8 0a2.9 2.9 0 1 0 -5.8 0ZM444.6 334.1a2.9 2.9 0 1 0 5.8 0a2.9 2.9 0 1 0 -5.8 0ZM445.4 334.2a2.9 2.9 0 1 0 5.8 0a2.9 2.9 0 1 0 -5.8 0ZM446.2 334.7a2.9 2.9 0 1 0 5.8 0a2.9 2.9 0 1 0 -5.8 0ZM447 334.2a2.9 2.9 0 1 0 5.8 0a2.9 2.9 0 1 0 -5.8 0ZM447.8 334.4a2.9 2.9 0 1 0 5.8 0a2.9 2.9 0 1 0 -5.8 0ZM448.6 335.2a2.9 2.9 0 1 0 5.8 0a2.9 2.9 0 1 0 -5.8 0ZM449.4 336a2.9 2.9 0 1 0 5.8 0a2.9 2.9 0 1 0 -5.8 0ZM450.2 336.5a2.9 2.9 0 1 0 5.8 0a2.9 2.9 0 1 0 -5.8 0ZM451 337.4a2.9 2.9 0 1 0 5.8 0a2.9 2.9 0 1 0 -5.8 0ZM451.8 337.3a2.9 2.9 0 1 0 5.8 0a2.9 2.9 0 1 0 -5.8 0ZM452.6 337.7a2.9 2.9 0 1 0 5.8 0a2.9 2.9 0 1 0 -5.8 0ZM453.4 337.5a2.9 2.9 0 1 0 5.8 0a2.9 2.9 0 1 0 -5.8 0ZM454.2 337.9a2.9 2.9 0 1 0 5.8 0a2.9 2.9 0 1 0 -5.8 0ZM455 338.7a2.9 2.9 0 1 0 5.8 0a2.9 2.9 0 1 0 -5.8 0ZM455.8 339.8a2.9 2.9 0 1 0 5.8 0a2.9 2.9 0 1 0 -5.8 0ZM456.6 339a2.9 2.9 0 1 0 5.8 0a2.9 2.9 0 1 0 -5.8 0ZM457.4 339.7a2.9 2.9 0 1 0 5.8 0a2.9 2.9 0 1 0 -5.8 0ZM458.2 339.3a2.9 2.9 0 1 0 5.8 0a2.9 2.9 0 1 0 -5.8 0ZM459 339.1a2.9 2.9 0 1 0 5.8 0a2.9 2.9 0 1 0 -5.8 0ZM459.8 339.8a2.9 2.9 0 1 0 5.8 0a2.9 2.9 0 1 0 -5.8 0ZM460.6 340.2a2.9 2.9 0 1 0 5.8 0a2.9 2.9 0 1 0 -5.8 0ZM461.4 340.3a2.9 2.9 0 1 0 5.8 0a2.9 2.9 0 1 0 -5.8 0ZM462.2 340.2a2.9 2.9 0 1 0 5.8 0a2.9 2.9 0 1 0 -5.8 0ZM463 342.2a2.9 2.9 0 1 0 5.8 0a2.9 2.9 0 1 0 -5.8 0ZM463.8 341.5a2.9 2.9 0 1 0 5.8 0a2.9 2.9 0 1 0 -5.8 0ZM464.6 341.5a2.9 2.9 0 1 0 5.8 0a2.9 2.9 0 1 0 -5.8 0ZM465.4 340a2.9 2.9 0 1 0 5.8 0a2.9 2.9 0 1 0 -5.8 0ZM466.2 340.8a2.9 2.9 0 1 0 5.8 0a2.9 2.9 0 1 0 -5.8 0ZM467 342.1a2.9 2.9 0 1 0 5.8 0a2.9 2.9 0 1 0 -5.8 0ZM467.8 343.3a2.9 2.9 0 1 0 5.8 0a2.9 2.9 0 1 0 -5.8 0ZM468.6 341.6a2.9 2.9 0 1 0 5.8 0a2.9 2.9 0 1 0 -5.8 0ZM469.4 342.4a2.9 2.9 0 1 0 5.8 0a2.9 2.9 0 1 0 -5.8 0ZM470.2 341.9a2.9 2.9 0 1 0 5.8 0a2.9 2.9 0 1 0 -5.8 0ZM471 343.4a2.9 2.9 0 1 0 5.8 0a2.9 2.9 0 1 0 -5.8 0ZM471.8 343.9a2.9 2.9 0 1 0 5.8 0a2.9 2.9 0 1 0 -5.8 0ZM472.6 345.4a2.9 2.9 0 1 0 5.8 0a2.9 2.9 0 1 0 -5.8 0ZM473.4 344.9a2.9 2.9 0 1 0 5.8 0a2.9 2.9 0 1 0 -5.8 0ZM474.2 345.6a2.9 2.9 0 1 0 5.8 0a2.9 2.9 0 1 0 -5.8 0ZM475 346.3a2.9 2.9 0 1 0 5.8 0a2.9 2.9 0 1 0 -5.8 0ZM475.8 346.1a2.9 2.9 0 1 0 5.8 0a2.9 2.9 0 1 0 -5.8 0ZM476.6 347.3a2.9 2.9 0 1 0 5.8 0a2.9 2.9 0 1 0 -5.8 0ZM477.4 348a2.9 2.9 0 1 0 5.8 0a2.9 2.9 0 1 0 -5.8 0ZM478.2 348.3a2.9 2.9 0 1 0 5.8 0a2.9 2.9 0 1 0 -5.8 0ZM479 348.3a2.9 2.9 0 1 0 5.8 0a2.9 2.9 0 1 0 -5.8 0ZM479.8 346.3a2.9 2.9 0 1 0 5.8 0a2.9 2.9 0 1 0 -5.8 0ZM480.6 347.2a2.9 2.9 0 1 0 5.8 0a2.9 2.9 0 1 0 -5.8 0ZM481.4 346.5a2.9 2.9 0 1 0 5.8 0a2.9 2.9 0 1 0 -5.8 0ZM482.2 348.7a2.9 2.9 0 1 0 5.8 0a2.9 2.9 0 1 0 -5.8 0ZM483 348.8a2.9 2.9 0 1 0 5.8 0a2.9 2.9 0 1 0 -5.8 0ZM483.8 348.7a2.9 2.9 0 1 0 5.8 0a2.9 2.9 0 1 0 -5.8 0ZM484.6 350.6a2.9 2.9 0 1 0 5.8 0a2.9 2.9 0 1 0 -5.8 0ZM485.4 353.4a2.9 2.9 0 1 0 5.8 0a2.9 2.9 0 1 0 -5.8 0ZM486.2 352.6a2.9 2.9 0 1 0 5.8 0a2.9 2.9 0 1 0 -5.8 0ZM487 346.5a2.9 2.9 0 1 0 5.8 0a2.9 2.9 0 1 0 -5.8 0ZM487.8 353.5a2.9 2.9 0 1 0 5.8 0a2.9 2.9 0 1 0 -5.8 0ZM488.6 355.3a2.9 2.9 0 1 0 5.8 0a2.9 2.9 0 1 0 -5.8 0ZM489.4 350.9a2.9 2.9 0 1 0 5.8 0a2.9 2.9 0 1 0 -5.8 0ZM490.2 354.5a2.9 2.9 0 1 0 5.8 0a2.9 2.9 0 1 0 -5.8 0ZM491 353.4a2.9 2.9 0 1 0 5.8 0a2.9 2.9 0 1 0 -5.8 0ZM491.8 352.8a2.9 2.9 0 1 0 5.8 0a2.9 2.9 0 1 0 -5.8 0ZM492.6 349.6a2.9 2.9 0 1 0 5.8 0a2.9 2.9 0 1 0 -5.8 0ZM493.4 354.6a2.9 2.9 0 1 0 5.8 0a2.9 2.9 0 1 0 -5.8 0ZM494.2 357.2a2.9 2.9 0 1 0 5.8 0a2.9 2.9 0 1 0 -5.8 0ZM495 357.5a2.9 2.9 0 1 0 5.8 0a2.9 2.9 0 1 0 -5.8 0ZM495.8 359.3a2.9 2.9 0 1 0 5.8 0a2.9 2.9 0 1 0 -5.8 0ZM496.6 357.7a2.9 2.9 0 1 0 5.8 0a2.9 2.9 0 1 0 -5.8 0ZM497.4 362.3a2.9 2.9 0 1 0 5.8 0a2.9 2.9 0 1 0 -5.8 0ZM498.2 357.8a2.9 2.9 0 1 0 5.8 0a2.9 2.9 0 1 0 -5.8 0ZM499 353a2.9 2.9 0 1 0 5.8 0a2.9 2.9 0 1 0 -5.8 0ZM499.8 352.9a2.9 2.9 0 1 0 5.8 0a2.9 2.9 0 1 0 -5.8 0ZM500.6 361.7a2.9 2.9 0 1 0 5.8 0a2.9 2.9 0 1 0 -5.8 0ZM501.4 361.5a2.9 2.9 0 1 0 5.8 0a2.9 2.9 0 1 0 -5.8 0ZM502.2 357.9a2.9 2.9 0 1 0 5.8 0a2.9 2.9 0 1 0 -5.8 0ZM503 357.7a2.9 2.9 0 1 0 5.8 0a2.9 2.9 0 1 0 -5.8 0ZM503.8 360.6a2.9 2.9 0 1 0 5.8 0a2.9 2.9 0 1 0 -5.8 0ZM504.6 356.1a2.9 2.9 0 1 0 5.8 0a2.9 2.9 0 1 0 -5.8 0ZM505.4 356.7a2.9 2.9 0 1 0 5.8 0a2.9 2.9 0 1 0 -5.8 0ZM506.2 359.4a2.9 2.9 0 1 0 5.8 0a2.9 2.9 0 1 0 -5.8 0ZM507 360.5a2.9 2.9 0 1 0 5.8 0a2.9 2.9 0 1 0 -5.8 0ZM507.8 359.8a2.9 2.9 0 1 0 5.8 0a2.9 2.9 0 1 0 -5.8 0ZM508.6 358.5a2.9 2.9 0 1 0 5.8 0a2.9 2.9 0 1 0 -5.8 0ZM509.4 357.3a2.9 2.9 0 1 0 5.8 0a2.9 2.9 0 1 0 -5.8 0ZM510.2 358.3a2.9 2.9 0 1 0 5.8 0a2.9 2.9 0 1 0 -5.8 0ZM511 358.9a2.9 2.9 0 1 0 5.8 0a2.9 2.9 0 1 0 -5.8 0ZM511.8 361.4a2.9 2.9 0 1 0 5.8 0a2.9 2.9 0 1 0 -5.8 0ZM512.6 359.3a2.9 2.9 0 1 0 5.8 0a2.9 2.9 0 1 0 -5.8 0ZM513.4 363a2.9 2.9 0 1 0 5.8 0a2.9 2.9 0 1 0 -5.8 0ZM514.2 355.7a2.9 2.9 0 1 0 5.8 0a2.9 2.9 0 1 0 -5.8 0ZM515 358.7a2.9 2.9 0 1 0 5.8 0a2.9 2.9 0 1 0 -5.8 0ZM515.8 355.9a2.9 2.9 0 1 0 5.8 0a2.9 2.9 0 1 0 -5.8 0ZM516.6 361.8a2.9 2.9 0 1 0 5.8 0a2.9 2.9 0 1 0 -5.8 0ZM517.4 357.4a2.9 2.9 0 1 0 5.8 0a2.9 2.9 0 1 0 -5.8 0ZM518.2 361.6a2.9 2.9 0 1 0 5.8 0a2.9 2.9 0 1 0 -5.8 0ZM519 363.4a2.9 2.9 0 1 0 5.8 0a2.9 2.9 0 1 0 -5.8 0ZM519.8 364.3a2.9 2.9 0 1 0 5.8 0a2.9 2.9 0 1 0 -5.8 0ZM520.6 359.6a2.9 2.9 0 1 0 5.8 0a2.9 2.9 0 1 0 -5.8 0ZM521.4 362a2.9 2.9 0 1 0 5.8 0a2.9 2.9 0 1 0 -5.8 0ZM522.2 359.9a2.9 2.9 0 1 0 5.8 0a2.9 2.9 0 1 0 -5.8 0ZM523 362.1a2.9 2.9 0 1 0 5.8 0a2.9 2.9 0 1 0 -5.8 0ZM523.8 359.2a2.9 2.9 0 1 0 5.8 0a2.9 2.9 0 1 0 -5.8 0ZM524.6 360.4a2.9 2.9 0 1 0 5.8 0a2.9 2.9 0 1 0 -5.8 0ZM525.4 362.6a2.9 2.9 0 1 0 5.8 0a2.9 2.9 0 1 0 -5.8 0ZM526.2 361.6a2.9 2.9 0 1 0 5.8 0a2.9 2.9 0 1 0 -5.8 0ZM527 364a2.9 2.9 0 1 0 5.8 0a2.9 2.9 0 1 0 -5.8 0ZM527.8 363a2.9 2.9 0 1 0 5.8 0a2.9 2.9 0 1 0 -5.8 0ZM528.6 367.1a2.9 2.9 0 1 0 5.8 0a2.9 2.9 0 1 0 -5.8 0ZM529.4 369.2a2.9 2.9 0 1 0 5.8 0a2.9 2.9 0 1 0 -5.8 0ZM530.2 360.5a2.9 2.9 0 1 0 5.8 0a2.9 2.9 0 1 0 -5.8 0ZM531 367.4a2.9 2.9 0 1 0 5.8 0a2.9 2.9 0 1 0 -5.8 0ZM531.8 363.8a2.9 2.9 0 1 0 5.8 0a2.9 2.9 0 1 0 -5.8 0ZM532.6 368.5a2.9 2.9 0 1 0 5.8 0a2.9 2.9 0 1 0 -5.8 0ZM533.4 361.4a2.9 2.9 0 1 0 5.8 0a2.9 2.9 0 1 0 -5.8 0ZM534.2 368.2a2.9 2.9 0 1 0 5.8 0a2.9 2.9 0 1 0 -5.8 0ZM535 359.7a2.9 2.9 0 1 0 5.8 0a2.9 2.9 0 1 0 -5.8 0ZM535.8 359.3a2.9 2.9 0 1 0 5.8 0a2.9 2.9 0 1 0 -5.8 0ZM536.6 359.6a2.9 2.9 0 1 0 5.8 0a2.9 2.9 0 1 0 -5.8 0ZM537.4 367.5a2.9 2.9 0 1 0 5.8 0a2.9 2.9 0 1 0 -5.8 0ZM538.2 359.3a2.9 2.9 0 1 0 5.8 0a2.9 2.9 0 1 0 -5.8 0Z" fill="#9aa81e"/>
<path d="M111 119.5L114.4 125.4L107.6 125.4ZM111.5 153.8L114.9 159.6L108.1 159.6ZM113.2 178.2L116.6 184L109.8 184ZM115.5 192.6L118.9 198.5L112.1 198.5ZM119 205.7L122.4 211.6L115.6 211.6ZM124.2 209.3L127.6 215.1L120.8 215.1ZM132.5 209.9L135.9 215.8L129.1 215.8ZM177 222.3L180.4 228.1L173.6 228.1ZM229.6 245.1L233 250.9L226.2 250.9ZM266.1 261.6L269.5 267.5L262.7 267.5ZM288.4 271.4L291.8 277.2L285 277.2ZM306.4 279.1L309.8 285L303 285ZM320.5 284.5L323.9 290.3L317.1 290.3ZM331.5 290.6L334.9 296.4L328.1 296.4ZM340.6 295.8L344 301.6L337.2 301.6ZM349.8 300.9L353.2 306.8L346.4 306.8ZM357.8 303.7L361.2 309.6L354.4 309.6ZM365 305.7L368.4 311.5L361.6 311.5ZM371.5 307.4L374.9 313.2L368 313.2ZM377.3 310.2L380.7 316L373.9 316ZM382.6 312.2L386 318.1L379.1 318.1ZM387.3 313.7L390.7 319.5L383.9 319.5ZM391.5 314.1L395 319.9L388.1 319.9ZM395.4 315.3L398.8 321.1L391.9 321.1ZM398.8 314.2L402.2 320L395.4 320ZM401.9 315.3L405.3 321.2L398.5 321.2ZM404.7 316.7L408.1 322.6L401.3 322.6ZM407.2 317.6L410.6 323.4L403.8 323.4ZM409.5 318.9L412.9 324.7L406 324.7ZM411.5 319.8L414.9 325.6L408.1 325.6ZM413.3 320.5L416.8 326.3L409.9 326.3ZM415 319.7L418.4 325.5L411.5 325.5ZM416.5 320.3L419.9 326.1L413 326.1ZM417.8 321.3L421.2 327.2L414.4 327.2ZM419 320.8L422.4 326.7L415.6 326.7ZM420.1 322L423.5 327.8L416.6 327.8ZM421 321.5L424.5 327.3L417.6 327.3ZM421.9 321.3L425.4 327.1L418.5 327.1ZM422.7 323.1L426.2 328.9L419.3 328.9ZM423.5 321.4L427 327.3L420.1 327.3ZM424.3 321.7L427.8 327.5L420.9 327.5ZM425.1 322.8L428.6 328.7L421.7 328.7ZM425.9 322.8L429.4 328.7L422.5 328.7ZM426.7 323.8L430.2 329.6L423.3 329.6ZM427.5 324.7L431 330.5L424.1 330.5ZM428.3 324L431.8 329.9L424.9 329.9ZM429.1 324.9L432.6 330.7L425.7 330.7ZM429.9 324.4L433.4 330.2L426.5 330.2ZM430.7 324.4L434.2 330.2L427.3 330.2ZM431.5 324.7L435 330.5L428.1 330.5ZM432.3 325.1L435.8 331L428.9 331ZM433.1 326.5L436.6 332.3L429.7 332.3ZM433.9 324L437.4 329.8L430.5 329.8ZM434.7 325.5L438.2 331.3L431.3 331.3ZM435.5 326.1L439 331.9L432.1 331.9ZM436.3 326.7L439.8 332.5L432.9 332.5ZM437.1 327.2L440.6 333.1L433.7 333.1ZM437.9 328.4L441.4 334.2L434.5 334.2ZM438.7 328.7L442.2 334.5L435.3 334.5ZM439.5 328.2L443 334L436.1 334ZM440.3 328.6L443.8 334.4L436.9 334.4ZM441.1 327.1L444.6 332.9L437.7 332.9ZM441.9 327.5L445.4 333.3L438.5 333.3ZM442.7 329.1L446.2 334.9L439.3 334.9ZM443.5 329L447 334.8L440.1 334.8ZM444.3 328.9L447.8 334.8L440.9 334.8ZM445.1 329.9L448.6 335.7L441.7 335.7ZM445.9 330.5L449.4 336.4L442.5 336.4ZM446.7 329.7L450.2 335.5L443.3 335.5ZM447.5 330.8L451 336.7L444.1 336.7ZM448.3 331L451.8 336.9L444.9 336.9ZM449.1 331.5L452.6 337.3L445.7 337.3ZM449.9 331L453.4 336.9L446.5 336.9ZM450.7 331.3L454.2 337.1L447.3 337.1ZM451.5 332L455 337.9L448.1 337.9ZM452.3 332.8L455.8 338.6L448.9 338.6ZM453.1 333.3L456.6 339.1L449.7 339.1ZM453.9 334.2L457.4 340L450.5 340ZM454.7 334.1L458.2 339.9L451.3 339.9ZM455.5 334.5L459 340.3L452.1 340.3ZM456.3 334.4L459.8 340.2L452.9 340.2ZM457.1 334.7L460.6 340.5L453.7 340.5ZM457.9 335.5L461.4 341.4L454.5 341.4ZM458.7 336.6L462.2 342.4L455.3 342.4ZM459.5 335.9L463 341.7L456.1 341.7ZM460.3 336.5L463.8 342.3L456.9 342.3ZM461.1 336.1L464.6 342L457.7 342ZM461.9 335.9L465.4 341.7L458.5 341.7ZM462.7 336.6L466.2 342.4L459.3 342.4ZM463.5 337L467 342.9L460.1 342.9ZM464.3 337.2L467.8 343L460.9 343ZM465.1 337L468.6 342.8L461.7 342.8ZM465.9 339L469.4 344.8L462.5 344.8ZM466.7 338.4L470.2 344.2L463.3 344.2ZM467.5 338.3L471 344.2L464.1 344.2ZM468.3 336.8L471.8 342.6L464.9 342.6ZM469.1 337.6L472.6 343.4L465.7 343.4ZM469.9 339L473.4 344.8L466.5 344.8ZM470.7 340.1L474.2 345.9L467.3 345.9ZM471.5 338.5L475 344.3L468.1 344.3ZM472.3 339.3L475.8 345.1L468.9 345.1ZM473.1 338.7L476.6 344.5L469.7 344.5ZM473.9 340.2L477.4 346L470.5 346ZM474.7 340.7L478.2 346.5L471.3 346.5ZM475.5 342.3L479 348.1L472.1 348.1ZM476.3 341.8L479.8 347.6L472.9 347.6ZM477.1 342.4L480.6 348.2L473.7 348.2ZM477.9 343.2L481.4 349L474.5 349ZM478.7 343L482.2 348.8L475.3 348.8ZM479.5 344.1L483 350L476.1 350ZM480.3 344.8L483.8 350.7L476.9 350.7ZM481.1 345.1L484.6 351L477.7 351ZM481.9 345.1L485.4 350.9L478.5 350.9ZM482.7 343.2L486.2 349L479.3 349ZM483.5 344L487 349.9L480.1 349.9ZM484.3 343.4L487.8 349.2L480.9 349.2ZM485.1 345.6L488.6 351.4L481.7 351.4ZM485.9 345.7L489.4 351.5L482.5 351.5ZM486.7 345.6L490.2 351.4L483.3 351.4ZM487.5 347.5L491 353.3L484.1 353.3ZM488.3 350.3L491.8 356.1L484.9 356.1ZM489.1 349.4L492.6 355.2L485.7 355.2ZM489.9 343.4L493.4 349.2L486.5 349.2ZM490.7 350.4L494.2 356.2L487.3 356.2ZM491.5 352.2L495 358L488.1 358ZM492.3 347.7L495.8 353.6L488.9 353.6ZM493.1 351.3L496.6 357.2L489.7 357.2ZM493.9 350.2L497.4 356.1L490.5 356.1ZM494.7 349.6L498.2 355.5L491.3 355.5ZM495.5 346.5L499 352.3L492.1 352.3ZM496.3 351.4L499.8 357.3L492.9 357.3ZM497.1 354.1L500.6 359.9L493.7 359.9ZM497.9 354.3L501.4 360.2L494.5 360.2ZM498.7 356.2L502.2 362L495.3 362ZM499.5 354.5L503 360.4L496.1 360.4ZM500.3 359.2L503.8 365L496.9 365ZM501.1 354.7L504.6 360.5L497.7 360.5ZM501.9 349.9L505.4 355.7L498.5 355.7ZM502.7 349.8L506.2 355.6L499.3 355.6ZM503.5 358.5L507 364.4L500.1 364.4ZM504.3 358.4L507.8 364.2L500.9 364.2ZM505.1 354.8L508.6 360.6L501.7 360.6ZM505.9 354.6L509.4 360.4L502.5 360.4ZM506.7 357.5L510.2 363.3L503.3 363.3ZM507.5 353L511 358.8L504.1 358.8ZM508.3 353.6L511.8 359.4L504.9 359.4ZM509.1 356.2L512.6 362.1L505.7 362.1ZM509.9 357.4L513.4 363.2L506.5 363.2ZM510.7 356.7L514.2 362.5L507.3 362.5ZM511.5 355.4L515 361.2L508.1 361.2ZM512.3 354.2L515.8 360L508.9 360ZM513.1 355.2L516.6 361L509.7 361ZM513.9 355.8L517.4 361.6L510.5 361.6ZM514.7 358.3L518.2 364.1L511.3 364.1ZM515.5 356.1L519 362L512.1 362ZM516.3 359.9L519.8 365.7L512.9 365.7ZM517.1 352.6L520.6 358.4L513.7 358.4ZM517.9 355.6L521.4 361.4L514.5 361.4ZM518.7 352.8L522.2 358.6L515.3 358.6ZM519.5 358.7L523 364.5L516.1 364.5ZM520.3 354.2L523.8 360.1L516.9 360.1ZM521.1 358.4L524.6 364.3L517.7 364.3ZM521.9 360.2L525.4 366.1L518.5 366.1ZM522.7 361.1L526.2 367L519.3 367ZM523.5 356.4L527 362.3L520.1 362.3ZM524.3 358.9L527.8 364.7L520.9 364.7ZM525.1 356.8L528.6 362.6L521.7 362.6ZM525.9 358.9L529.4 364.8L522.5 364.8ZM526.7 356.1L530.2 361.9L523.3 361.9ZM527.5 357.2L531 363.1L524.1 363.1ZM528.3 359.5L531.8 365.3L524.9 365.3ZM529.1 358.5L532.6 364.3L525.7 364.3ZM529.9 360.8L533.4 366.7L526.5 366.7ZM530.7 359.9L534.2 365.7L527.3 365.7ZM531.5 364L535 369.8L528.1 369.8ZM532.3 366.1L535.8 371.9L528.9 371.9ZM533.1 357.3L536.6 363.2L529.7 363.2ZM533.9 364.3L537.4 370.1L530.5 370.1ZM534.7 360.6L538.2 366.5L531.3 366.5ZM535.5 365.4L539 371.2L532.1 371.2ZM536.3 358.3L539.8 364.1L532.9 364.1ZM537.1 365L540.6 370.9L533.7 370.9ZM537.9 356.5L541.4 362.4L534.5 362.4ZM538.7 356.2L542.2 362L535.3 362ZM539.5 356.4L543 362.3L536.1 362.3ZM540.3 364.4L543.8 370.2L536.9 370.2ZM541.1 356.2L544.6 362L537.7 362Z" fill="#808080"/>
<path d="M111 112L114.4 106.1L107.6 106.1ZM111.5 149.6L114.9 143.7L108.1 143.7ZM113.2 175.9L116.6 170L109.8 170ZM115.5 191.5L118.9 185.7L112.1 185.7ZM119 205.5L122.4 199.7L115.6 199.7ZM124.2 209.8L127.6 204L120.8 204ZM132.5 211.1L135.9 205.3L129.1 205.3ZM177 225.8L180.4 220L173.6 220ZM229.6 249.5L233 243.7L226.2 243.7ZM266.1 266.4L269.5 260.5L262.7 260.5ZM288.4 276.3L291.8 270.4L285 270.4ZM306.4 284.2L309.8 278.4L303 278.4ZM320.5 289.7L323.9 283.9L317.1 283.9ZM331.5 295.9L334.9 290.1L328.1 290.1ZM340.6 301.3L344 295.5L337.2 295.5ZM349.8 306.6L353.2 300.8L346.4 300.8ZM357.8 309.5L361.2 303.6L354.4 303.6ZM365 311.4L368.4 305.6L361.6 305.6ZM371.5 313.2L374.9 307.4L368 307.4ZM377.3 316.1L380.7 310.3L373.9 310.3ZM382.6 318.1L386 312.3L379.1 312.3ZM387.3 319.6L390.7 313.8L383.9 313.8ZM391.5 320.1L395 314.2L388.1 314.2ZM395.4 321.3L398.8 315.5L391.9 315.5ZM398.8 320.1L402.2 314.3L395.4 314.3ZM401.9 321.3L405.3 315.5L398.5 315.5ZM404.7 322.8L408.1 316.9L401.3 316.9ZM407.2 323.6L410.6 317.8L403.8 317.8ZM409.5 325L412.9 319.1L406 319.1ZM411.5 325.8L414.9 320L408.1 320ZM413.3 326.5L416.8 320.7L409.9 320.7ZM415 325.7L418.4 319.9L411.5 319.9ZM416.5 326.4L419.9 320.5L413 320.5ZM417.8 327.4L421.2 321.6L414.4 321.6ZM419 326.9L422.4 321.1L415.6 321.1ZM420.1 328.1L423.5 322.3L416.6 322.3ZM421 327.6L424.5 321.7L417.6 321.7ZM421.9 327.4L425.4 321.6L418.5 321.6ZM422.7 329.1L426.2 323.3L419.3 323.3ZM423.5 327.5L427 321.7L420.1 321.7ZM424.3 327.8L427.8 322L420.9 322ZM425.1 328.9L428.6 323.1L421.7 323.1ZM425.9 328.9L429.4 323.1L422.5 323.1ZM426.7 329.9L430.2 324.1L423.3 324.1ZM427.5 330.8L431 324.9L424.1 324.9ZM428.3 330.1L431.8 324.3L424.9 324.3ZM429.1 331L432.6 325.1L425.7 325.1ZM429.9 330.5L433.4 324.7L426.5 324.7ZM430.7 330.5L434.2 324.7L427.3 324.7ZM431.5 330.8L435 325L428.1 325ZM432.3 331.3L435.8 325.4L428.9 325.4ZM433.1 332.6L436.6 326.8L429.7 326.8ZM433.9 330.1L437.4 324.3L430.5 324.3ZM434.7 331.6L438.2 325.8L431.3 325.8ZM435.5 332.2L439 326.4L432.1 326.4ZM436.3 332.8L439.8 327L432.9 327ZM437.1 333.4L440.6 327.5L433.7 327.5ZM437.9 334.6L441.4 328.7L434.5 328.7ZM438.7 334.8L442.2 329L435.3 329ZM439.5 334.3L443 328.5L436.1 328.5ZM440.3 334.7L443.8 328.9L436.9 328.9ZM441.1 333.3L444.6 327.4L437.7 327.4ZM441.9 333.6L445.4 327.8L438.5 327.8ZM442.7 335.2L446.2 329.4L439.3 329.4ZM443.5 335.2L447 329.3L440.1 329.3ZM444.3 335.1L447.8 329.3L440.9 329.3ZM445.1 336.1L448.6 330.2L441.7 330.2ZM445.9 336.7L449.4 330.9L442.5 330.9ZM446.7 335.8L450.2 330L443.3 330ZM447.5 337L451 331.2L444.1 331.2ZM448.3 337.2L451.8 331.4L444.9 331.4ZM449.1 337.7L452.6 331.8L445.7 331.8ZM449.9 337.2L453.4 331.4L446.5 331.4ZM450.7 337.4L454.2 331.6L447.3 331.6ZM451.5 338.2L455 332.4L448.1 332.4ZM452.3 338.9L455.8 333.1L448.9 333.1ZM453.1 339.5L456.6 333.6L449.7 333.6ZM453.9 340.4L457.4 334.6L450.5 334.6ZM454.7 340.3L458.2 334.5L451.3 334.5ZM455.5 340.7L459 334.8L452.1 334.8ZM456.3 340.5L459.8 334.7L452.9 334.7ZM457.1 340.9L460.6 335.1L453.7 335.1ZM457.9 341.7L461.4 335.9L454.5 335.9ZM458.7 342.8L462.2 336.9L455.3 336.9ZM459.5 342L463 336.2L456.1 336.2ZM460.3 342.7L463.8 336.9L456.9 336.9ZM461.1 342.3L464.6 336.5L457.7 336.5ZM461.9 342L465.4 336.2L458.5 336.2ZM462.7 342.8L466.2 337L459.3 337ZM463.5 343.2L467 337.4L460.1 337.4ZM464.3 343.3L467.8 337.5L460.9 337.5ZM465.1 343.2L468.6 337.3L461.7 337.3ZM465.9 345.2L469.4 339.4L462.5 339.4ZM466.7 344.6L470.2 338.7L463.3 338.7ZM467.5 344.5L471 338.7L464.1 338.7ZM468.3 343L471.8 337.2L464.9 337.2ZM469.1 343.8L472.6 338L465.7 338ZM469.9 345.2L473.4 339.3L466.5 339.3ZM470.7 346.3L474.2 340.5L467.3 340.5ZM471.5 344.7L475 338.8L468.1 338.8ZM472.3 345.5L475.8 339.6L468.9 339.6ZM473.1 344.9L476.6 339.1L469.7 339.1ZM473.9 346.4L477.4 340.6L470.5 340.6ZM474.7 346.9L478.2 341.1L471.3 341.1ZM475.5 348.5L479 342.6L472.1 342.6ZM476.3 348L479.8 342.2L472.9 342.2ZM477.1 348.6L480.6 342.8L473.7 342.8ZM477.9 349.4L481.4 343.5L474.5 343.5ZM478.7 349.2L482.2 343.4L475.3 343.4ZM479.5 350.3L483 344.5L476.1 344.5ZM480.3 351L483.8 345.2L476.9 345.2ZM481.1 351.4L484.6 345.5L477.7 345.5ZM481.9 351.3L485.4 345.5L478.5 345.5ZM482.7 349.4L486.2 343.6L479.3 343.6ZM483.5 350.2L487 344.4L480.1 344.4ZM484.3 349.6L487.8 343.8L480.9 343.8ZM485.1 351.8L488.6 345.9L481.7 345.9ZM485.9 351.9L489.4 346.1L482.5 346.1ZM486.7 351.8L490.2 346L483.3 346ZM487.5 353.7L491 347.9L484.1 347.9ZM488.3 356.5L491.8 350.7L484.9 350.7ZM489.1 355.7L492.6 349.8L485.7 349.8ZM489.9 349.6L493.4 343.8L486.5 343.8ZM490.7 356.6L494.2 350.8L487.3 350.8ZM491.5 358.4L495 352.6L488.1 352.6ZM492.3 354L495.8 348.2L488.9 348.2ZM493.1 357.6L496.6 351.7L489.7 351.7ZM493.9 356.5L497.4 350.7L490.5 350.7ZM494.7 355.9L498.2 350L491.3 350ZM495.5 352.7L499 346.9L492.1 346.9ZM496.3 357.7L499.8 351.8L492.9 351.8ZM497.1 360.4L500.6 354.5L493.7 354.5ZM497.9 360.6L501.4 354.8L494.5 354.8ZM498.7 362.4L502.2 356.6L495.3 356.6ZM499.5 360.8L503 354.9L496.1 354.9ZM500.3 365.5L503.8 359.6L496.9 359.6ZM501.1 361L504.6 355.1L497.7 355.1ZM501.9 356.1L505.4 350.3L498.5 350.3ZM502.7 356L506.2 350.2L499.3 350.2ZM503.5 364.8L507 359L500.1 359ZM504.3 364.6L507.8 358.8L500.9 358.8ZM505.1 361.1L508.6 355.2L501.7 355.2ZM505.9 360.8L509.4 355L502.5 355ZM506.7 363.7L510.2 357.9L503.3 357.9ZM507.5 359.2L511 353.4L504.1 353.4ZM508.3 359.8L511.8 354L504.9 354ZM509.1 362.5L512.6 356.7L505.7 356.7ZM509.9 363.6L513.4 357.8L506.5 357.8ZM510.7 362.9L514.2 357.1L507.3 357.1ZM511.5 361.6L515 355.8L508.1 355.8ZM512.3 360.4L515.8 354.6L508.9 354.6ZM513.1 361.5L516.6 355.6L509.7 355.6ZM513.9 362L517.4 356.2L510.5 356.2ZM514.7 364.5L518.2 358.7L511.3 358.7ZM515.5 362.4L519 356.6L512.1 356.6ZM516.3 366.1L519.8 360.3L512.9 360.3ZM517.1 358.9L520.6 353L513.7 353ZM517.9 361.8L521.4 356L514.5 356ZM518.7 359L522.2 353.2L515.3 353.2ZM519.5 365L523 359.1L516.1 359.1ZM520.3 360.5L523.8 354.7L516.9 354.7ZM521.1 364.7L524.6 358.9L517.7 358.9ZM521.9 366.5L525.4 360.6L518.5 360.6ZM522.7 367.4L526.2 361.6L519.3 361.6ZM523.5 362.7L527 356.8L520.1 356.8ZM524.3 365.1L527.8 359.3L520.9 359.3ZM525.1 363L528.6 357.2L521.7 357.2ZM525.9 365.2L529.4 359.4L522.5 359.4ZM526.7 362.3L530.2 356.5L523.3 356.5ZM527.5 363.5L531 357.6L524.1 357.6ZM528.3 365.8L531.8 359.9L524.9 359.9ZM529.1 364.7L532.6 358.9L525.7 358.9ZM529.9 367.1L533.4 361.3L526.5 361.3ZM530.7 366.1L534.2 360.3L527.3 360.3ZM531.5 370.2L535 364.4L528.1 364.4ZM532.3 372.3L535.8 366.5L528.9 366.5ZM533.1 363.6L536.6 357.7L529.7 357.7ZM533.9 370.5L537.4 364.7L530.5 364.7ZM534.7 366.9L538.2 361L531.3 361ZM535.5 371.6L539 365.8L532.1 365.8ZM536.3 364.5L539.8 358.7L532.9 358.7ZM537.1 371.3L540.6 365.5L533.7 365.5ZM537.9 362.8L541.4 357L534.5 357ZM538.7 362.4L542.2 356.6L535.3 356.6ZM539.5 362.7L543 356.8L536.1 356.8ZM540.3 370.6L543.8 364.8L536.9 364.8ZM541.1 362.4L544.6 356.6L537.7 356.6Z" fill="#945a5a"/>
<path d="M111 91.4L114.6 95L111 98.6L107.4 95ZM111.5 132.4L115.1 136L111.5 139.6L107.9 136ZM113.2 160.6L116.8 164.2L113.2 167.8L109.6 164.2ZM115.5 177.4L119.1 181L115.5 184.6L111.9 181ZM119 192.4L122.6 196L119 199.6L115.4 196ZM124.2 197.4L127.8 201L124.2 204.6L120.6 201ZM132.5 199.4L136.1 203L132.5 206.6L128.9 203ZM177 216.4L180.6 220L177 223.6L173.4 220ZM229.6 240.9L233.2 244.5L229.6 248.1L226 244.5ZM266.1 258.1L269.7 261.7L266.1 265.3L262.5 261.7ZM288.4 268.2L292 271.8L288.4 275.4L284.8 271.8ZM306.4 276.4L310 280L306.4 283.6L302.8 280ZM320.5 281.9L324.1 285.5L320.5 289.1L316.9 285.5ZM331.5 288.3L335.1 291.9L331.5 295.5L327.9 291.9ZM340.6 293.9L344.2 297.5L340.6 301.1L337 297.5ZM349.8 299.3L353.4 302.9L349.8 306.5L346.2 302.9ZM357.8 302.2L361.4 305.8L357.8 309.5L354.2 305.8ZM365 304.2L368.6 307.9L365 311.5L361.4 307.9ZM371.5 306L375.1 309.7L371.5 313.3L367.8 309.7ZM377.3 308.9L381 312.6L377.3 316.2L373.7 312.6ZM382.6 311L386.2 314.7L382.6 318.3L378.9 314.7ZM387.3 312.5L390.9 316.2L387.3 319.8L383.6 316.2ZM391.5 313L395.2 316.7L391.5 320.3L387.9 316.7ZM395.4 314.2L399 317.9L395.4 321.5L391.7 317.9ZM398.8 313.1L402.4 316.8L398.8 320.4L395.2 316.8ZM401.9 314.3L405.5 318L401.9 321.6L398.3 318ZM404.7 315.8L408.3 319.4L404.7 323.1L401.1 319.4ZM407.2 316.6L410.8 320.3L407.2 323.9L403.6 320.3ZM409.5 318L413.1 321.6L409.5 325.3L405.8 321.6ZM411.5 318.9L415.1 322.5L411.5 326.2L407.9 322.5ZM413.3 319.6L417 323.2L413.3 326.9L409.7 323.2ZM415 318.8L418.6 322.4L415 326.1L411.3 322.4ZM416.5 319.4L420.1 323.1L416.5 326.7L412.8 323.1ZM417.8 320.5L421.4 324.1L417.8 327.7L414.2 324.1ZM419 320L422.6 323.6L419 327.3L415.4 323.6ZM420.1 321.2L423.7 324.8L420.1 328.4L416.4 324.8ZM421 320.6L424.7 324.3L421 327.9L417.4 324.3ZM421.9 320.5L425.6 324.1L421.9 327.8L418.3 324.1ZM422.7 322.2L426.4 325.9L422.7 329.5L419.1 325.9ZM423.5 320.6L427.2 324.3L423.5 327.9L419.9 324.3ZM424.3 320.9L428 324.5L424.3 328.2L420.7 324.5ZM425.1 322L428.8 325.7L425.1 329.3L421.5 325.7ZM425.9 322L429.6 325.7L425.9 329.3L422.3 325.7ZM426.7 323L430.4 326.6L426.7 330.3L423.1 326.6ZM427.5 323.9L431.2 327.5L427.5 331.1L423.9 327.5ZM428.3 323.2L432 326.9L428.3 330.5L424.7 326.9ZM429.1 324.1L432.8 327.7L429.1 331.4L425.5 327.7ZM429.9 323.6L433.6 327.2L429.9 330.9L426.3 327.2ZM430.7 323.6L434.4 327.2L430.7 330.9L427.1 327.2ZM431.5 323.9L435.2 327.5L431.5 331.2L427.9 327.5ZM432.3 324.4L436 328L432.3 331.7L428.7 328ZM433.1 325.7L436.8 329.3L433.1 333L429.5 329.3ZM433.9 323.2L437.6 326.9L433.9 330.5L430.3 326.9ZM434.7 324.7L438.4 328.4L434.7 332L431.1 328.4ZM435.5 325.3L439.2 329L435.5 332.6L431.9 329ZM436.3 326L440 329.6L436.3 333.3L432.7 329.6ZM437.1 326.5L440.8 330.1L437.1 333.8L433.5 330.1ZM437.9 327.7L441.6 331.3L437.9 335L434.3 331.3ZM438.7 327.9L442.4 331.6L438.7 335.2L435.1 331.6ZM439.5 327.4L443.2 331.1L439.5 334.7L435.9 331.1ZM440.3 327.9L444 331.5L440.3 335.2L436.7 331.5ZM441.1 326.4L444.8 330L441.1 333.7L437.5 330ZM441.9 326.8L445.6 330.4L441.9 334L438.3 330.4ZM442.7 328.4L446.4 332L442.7 335.7L439.1 332ZM443.5 328.3L447.2 332L443.5 335.6L439.9 332ZM444.3 328.2L448 331.9L444.3 335.5L440.7 331.9ZM445.1 329.2L448.8 332.8L445.1 336.5L441.5 332.8ZM445.9 329.8L449.6 333.5L445.9 337.1L442.3 333.5ZM446.7 329L450.4 332.6L446.7 336.3L443.1 332.6ZM447.5 330.2L451.2 333.8L447.5 337.4L443.9 333.8ZM448.3 330.4L452 334L448.3 337.6L444.7 334ZM449.1 330.8L452.8 334.5L449.1 338.1L445.5 334.5ZM449.9 330.4L453.6 334L449.9 337.6L446.3 334ZM450.7 330.6L454.4 334.2L450.7 337.9L447.1 334.2ZM451.5 331.4L455.2 335L451.5 338.6L447.9 335ZM452.3 332.1L456 335.7L452.3 339.4L448.7 335.7ZM453.1 332.6L456.8 336.3L453.1 339.9L449.5 336.3ZM453.9 333.6L457.6 337.2L453.9 340.8L450.3 337.2ZM454.7 333.5L458.4 337.1L454.7 340.7L451.1 337.1ZM455.5 333.8L459.2 337.5L455.5 341.1L451.9 337.5ZM456.3 333.7L460 337.3L456.3 341L452.7 337.3ZM457.1 334.1L460.8 337.7L457.1 341.3L453.5 337.7ZM457.9 334.9L461.6 338.5L457.9 342.2L454.3 338.5ZM458.7 335.9L462.4 339.6L458.7 343.2L455.1 339.6ZM459.5 335.2L463.2 338.8L459.5 342.5L455.9 338.8ZM460.3 335.9L464 339.5L460.3 343.1L456.7 339.5ZM461.1 335.5L464.8 339.1L461.1 342.8L457.5 339.1ZM461.9 335.2L465.6 338.9L461.9 342.5L458.3 338.9ZM462.7 336L466.4 339.6L462.7 343.3L459.1 339.6ZM463.5 336.4L467.2 340L463.5 343.7L459.9 340ZM464.3 336.5L468 340.2L464.3 343.8L460.7 340.2ZM465.1 336.4L468.8 340L465.1 343.6L461.5 340ZM465.9 338.4L469.6 342L465.9 345.6L462.3 342ZM466.7 337.7L470.4 341.4L466.7 345L463.1 341.4ZM467.5 337.7L471.2 341.4L467.5 345L463.9 341.4ZM468.3 336.2L472 339.8L468.3 343.5L464.7 339.8ZM469.1 337L472.8 340.6L469.1 344.2L465.5 340.6ZM469.9 338.4L473.6 342L469.9 345.6L466.3 342ZM470.7 339.5L474.4 343.1L470.7 346.8L467.1 343.1ZM471.5 337.9L475.2 341.5L471.5 345.1L467.9 341.5ZM472.3 338.6L476 342.3L472.3 345.9L468.7 342.3ZM473.1 338.1L476.8 341.7L473.1 345.4L469.5 341.7ZM473.9 339.6L477.6 343.2L473.9 346.9L470.3 343.2ZM474.7 340.1L478.4 343.8L474.7 347.4L471.1 343.8ZM475.5 341.7L479.2 345.3L475.5 348.9L471.9 345.3ZM476.3 341.2L480 344.8L476.3 348.5L472.7 344.8ZM477.1 341.8L480.8 345.4L477.1 349.1L473.5 345.4ZM477.9 342.6L481.6 346.2L477.9 349.8L474.3 346.2ZM478.7 342.4L482.4 346L478.7 349.7L475.1 346ZM479.5 343.6L483.2 347.2L479.5 350.8L475.9 347.2ZM480.3 344.2L484 347.9L480.3 351.5L476.7 347.9ZM481.1 344.6L484.8 348.2L481.1 351.9L477.5 348.2ZM481.9 344.5L485.6 348.2L481.9 351.8L478.3 348.2ZM482.7 342.6L486.4 346.2L482.7 349.9L479.1 346.2ZM483.5 343.5L487.2 347.1L483.5 350.7L479.9 347.1ZM484.3 342.8L488 346.5L484.3 350.1L480.7 346.5ZM485.1 345L488.8 348.6L485.1 352.3L481.5 348.6ZM485.9 345.1L489.6 348.8L485.9 352.4L482.3 348.8ZM486.7 345L490.4 348.7L486.7 352.3L483.1 348.7ZM487.5 346.9L491.2 350.5L487.5 354.2L483.9 350.5ZM488.3 349.7L492 353.4L488.3 357L484.7 353.4ZM489.1 348.9L492.8 352.5L489.1 356.2L485.5 352.5ZM489.9 342.8L493.6 346.5L489.9 350.1L486.3 346.5ZM490.7 349.8L494.4 353.5L490.7 357.1L487.1 353.5ZM491.5 351.7L495.2 355.3L491.5 358.9L487.9 355.3ZM492.3 347.2L496 350.8L492.3 354.5L488.7 350.8ZM493.1 350.8L496.8 354.4L493.1 358.1L489.5 354.4ZM493.9 349.7L497.6 353.3L493.9 357L490.3 353.3ZM494.7 349.1L498.4 352.7L494.7 356.4L491.1 352.7ZM495.5 345.9L499.2 349.6L495.5 353.2L491.9 349.6ZM496.3 350.9L500 354.6L496.3 358.2L492.7 354.6ZM497.1 353.6L500.8 357.2L497.1 360.9L493.5 357.2ZM497.9 353.8L501.6 357.5L497.9 361.1L494.3 357.5ZM498.7 355.7L502.4 359.3L498.7 363L495.1 359.3ZM499.5 354L503.2 357.7L499.5 361.3L495.9 357.7ZM500.3 358.7L504 362.3L500.3 366L496.7 362.3ZM501.1 354.2L504.8 357.8L501.1 361.5L497.5 357.8ZM501.9 349.4L505.6 353L501.9 356.6L498.3 353ZM502.7 349.2L506.4 352.9L502.7 356.5L499.1 352.9ZM503.5 358L507.2 361.7L503.5 365.3L499.9 361.7ZM504.3 357.9L508 361.5L504.3 365.1L500.7 361.5ZM505.1 354.3L508.8 357.9L505.1 361.6L501.5 357.9ZM505.9 354L509.6 357.7L505.9 361.3L502.3 357.7ZM506.7 356.9L510.4 360.6L506.7 364.2L503.1 360.6ZM507.5 352.5L511.2 356.1L507.5 359.7L503.9 356.1ZM508.3 353.1L512 356.7L508.3 360.4L504.7 356.7ZM509.1 355.7L512.8 359.4L509.1 363L505.5 359.4ZM509.9 356.9L513.6 360.5L509.9 364.1L506.3 360.5ZM510.7 356.1L514.4 359.8L510.7 363.4L507.1 359.8ZM511.5 354.8L515.2 358.5L511.5 362.1L507.9 358.5ZM512.3 353.6L516 357.3L512.3 360.9L508.7 357.3ZM513.1 354.7L516.8 358.3L513.1 362L509.5 358.3ZM513.9 355.3L517.6 358.9L513.9 362.6L510.3 358.9ZM514.7 357.7L518.4 361.4L514.7 365L511.1 361.4ZM515.5 355.6L519.2 359.3L515.5 362.9L511.9 359.3ZM516.3 359.4L520 363L516.3 366.6L512.7 363ZM517.1 352.1L520.8 355.7L517.1 359.4L513.5 355.7ZM517.9 355.1L521.6 358.7L517.9 362.4L514.3 358.7ZM518.7 352.3L522.4 355.9L518.7 359.5L515.1 355.9ZM519.5 358.2L523.2 361.8L519.5 365.5L515.9 361.8ZM520.3 353.7L524 357.4L520.3 361L516.7 357.4ZM521.1 357.9L524.8 361.6L521.1 365.2L517.5 361.6ZM521.9 359.7L525.6 363.4L521.9 367L518.3 363.4ZM522.7 360.6L526.4 364.3L522.7 367.9L519.1 364.3ZM523.5 355.9L527.2 359.6L523.5 363.2L519.9 359.6ZM524.3 358.3L528 362L524.3 365.6L520.7 362ZM525.1 356.2L528.8 359.9L525.1 363.5L521.5 359.9ZM525.9 358.4L529.6 362.1L525.9 365.7L522.3 362.1ZM526.7 355.6L530.4 359.2L526.7 362.8L523.1 359.2ZM527.5 356.7L531.2 360.4L527.5 364L523.9 360.4ZM528.3 359L532 362.6L528.3 366.3L524.7 362.6ZM529.1 357.9L532.8 361.6L529.1 365.2L525.5 361.6ZM529.9 360.3L533.6 364L529.9 367.6L526.3 364ZM530.7 359.4L534.4 363L530.7 366.6L527.1 363ZM531.5 363.5L535.2 367.1L531.5 370.8L527.9 367.1ZM532.3 365.6L536 369.2L532.3 372.8L528.7 369.2ZM533.1 356.8L536.8 360.5L533.1 364.1L529.5 360.5ZM533.9 363.7L537.6 367.4L533.9 371L530.3 367.4ZM534.7 360.1L538.4 363.8L534.7 367.4L531.1 363.8ZM535.5 364.9L539.2 368.5L535.5 372.2L531.9 368.5ZM536.3 357.8L540 361.4L536.3 365L532.7 361.4ZM537.1 364.5L540.8 368.2L537.1 371.8L533.5 368.2ZM537.9 356L541.6 359.7L537.9 363.3L534.3 359.7ZM538.7 355.6L542.4 359.3L538.7 362.9L535.1 359.3ZM539.5 355.9L543.2 359.6L539.5 363.2L535.9 359.6ZM540.3 363.9L544 367.5L540.3 371.2L536.7 367.5ZM541.1 355.6L544.8 359.3L541.1 362.9L537.5 359.3Z" fill="#5a935a"/>
</g>
<g id="a-lines" stroke-width="2.1" fill="none">
<path d="M111 301.7 L541 358.8" stroke="#000000"/>
<path d="M111 295.4 L541 359.5" stroke="#ff0000"/>
<path d="M111 289.1 L541 360.2" stroke="#0000ff"/>
<path d="M111 282.8 L541 360.9" stroke="#ff00ff"/>
<path d="M111 276.5 L541 361.6" stroke="#008000"/>
<path d="M111 270.2 L541 362.4" stroke="#000080"/>
<path d="M111 263.9 L541 363.1" stroke="#8000ff"/>
<path d="M111 257.6 L541 363.8" stroke="#800080"/>
<path d="M111 251.3 L541 364.5" stroke="#800000"/>
<path d="M111 245 L541 365.2" stroke="#808000"/>
<path d="M111 238.6 L541 365.9" stroke="#2a6ab8"/>
<path d="M111 232.3 L541 366.6" stroke="#1f9a9a"/>
<path d="M111 226 L541 367.3" stroke="#b87a3c"/>
<path d="M111 219.7 L541 368" stroke="#22cc55"/>
<path d="M111 213.4 L541 368.7" stroke="#cc3388"/>
<path d="M111 207.1 L541 369.4" stroke="#22c4d8"/>
<path d="M111 200.8 L541 370.2" stroke="#3038a8"/>
<path d="M111 194.5 L541 370.9" stroke="#9aa81e"/>
<path d="M111 188.2 L541 371.6" stroke="#808080"/>
<path d="M111 181.9 L541 372.3" stroke="#945a5a"/>
<path d="M111 175.6 L541 373" stroke="#5a935a"/>
</g>
<g stroke="#000" stroke-width="2" fill="none" stroke-linecap="butt">
<path d="M82.5 41.8H558.5V423.6H82.5Z"/>
<path d="M82.5 83.7h-8.5M82.5 168.7h-8.5M82.5 253.7h-8.5M82.5 338.7h-8.5M82.5 423.7h-8.5M82.5 41.2h-5M82.5 126.2h-5M82.5 211.2h-5M82.5 296.2h-5M82.5 381.2h-5M113.8 423.6v8.5M161.4 423.6v5M209.1 423.6v8.5M256.8 423.6v5M304.4 423.6v8.5M352 423.6v5M399.7 423.6v8.5M447.3 423.6v5M495 423.6v8.5M542.6 423.6v5"/>
</g>
<g font-family="'Liberation Serif',serif" font-weight="bold" font-size="16.3" fill="#000">
<text x="69.5" y="89.1" text-anchor="end">5</text>
<text x="69.5" y="174.1" text-anchor="end">0</text>
<text x="69.5" y="259.1" text-anchor="end">-5</text>
<text x="69.5" y="344.1" text-anchor="end">-10</text>
<text x="69.5" y="429.1" text-anchor="end">-15</text>
<text x="113.8" y="449.6" text-anchor="middle">0.001575</text>
<text x="209.1" y="449.6" text-anchor="middle">0.001650</text>
<text x="304.4" y="449.6" text-anchor="middle">0.001725</text>
<text x="399.7" y="449.6" text-anchor="middle">0.001800</text>
<text x="495" y="449.6" text-anchor="middle">0.001875</text>
</g>
<g font-family="'Liberation Serif',serif" font-weight="bold" fill="#000">
<text x="310.3" y="474.8" font-size="20.4" text-anchor="middle">1/T(1/K)</text>
<text transform="translate(50.1 250.9) rotate(-90)" font-size="19" text-anchor="middle">ln<tspan font-style="italic">k</tspan></text>
<text x="97.6" y="64.8" font-size="21">(a)</text>
</g>
<g id="a-legend">
<path d="M389.5 54.8h7.6M393.3 51v7.6" fill="none" stroke="#1f9a9a" stroke-width="0.8"/>
<path d="M390.6 74.7l5.4 5.4M390.6 80.2l5.4 -5.4" fill="none" stroke="#b87a3c" stroke-width="0.8"/>
<path d="M389.5 100.1h7.6M393.3 96.3v7.6M390.6 97.4l5.4 5.4M390.6 102.8l5.4 -5.4" fill="none" stroke="#22cc55" stroke-width="0.8"/>
<path d="M389.5 122.7h7.6" fill="none" stroke="#cc3388" stroke-width="0.8"/>
<path d="M393.3 141.6v7.6" fill="none" stroke="#22c4d8" stroke-width="0.8"/>
<path d="M390.4 165.1h5.9v5.9h-5.9Z" fill="#3038a8"/>
<path d="M390 190.7a3.3 3.3 0 1 0 6.6 0a3.3 3.3 0 1 0 -6.6 0Z" fill="#9aa81e"/>
<path d="M393.3 209.8L397.2 216.4L389.4 216.4Z" fill="#808080"/>
<path d="M393.3 239.5L397.2 232.9L389.4 232.9Z" fill="#945a5a"/>
<path d="M393.3 254.5L397.4 258.6L393.3 262.8L389.2 258.6Z" fill="#5a935a"/>
<path d="M477.8 51.9h5.8v5.8h-5.8Z" fill="#000000"/>
<path d="M477.5 77.4a3.2 3.2 0 1 0 6.4 0a3.2 3.2 0 1 0 -6.4 0Z" fill="#ff0000"/>
<path d="M480.7 96.6L484.5 103.1L476.9 103.1Z" fill="#0000ff"/>
<path d="M480.7 126.2L484.5 119.8L476.9 119.8Z" fill="#ff00ff"/>
<path d="M480.7 141.4L484.7 145.4L480.7 149.4L476.7 145.4Z" fill="#008000"/>
<path d="M477.2 168.1L483.7 164.3L483.7 171.8Z" fill="#000080"/>
<path d="M484.1 190.7L477.7 186.9L477.7 194.5Z" fill="#8000ff"/>
<path d="M484.1 213.3L482.4 216.3L479 216.3L477.2 213.3L479 210.4L482.4 210.4Z" fill="#800080"/>
<path d="M480.7 231.9L481.7 234.6L484.6 234.7L482.3 236.5L483.1 239.3L480.7 237.7L478.3 239.3L479.1 236.5L476.8 234.7L479.7 234.6Z" fill="#800000"/>
<path d="M480.7 255L484.2 257.5L482.9 261.6L478.5 261.6L477.2 257.5Z" fill="#808000"/>
<path d="M477.5 281.3a3.2 3.2 0 1 0 6.4 0a3.2 3.2 0 1 0 -6.4 0Z" fill="#2a6ab8"/>
<circle cx="479.8" cy="280.4" r="1.1" fill="#cfe4ff"/>
<g font-family="'Liberation Serif',serif" font-weight="bold" font-size="17.5" fill="#000">
<text x="418.8" y="60.1">n=1.1</text>
<text x="418.8" y="82.7">n=1.2</text>
<text x="418.8" y="105.4">n=1.3</text>
<text x="418.8" y="128">n=1.4</text>
<text x="418.8" y="150.7">n=1.5</text>
<text x="418.8" y="173.4">n=1.6</text>
<text x="418.8" y="196">n=1.7</text>
<text x="418.8" y="218.6">n=1.8</text>
<text x="418.8" y="241.3">n=1.9</text>
<text x="418.8" y="263.9">n=2.0</text>
<text x="506.2" y="60.1">n=0</text>
<text x="506.2" y="82.7">n=0.1</text>
<text x="506.2" y="105.4">n=0.2</text>
<text x="506.2" y="128">n=0.3</text>
<text x="506.2" y="150.7">n=0.4</text>
<text x="506.2" y="173.4">n=0.5</text>
<text x="506.2" y="196">n=0.6</text>
<text x="506.2" y="218.6">n=0.7</text>
<text x="506.2" y="241.3">n=0.8</text>
<text x="506.2" y="263.9">n=0.9</text>
<text x="506.2" y="286.6">n=1</text>
</g></g>
<path d="M917.6 60V422" stroke="#1010ff" stroke-width="1.05" stroke-dasharray="7 1.4 1.2 1.4" fill="none"/>
<path d="M689.6 314.9L706.7 259.3M711.1 246.9L727 208.5M732.4 196.5L747.4 166.2M753.9 154.7L767.7 132.6M775.4 121.9L788 106.3M797.1 96.8L808.1 87.2M818.5 79.2L828.4 72.7M840 66.6L848.7 63M861.2 59L869.2 57.1M882.2 54.9L890 54.2M903.1 53.2L910.8 52.9M924 52.9L931.7 53.2M944.9 54.1L952.6 54.8M965.8 56.2L973.5 57.1M986.6 58.9L994.5 60.2M1007.5 62.4L1015.4 63.7M1028.4 66L1036.2 67.4M1049.2 69.7L1057.1 71.1M1070.1 73.6L1078 75.1M1090.6 78.8L1099.3 82.3" stroke="#0000ff" stroke-width="2.0" fill="none"/>
<path d="M687.7 316L693.8 326.3L681.6 326.3ZM708.6 247.8L714.7 258.1L702.5 258.1ZM729.5 197.2L735.6 207.5L723.4 207.5ZM750.4 155.1L756.5 165.4L744.3 165.4ZM771.2 121.8L777.3 132.1L765.1 132.1ZM792.1 96L798.2 106.3L786 106.3ZM813 77.6L819.1 87.9L806.9 87.9ZM833.9 63.9L840 74.2L827.8 74.2ZM854.8 55.3L860.9 65.6L848.7 65.6ZM875.7 50.4L881.8 60.7L869.6 60.7ZM896.6 48.3L902.7 58.6L890.5 58.6ZM917.4 47.4L923.5 57.7L911.3 57.7ZM938.3 48.3L944.4 58.6L932.2 58.6ZM959.2 50.2L965.3 60.5L953.1 60.5ZM980.1 52.7L986.2 63L974 63ZM1001 56L1007.1 66.3L994.9 66.3ZM1021.9 59.7L1028 70L1015.8 70ZM1042.7 63.3L1048.8 73.6L1036.6 73.6ZM1063.6 67.1L1069.7 77.4L1057.5 77.4ZM1084.5 71.2L1090.6 81.5L1078.4 81.5ZM1105.4 79.5L1111.5 89.8L1099.3 89.8Z" fill="#0000ff"/>
<path d="M693.1 337L703.2 331.9M714 326.6L724.1 321.5M734.8 316.2L745 311.1M755.7 305.8L765.9 300.7M776.6 295.3L786.8 290.2M797.5 284.9L807.6 279.8M818.4 274.4L828.5 269.3M839.3 263.9L849.4 258.8M860.1 253.4L870.3 248.3M881 242.9L891.2 237.7M901.9 232.3L912.1 227.2M922.8 221.8L933 216.6M943.7 211.2L953.9 206M964.6 200.6L974.7 195.4M985.4 190L995.6 184.8M1006.3 179.4L1016.5 174.2M1027.2 168.7L1037.4 163.6M1048.1 158.1L1058.3 152.9M1069 147.4L1079.2 142.2M1089.9 136.7L1100.1 131.5" stroke="#ff8a0d" stroke-width="2.0" fill="none"/>
<circle cx="687.7" cy="339.7" r="5.3" fill="url(#gs)"/>
<circle cx="708.6" cy="329.3" r="5.3" fill="url(#gs)"/>
<circle cx="729.5" cy="318.9" r="5.3" fill="url(#gs)"/>
<circle cx="750.4" cy="308.4" r="5.3" fill="url(#gs)"/>
<circle cx="771.2" cy="298" r="5.3" fill="url(#gs)"/>
<circle cx="792.1" cy="287.6" r="5.3" fill="url(#gs)"/>
<circle cx="813" cy="277.1" r="5.3" fill="url(#gs)"/>
<circle cx="833.9" cy="266.6" r="5.3" fill="url(#gs)"/>
<circle cx="854.8" cy="256.1" r="5.3" fill="url(#gs)"/>
<circle cx="875.7" cy="245.6" r="5.3" fill="url(#gs)"/>
<circle cx="896.6" cy="235" r="5.3" fill="url(#gs)"/>
<circle cx="917.4" cy="224.5" r="5.3" fill="url(#gs)"/>
<circle cx="938.3" cy="213.9" r="5.3" fill="url(#gs)"/>
<circle cx="959.2" cy="203.3" r="5.3" fill="url(#gs)"/>
<circle cx="980.1" cy="192.7" r="5.3" fill="url(#gs)"/>
<circle cx="1001" cy="182.1" r="5.3" fill="url(#gs)"/>
<circle cx="1021.9" cy="171.5" r="5.3" fill="url(#gs)"/>
<circle cx="1042.7" cy="160.8" r="5.3" fill="url(#gs)"/>
<circle cx="1063.6" cy="150.2" r="5.3" fill="url(#gs)"/>
<circle cx="1084.5" cy="139.5" r="5.3" fill="url(#gs)"/>
<circle cx="1105.4" cy="128.8" r="5.3" fill="url(#gs)"/>
<path d="M693.9 360.7L702.4 356.2M714.8 349.7L723.3 345.3M735.7 338.7L744.2 334.3M756.6 327.8L765 323.3M777.4 316.8L785.9 312.3M798.3 305.8L806.8 301.4M819.2 294.9L827.7 290.4M840.1 283.9L848.6 279.4M861 272.9L869.5 268.5M881.9 261.9L890.4 257.5M902.7 251L911.2 246.5M923.6 240L932.1 235.5M944.5 229L953 224.6M965.4 218.1L973.9 213.6M986.3 207.1L994.8 202.6M1007.2 196.1L1015.7 191.6M1028.1 185.1L1036.5 180.7M1048.9 174.2L1057.4 169.7M1069.8 163.2L1078.3 158.7M1090.7 152.2L1099.2 147.8" stroke="#ff0000" stroke-width="2.0" fill="none"/>
<path d="M687.7 357.4L694.3 364L687.7 370.6L681.1 364ZM708.6 346.4L715.2 353L708.6 359.6L702 353ZM729.5 335.4L736.1 342L729.5 348.6L722.9 342ZM750.4 324.4L757 331L750.4 337.6L743.8 331ZM771.2 313.5L777.8 320.1L771.2 326.7L764.6 320.1ZM792.1 302.5L798.7 309.1L792.1 315.7L785.5 309.1ZM813 291.5L819.6 298.1L813 304.7L806.4 298.1ZM833.9 280.5L840.5 287.1L833.9 293.7L827.3 287.1ZM854.8 269.6L861.4 276.2L854.8 282.8L848.2 276.2ZM875.7 258.6L882.3 265.2L875.7 271.8L869.1 265.2ZM896.6 247.6L903.2 254.2L896.6 260.8L890 254.2ZM917.4 236.7L924 243.3L917.4 249.9L910.8 243.3ZM938.3 225.7L944.9 232.3L938.3 238.9L931.7 232.3ZM959.2 214.7L965.8 221.3L959.2 227.9L952.6 221.3ZM980.1 203.7L986.7 210.3L980.1 216.9L973.5 210.3ZM1001 192.8L1007.6 199.4L1001 206L994.4 199.4ZM1021.9 181.8L1028.5 188.4L1021.9 195L1015.3 188.4ZM1042.7 170.8L1049.3 177.4L1042.7 184L1036.1 177.4ZM1063.6 159.8L1070.2 166.4L1063.6 173L1057 166.4ZM1084.5 148.9L1091.1 155.5L1084.5 162.1L1077.9 155.5ZM1105.4 137.9L1112 144.5L1105.4 151.1L1098.8 144.5Z" fill="#ff0000"/>
<path d="M919.2 62.1L938.3 83.3" stroke="#000" stroke-width="1" fill="none"/><path d="M944 89.6L936.2 85.2L940.4 81.4Z" fill="#000"/>
<path d="M922 253.8L942 276.7" stroke="#000" stroke-width="1" fill="none"/><path d="M947.6 283.1L939.9 278.5L944.1 274.9Z" fill="#000"/>
<g stroke-width="2" fill="none">
<path d="M1137.3 42.7H651M656 42.7V422.9H1137.3" stroke="#000"/>
<path d="M656 422.9h-8.5M656 371.5h-8.5M656 320.1h-8.5M656 268.7h-8.5M656 217.4h-8.5M656 166h-8.5M656 114.6h-8.5M656 63.2h-8.5M656 397.2h-5M656 345.8h-5M656 294.4h-5M656 243.1h-5M656 191.7h-5M656 140.3h-5M656 88.9h-5M687.7 422.9v8.5M792.1 422.9v8.5M896.6 422.9v8.5M1001 422.9v8.5M1105.4 422.9v8.5M739.9 422.9v5M844.3 422.9v5M948.8 422.9v5M1053.2 422.9v5" stroke="#000"/>
<path d="M1137.3 41.7V423.9M1137.3 399.1h8M1137.3 351.6h8M1137.3 304.1h8M1137.3 256.6h8M1137.3 209.1h8M1137.3 161.6h8M1137.3 114.1h8M1137.3 66.6h8M1137.3 422.9h4.6M1137.3 375.4h4.6M1137.3 327.9h4.6M1137.3 280.4h4.6M1137.3 232.9h4.6M1137.3 185.4h4.6M1137.3 137.9h4.6M1137.3 90.4h4.6M1137.3 42.9h4.6" stroke="#ff0000"/>
<path d="M1190 41.7V423.9M1190 382.7h8.5M1190 326h8.5M1190 269.3h8.5M1190 212.6h8.5M1190 155.9h8.5M1190 99.2h8.5M1190 42.5h8.5M1190 411.1h5M1190 354.4h5M1190 297.6h5M1190 240.9h5M1190 184.2h5M1190 127.6h5M1190 70.9h5" stroke="#0000ff"/>
</g>
<g font-family="'Liberation Serif',serif" font-weight="bold" font-size="17.1">
<text x="642.6" y="428.5" text-anchor="end" fill="#000">0</text>
<text x="642.6" y="377.1" text-anchor="end" fill="#000">50</text>
<text x="642.6" y="325.7" text-anchor="end" fill="#000">100</text>
<text x="642.6" y="274.3" text-anchor="end" fill="#000">150</text>
<text x="642.6" y="223" text-anchor="end" fill="#000">200</text>
<text x="642.6" y="171.6" text-anchor="end" fill="#000">250</text>
<text x="642.6" y="120.2" text-anchor="end" fill="#000">300</text>
<text x="642.6" y="68.8" text-anchor="end" fill="#000">350</text>
<text x="687.7" y="449.8" text-anchor="middle" fill="#000">0.0</text>
<text x="792.1" y="449.8" text-anchor="middle" fill="#000">0.5</text>
<text x="896.6" y="449.8" text-anchor="middle" fill="#000">1.0</text>
<text x="1001" y="449.8" text-anchor="middle" fill="#000">1.5</text>
<text x="1105.4" y="449.8" text-anchor="middle" fill="#000">2.0</text>
<text x="1149.6" y="404.8" font-size="17.3" fill="#ff0000">0</text>
<text x="1149.6" y="357.3" font-size="17.3" fill="#ff0000">10</text>
<text x="1149.6" y="309.8" font-size="17.3" fill="#ff0000">20</text>
<text x="1149.6" y="262.3" font-size="17.3" fill="#ff0000">30</text>
<text x="1149.6" y="214.8" font-size="17.3" fill="#ff0000">40</text>
<text x="1149.6" y="167.3" font-size="17.3" fill="#ff0000">50</text>
<text x="1149.6" y="119.8" font-size="17.3" fill="#ff0000">60</text>
<text x="1149.6" y="72.3" font-size="17.3" fill="#ff0000">70</text>
<text x="1203.3" y="388.4" font-size="17.3" fill="#0000ff">0.4</text>
<text x="1203.3" y="331.7" font-size="17.3" fill="#0000ff">0.5</text>
<text x="1203.3" y="275" font-size="17.3" fill="#0000ff">0.6</text>
<text x="1203.3" y="218.3" font-size="17.3" fill="#0000ff">0.7</text>
<text x="1203.3" y="161.6" font-size="17.3" fill="#0000ff">0.8</text>
<text x="1203.3" y="104.9" font-size="17.3" fill="#0000ff">0.9</text>
<text x="1203.3" y="48.2" font-size="17.3" fill="#0000ff">1.0</text>
</g>
<g font-family="'Liberation Serif',serif" font-weight="bold" font-size="21.5">
<text x="897.5" y="474.5" text-anchor="middle" font-style="italic" fill="#000">n</text>
<text x="668.2" y="68.9" fill="#000">(b)</text>
<text transform="translate(604.6 222) rotate(-90)" text-anchor="middle" fill="#000"><tspan font-style="italic">E</tspan><tspan font-size="12.2" dy="6">a</tspan></text>
<text transform="translate(1181 210.5) rotate(-90)" text-anchor="middle" fill="#ff0000">ln<tspan font-style="italic">A</tspan></text>
<text transform="translate(1248 207.5) rotate(-90)" text-anchor="middle" fill="#0000ff"><tspan font-style="italic">R</tspan><tspan font-size="12.2" dy="-9">2</tspan></text>
<text x="848.7" y="113.4" fill="#000"><tspan font-style="italic">n</tspan>=1.1</text>
<text x="926" y="113.4" fill="#000"><tspan font-style="italic">R</tspan><tspan font-size="12.2" dy="-9">2</tspan><tspan font-size="12.2" dy="15.5">max</tspan><tspan dy="-6.5">=0.98080</tspan></text>
<text x="927.5" y="308.8" fill="#000"><tspan font-style="italic">E</tspan><tspan font-size="12.2" dy="6">a</tspan><tspan dy="-6">=192.9 kJ/mol</tspan></text>
<text x="927.5" y="343.6" fill="#000">ln<tspan font-style="italic">A</tspan>=32.7 s<tspan font-size="12.2" dy="-9">-1</tspan></text>
<text x="1095.5" y="345.4" fill="#000"><tspan font-style="italic">E</tspan><tspan font-size="12.2" dy="6">a</tspan></text>
<text x="1095.5" y="377.3" fill="#000">ln<tspan font-style="italic">A</tspan></text>
<text x="1095.5" y="407.7" fill="#000"><tspan font-style="italic">R</tspan><tspan font-size="12.2" dy="-9">2</tspan></text>
</g>
<path d="M1047.7 338.1H1065.5M1077.5 338.1H1096" stroke="#ff8a0d" stroke-width="2"/>
<circle cx="1071.5" cy="338.1" r="5.3" fill="url(#gs)"/>
<path d="M1047.7 371.1H1096" stroke="#ff0000" stroke-width="2"/>
<path d="M1071.5 364.8L1077.8 371.1L1071.5 377.4L1065.2 371.1Z" fill="#ff0000"/>
<path d="M1047.7 400.8H1063.5M1079.5 400.8H1096" stroke="#0000ff" stroke-width="2"/>
<path d="M1071.5 393.8L1077.7 404.1L1065.3 404.1Z" fill="#0000ff"/>
<g font-family="'Liberation Serif',serif" fill="#111" font-size="18">
<text x="299" y="517.8" font-weight="bold" textLength="51.2" lengthAdjust="spacing">Fig. 8.</text>
<text x="360.7" y="517.8" textLength="621" lengthAdjust="spacing">Ln<tspan font-style="italic">k</tspan> vs. 1/<tspan font-style="italic">T</tspan> curves (a) and kinetic calculation results (b) for nitration products.</text>
</g>
</svg>
</body></html>
